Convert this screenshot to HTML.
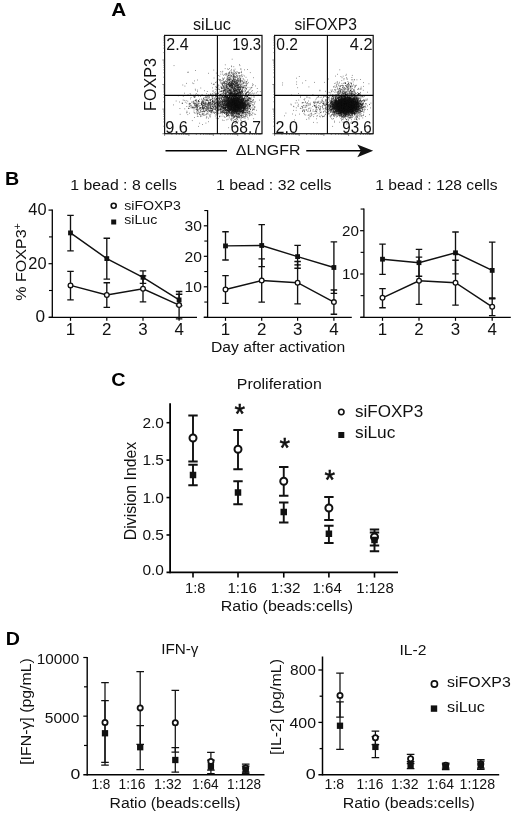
<!DOCTYPE html>
<html lang="en"><head><meta charset="utf-8"><title>Figure</title>
<style>
html,body{margin:0;padding:0;background:#fff;}
body{width:520px;height:817px;overflow:hidden;}
svg{display:block;font-family:'Liberation Sans', Arial, Helvetica, sans-serif;}
</style></head><body>
<svg width="520" height="817" viewBox="0 0 520 817">
<rect width="520" height="817" fill="#fff"/>
<g opacity="0.999">
<text x="111.20" y="15.75" font-size="19" textLength="15.00" lengthAdjust="spacingAndGlyphs" font-weight="bold" fill="#000">A</text>
<text x="193.00" y="29.80" font-size="16.2" textLength="37.80" lengthAdjust="spacingAndGlyphs" fill="#111">siLuc</text>
<text x="294.50" y="29.80" font-size="16.2" textLength="62.30" lengthAdjust="spacingAndGlyphs" fill="#111">siFOXP3</text>
<path d="M235.5 106.9h.65M233.7 101.2h.65M232.5 100.7h.65M235.9 111.9h.65M232.3 102.5h.65M238.7 107.2h.65M236.2 101.0h.65M235.3 108.8h.65M226.8 103.3h.65M223.1 99.3h.65M223.5 104.4h.65M227.3 106.8h.65M236.5 104.6h.65M219.1 102.9h.65M235.2 106.0h.65M225.6 103.2h.65M229.1 101.6h.65M242.4 101.6h.65M235.3 109.7h.65M231.7 105.0h.65M236.2 105.8h.65M227.5 105.9h.65M244.3 98.1h.65M241.1 106.1h.65M231.3 115.1h.65M240.5 99.7h.65M236.0 108.3h.65M234.3 108.8h.65M235.1 108.7h.65M244.9 102.3h.65M236.8 103.3h.65M236.3 99.8h.65M231.7 104.6h.65M241.3 111.0h.65M226.9 101.7h.65M239.7 95.9h.65M232.5 105.0h.65M243.7 108.8h.65M233.4 103.7h.65M233.9 112.8h.65M232.7 104.0h.65M237.8 104.9h.65M234.2 100.2h.65M235.4 103.4h.65M243.1 108.6h.65M235.3 108.7h.65M233.3 110.6h.65M235.5 108.3h.65M227.1 107.2h.65M224.5 95.7h.65M233.5 101.2h.65M236.6 116.3h.65M230.1 102.5h.65M236.8 107.9h.65M234.4 104.5h.65M240.1 108.0h.65M228.8 105.1h.65M235.7 100.4h.65M237.2 101.4h.65M241.8 106.4h.65M236.1 102.7h.65M234.7 95.9h.65M228.1 107.2h.65M221.7 109.6h.65M224.2 109.1h.65M230.0 109.2h.65M236.4 98.1h.65M243.6 112.4h.65M235.1 104.2h.65M234.5 100.8h.65M242.6 102.9h.65M235.2 101.7h.65M231.4 99.4h.65M243.7 104.8h.65M241.8 105.6h.65M231.0 103.9h.65M231.9 105.5h.65M233.1 104.1h.65M226.5 101.6h.65M246.3 102.3h.65M228.6 107.1h.65M244.6 98.5h.65M234.1 102.5h.65M224.1 109.0h.65M235.3 105.8h.65M230.6 107.7h.65M232.0 104.8h.65M228.3 99.7h.65M244.2 103.1h.65M237.4 105.3h.65M232.6 103.1h.65M239.6 104.1h.65M234.5 105.6h.65M243.1 108.8h.65M238.0 102.8h.65M226.5 110.1h.65M241.8 104.8h.65M239.0 109.3h.65M240.9 109.9h.65M232.5 112.8h.65M227.4 109.6h.65M238.7 109.7h.65M247.7 112.6h.65M228.1 97.4h.65M240.8 100.6h.65M235.4 109.5h.65M224.8 95.4h.65M237.2 105.7h.65M233.9 105.7h.65M229.9 98.2h.65M234.4 100.8h.65M224.8 107.9h.65M235.1 107.5h.65M229.1 102.3h.65M229.0 101.2h.65M236.8 101.7h.65M237.8 107.1h.65M248.7 98.8h.65M241.3 105.1h.65M235.4 98.5h.65M232.5 109.1h.65M235.0 105.9h.65M233.6 111.0h.65M235.4 94.9h.65M231.0 96.0h.65M214.4 103.0h.65M244.2 105.7h.65M227.9 101.0h.65M242.8 106.3h.65M235.8 105.2h.65M235.7 109.4h.65M239.1 106.5h.65M228.7 108.0h.65M231.1 110.8h.65M227.2 104.8h.65M235.5 99.1h.65M246.7 112.5h.65M232.5 109.2h.65M238.0 93.0h.65M237.1 105.2h.65M236.0 100.3h.65M233.7 104.6h.65M243.2 107.1h.65M235.5 112.8h.65M231.9 103.6h.65M223.7 113.0h.65M241.8 109.9h.65M239.8 106.0h.65M236.9 104.3h.65M234.2 105.8h.65M245.3 108.2h.65M235.1 102.7h.65M231.4 113.2h.65M238.8 105.8h.65M233.2 100.2h.65M235.1 109.7h.65M232.9 104.4h.65M234.1 106.0h.65M225.1 104.4h.65M229.9 109.7h.65M230.5 108.3h.65M245.4 104.0h.65M231.6 106.4h.65M235.5 100.7h.65M238.5 115.2h.65M233.8 104.5h.65M228.7 107.0h.65M227.4 100.2h.65M243.8 101.2h.65M242.5 112.8h.65M237.2 108.2h.65M248.2 104.6h.65M231.6 99.0h.65M235.8 112.6h.65M241.7 101.0h.65M229.9 103.1h.65M237.4 104.5h.65M236.9 106.9h.65M233.6 105.3h.65M236.8 105.1h.65M238.8 114.5h.65M239.3 105.8h.65M224.5 107.4h.65M222.8 98.7h.65M241.1 108.9h.65M234.5 97.3h.65M233.1 102.2h.65M239.6 116.3h.65M236.9 101.8h.65M227.9 105.2h.65M234.4 100.0h.65M236.3 100.0h.65M242.7 110.6h.65M242.6 103.2h.65M238.8 104.9h.65M233.0 103.9h.65M227.1 98.6h.65M240.7 104.6h.65M236.9 110.3h.65M224.2 101.7h.65M236.6 107.4h.65M233.0 110.4h.65M236.9 99.7h.65M229.5 109.4h.65M238.5 96.4h.65M244.3 108.4h.65M244.2 103.7h.65M233.6 100.1h.65M252.0 104.7h.65M245.8 102.4h.65M236.6 97.5h.65M233.0 110.2h.65M227.4 110.6h.65M237.7 100.5h.65M232.2 103.3h.65M235.2 102.9h.65M230.1 104.0h.65M228.8 99.3h.65M235.2 109.7h.65M225.6 105.5h.65M231.3 100.8h.65M241.0 103.0h.65M245.2 101.8h.65M238.0 104.4h.65M230.6 108.3h.65M234.5 108.4h.65M235.2 100.3h.65M234.8 105.7h.65M241.7 101.1h.65M235.2 97.2h.65M239.7 100.3h.65M223.8 105.2h.65M242.7 98.2h.65M228.4 101.9h.65M228.2 107.3h.65M230.3 102.0h.65M239.3 101.9h.65M238.3 100.8h.65M227.6 96.7h.65M247.6 104.0h.65M237.1 105.4h.65M236.5 105.7h.65M247.9 100.5h.65M225.4 100.6h.65M226.8 109.1h.65M240.8 100.9h.65M226.5 103.8h.65M244.5 92.0h.65M238.9 100.3h.65M242.3 100.3h.65M233.6 98.3h.65M229.1 112.2h.65M240.8 103.6h.65M229.8 96.4h.65M232.9 105.4h.65M235.0 105.0h.65M228.2 105.2h.65M235.2 111.7h.65M247.6 104.8h.65M230.5 105.2h.65M231.6 101.9h.65M235.1 100.5h.65M239.4 105.0h.65M237.1 104.6h.65M230.8 100.9h.65M234.0 102.9h.65M237.0 105.5h.65M226.6 105.8h.65M226.8 102.5h.65M233.6 95.5h.65M236.1 106.2h.65M234.5 103.5h.65M233.1 100.8h.65M233.7 102.8h.65M236.1 99.7h.65M237.0 106.2h.65M234.6 103.4h.65M239.1 97.5h.65M238.5 106.7h.65M237.3 107.3h.65M231.3 104.3h.65M239.6 107.6h.65M236.8 98.2h.65M239.0 111.1h.65M242.1 106.6h.65M225.4 110.0h.65M234.5 93.3h.65M238.0 98.3h.65M227.1 102.5h.65M243.8 103.7h.65M237.3 113.9h.65M245.9 105.0h.65M233.9 99.4h.65M231.0 107.5h.65M238.1 106.0h.65M242.0 101.8h.65M235.1 109.0h.65M239.3 110.6h.65M238.1 104.0h.65M237.9 100.7h.65M224.8 108.3h.65M235.1 107.0h.65M224.5 103.7h.65M231.6 101.4h.65M220.8 103.9h.65M241.3 107.3h.65M231.6 105.4h.65M240.4 92.2h.65M234.7 108.1h.65M239.9 113.7h.65M242.9 107.0h.65M237.5 109.3h.65M232.0 105.3h.65M241.4 114.9h.65M234.5 105.3h.65M236.8 111.9h.65M235.3 112.6h.65M229.2 104.6h.65M234.2 109.3h.65M242.3 98.3h.65M229.6 107.1h.65M231.2 98.2h.65M242.3 107.9h.65M238.7 103.2h.65M242.2 104.3h.65M242.6 101.1h.65M229.9 106.5h.65M230.9 108.7h.65M237.2 101.1h.65M236.0 103.8h.65M241.5 102.5h.65M232.6 111.3h.65M250.1 115.1h.65M235.9 106.6h.65M245.5 104.9h.65M229.2 106.1h.65M238.4 101.5h.65M224.8 98.6h.65M239.8 101.9h.65M234.6 106.5h.65M239.5 103.9h.65M238.7 101.2h.65M233.1 100.6h.65M242.9 105.4h.65M230.7 103.8h.65M234.1 108.9h.65M225.1 100.5h.65M233.0 117.7h.65M241.7 105.0h.65M240.1 115.4h.65M234.0 103.7h.65M243.4 107.9h.65M239.9 103.1h.65M248.0 113.7h.65M239.2 108.8h.65M222.3 108.6h.65M234.2 107.6h.65M239.9 103.9h.65M224.5 107.3h.65M230.7 103.9h.65M231.6 103.9h.65M220.5 111.3h.65M237.1 110.8h.65M248.4 105.6h.65M223.8 101.2h.65M227.7 103.1h.65M236.0 95.9h.65M237.7 98.3h.65M237.4 105.0h.65M233.5 105.1h.65M232.0 102.6h.65M224.6 105.4h.65M247.5 115.0h.65M244.1 108.9h.65M231.1 112.4h.65M235.1 105.2h.65M233.6 105.9h.65M232.7 105.1h.65M228.5 103.7h.65M250.3 105.2h.65M233.9 108.1h.65M240.1 100.2h.65M234.2 109.9h.65M237.3 106.1h.65M245.6 102.2h.65M236.0 103.0h.65M245.2 96.1h.65M231.1 103.0h.65M239.8 108.4h.65M244.6 97.9h.65M240.4 104.1h.65M231.2 108.1h.65M229.5 95.5h.65M233.1 98.3h.65M231.3 107.3h.65M237.5 113.1h.65M234.2 98.1h.65M230.6 101.1h.65M227.6 107.6h.65M231.3 96.0h.65M240.0 105.0h.65M237.8 106.0h.65M239.6 105.7h.65M243.5 107.5h.65M238.0 107.5h.65M226.0 104.7h.65M233.8 106.5h.65M226.7 113.3h.65M236.2 99.7h.65M224.4 104.1h.65M234.9 102.1h.65M236.1 102.4h.65M239.1 102.0h.65M235.2 110.2h.65M252.2 100.7h.65M232.5 101.5h.65M240.6 100.0h.65M232.4 105.4h.65M229.1 100.9h.65M232.4 95.4h.65M226.1 103.5h.65M236.5 104.6h.65M224.0 103.3h.65M240.7 108.2h.65M235.0 101.2h.65M239.6 102.7h.65M227.9 101.6h.65M244.9 106.6h.65M243.0 103.2h.65M241.6 102.6h.65M234.5 117.4h.65M240.5 103.1h.65M234.9 107.1h.65M243.4 103.2h.65M224.2 104.2h.65M235.6 106.0h.65M244.1 107.0h.65M240.8 100.2h.65M241.1 115.6h.65M240.5 106.7h.65M236.5 114.1h.65M229.5 105.0h.65M238.5 109.1h.65M232.7 107.0h.65M233.7 106.1h.65M234.6 100.0h.65M235.4 109.7h.65M229.2 104.3h.65M239.8 100.4h.65M236.7 100.4h.65M242.9 116.6h.65M248.6 104.4h.65M240.3 106.1h.65M236.2 112.9h.65M226.9 110.6h.65M235.2 112.3h.65M236.7 102.3h.65M237.3 109.0h.65M235.7 107.8h.65M232.1 95.3h.65M241.4 108.9h.65M236.5 105.8h.65M242.2 103.3h.65M230.9 104.6h.65M243.2 98.8h.65M243.2 102.4h.65M228.3 111.5h.65M234.9 99.3h.65M233.2 110.0h.65M243.2 103.4h.65M238.1 108.9h.65M231.3 107.2h.65M235.3 102.9h.65M232.3 105.8h.65M235.7 102.8h.65M232.7 110.8h.65M236.9 109.7h.65M243.3 108.3h.65M250.3 101.5h.65M240.8 104.0h.65M247.6 113.7h.65M222.8 100.8h.65M239.8 109.3h.65M240.3 105.2h.65M238.5 108.6h.65M235.0 110.4h.65M220.8 108.5h.65M228.8 110.1h.65M234.0 101.2h.65M237.9 101.1h.65M229.6 98.0h.65M235.3 107.9h.65M242.1 104.8h.65M242.3 105.6h.65M234.9 108.3h.65M242.4 103.9h.65M233.9 104.7h.65M236.0 101.2h.65M242.2 103.6h.65M238.5 101.5h.65M237.8 107.4h.65M232.8 115.2h.65M237.9 114.0h.65M241.7 102.3h.65M233.0 107.6h.65M235.9 105.7h.65M233.6 96.8h.65M234.0 94.9h.65M237.9 102.0h.65M230.8 104.4h.65M237.3 98.6h.65M224.1 100.4h.65M222.2 100.9h.65M245.8 100.4h.65M239.7 98.9h.65M237.4 104.0h.65M235.1 108.2h.65M246.9 106.4h.65M236.3 100.8h.65M239.3 104.3h.65M240.9 105.3h.65M246.8 96.0h.65M233.6 109.7h.65M233.2 101.7h.65M233.8 98.9h.65M236.3 117.2h.65M242.9 100.2h.65M229.8 103.6h.65M242.0 101.6h.65M231.0 109.7h.65M241.1 103.7h.65M228.2 98.1h.65M231.0 94.8h.65M240.4 102.5h.65M238.6 114.5h.65M243.1 100.0h.65M241.2 111.1h.65M230.6 100.9h.65M234.8 97.8h.65M245.1 94.0h.65M228.3 104.2h.65M234.0 106.3h.65M237.3 104.5h.65M242.9 95.2h.65M235.5 102.1h.65M236.4 106.6h.65M229.6 102.4h.65M240.7 107.2h.65M231.1 115.3h.65M250.5 98.5h.65M237.5 117.5h.65M240.6 106.6h.65M234.1 102.9h.65M234.1 102.9h.65M240.3 103.6h.65M232.6 99.7h.65M235.2 101.2h.65M234.3 110.5h.65M237.9 107.9h.65M237.8 105.8h.65M234.7 104.0h.65M240.4 100.3h.65M244.2 105.7h.65M230.6 103.2h.65M231.1 106.3h.65M230.8 111.0h.65M230.4 94.6h.65M230.7 95.9h.65M235.2 110.6h.65M239.7 99.1h.65M230.5 114.0h.65M237.6 105.5h.65M242.4 117.3h.65M243.9 106.2h.65M237.8 108.5h.65M231.5 100.4h.65M235.8 101.0h.65M235.1 106.0h.65M250.7 101.4h.65M234.7 104.7h.65M238.3 110.5h.65M232.3 101.6h.65M224.8 101.1h.65M239.0 105.7h.65M228.9 103.7h.65M235.7 107.9h.65M231.6 104.3h.65M223.7 100.0h.65M246.0 95.0h.65M233.3 106.6h.65M233.1 101.6h.65M235.1 105.5h.65M235.0 96.5h.65M234.5 101.4h.65M231.9 106.6h.65M239.7 109.8h.65M232.3 109.9h.65M243.1 111.0h.65M244.5 104.8h.65M234.4 109.5h.65M226.6 106.5h.65M232.1 103.7h.65M224.2 101.2h.65M235.4 109.8h.65M241.9 105.1h.65M234.3 101.5h.65M238.1 104.3h.65M239.4 113.9h.65M235.3 98.3h.65M229.9 98.5h.65M227.7 111.8h.65M237.0 98.2h.65M239.7 111.5h.65M233.2 102.3h.65M233.3 106.9h.65M239.7 111.2h.65M243.4 111.2h.65M244.4 108.7h.65M225.5 104.9h.65M237.5 103.7h.65M241.4 103.8h.65M229.5 112.4h.65M239.8 106.6h.65M241.5 110.6h.65M237.7 93.7h.65M231.1 103.3h.65M229.1 106.5h.65M243.2 103.2h.65M228.1 115.2h.65M232.6 99.6h.65M237.0 107.5h.65M230.9 109.3h.65M232.3 101.1h.65M236.7 109.2h.65M231.4 107.1h.65M234.9 119.1h.65M230.9 112.1h.65M235.2 104.9h.65M240.2 109.8h.65M243.7 107.1h.65M231.6 102.9h.65M238.8 108.3h.65M244.6 107.5h.65M242.4 112.8h.65M236.6 98.4h.65M227.8 98.6h.65M245.8 101.4h.65M243.5 108.3h.65M246.6 110.3h.65M234.8 104.5h.65M236.1 106.3h.65M232.1 105.3h.65M246.0 97.3h.65M237.2 101.1h.65M236.7 109.5h.65M235.1 109.2h.65M225.2 110.8h.65M231.6 108.5h.65M236.7 93.1h.65M230.6 106.6h.65M245.6 106.9h.65M237.2 98.7h.65M244.8 114.2h.65M235.7 104.4h.65M225.0 109.7h.65M253.1 108.9h.65M243.7 108.1h.65M229.1 111.9h.65M227.5 104.5h.65M237.3 109.7h.65M238.2 107.4h.65M230.6 99.3h.65M235.9 102.1h.65M227.0 99.4h.65M232.3 96.6h.65M226.7 97.7h.65M236.7 107.5h.65M248.5 98.3h.65M231.1 109.9h.65M234.1 103.9h.65M246.6 103.9h.65M228.0 99.2h.65M237.7 107.0h.65M226.6 100.8h.65M239.0 108.3h.65M231.3 108.5h.65M239.2 96.9h.65M233.5 107.5h.65M231.8 95.2h.65M233.7 109.1h.65M245.8 95.0h.65M252.5 100.1h.65M241.7 111.4h.65M241.9 106.2h.65M228.0 108.5h.65M230.9 93.4h.65M253.9 108.9h.65M247.3 101.1h.65M245.0 113.1h.65M245.6 105.4h.65M227.7 104.6h.65M221.2 97.3h.65M236.1 100.7h.65M234.4 105.0h.65M248.0 111.7h.65M235.2 111.3h.65M230.4 103.9h.65M241.4 99.5h.65M233.7 99.2h.65M236.3 113.3h.65M230.6 106.6h.65M229.7 100.0h.65M227.5 112.5h.65M250.9 107.8h.65M230.8 108.9h.65M233.3 109.3h.65M237.4 106.8h.65M239.4 102.7h.65M232.9 97.2h.65M232.6 98.7h.65M234.6 100.9h.65M236.2 107.7h.65M226.3 101.6h.65M229.4 109.1h.65M246.6 109.6h.65M233.2 112.5h.65M225.7 112.7h.65M231.2 92.2h.65M252.7 113.1h.65M228.8 106.3h.65M234.1 106.0h.65M225.9 102.2h.65M238.5 106.6h.65M243.3 105.9h.65M250.8 102.1h.65M237.2 96.3h.65M227.4 111.9h.65M229.4 108.0h.65M235.1 100.5h.65M233.2 103.0h.65M232.3 109.1h.65M239.7 102.7h.65M229.6 106.9h.65M234.8 110.4h.65M252.8 109.5h.65M235.3 104.7h.65M229.9 101.1h.65M229.0 103.6h.65M232.7 109.1h.65M232.9 104.6h.65M227.6 113.4h.65M238.8 114.1h.65M240.7 112.7h.65M233.9 108.9h.65M253.1 99.6h.65M243.1 113.7h.65M238.2 109.2h.65M243.8 102.3h.65M238.2 101.2h.65M231.0 102.5h.65M234.5 106.2h.65M238.5 98.5h.65M248.7 111.2h.65M240.3 103.7h.65M234.9 108.2h.65M238.2 97.2h.65M240.4 119.8h.65M223.2 110.4h.65M238.0 105.0h.65M244.6 99.7h.65M236.6 112.7h.65M234.2 103.4h.65M236.3 103.3h.65M245.8 101.0h.65M241.3 99.3h.65M240.0 105.0h.65M218.2 105.5h.65M228.4 103.3h.65M245.8 100.0h.65M228.4 112.6h.65M236.3 113.1h.65M237.7 101.1h.65M235.1 111.6h.65M241.8 105.5h.65M235.8 104.9h.65M231.6 115.0h.65M235.5 99.9h.65M232.3 109.1h.65M239.8 104.8h.65M231.0 105.6h.65M224.3 99.1h.65M240.8 103.1h.65M238.0 111.5h.65M239.8 105.6h.65M249.7 108.8h.65M233.1 109.1h.65M238.2 101.3h.65M236.0 104.7h.65M222.4 104.6h.65M233.6 103.3h.65M224.5 103.7h.65M235.2 106.0h.65M227.9 108.6h.65M227.4 104.4h.65M244.2 102.1h.65M232.1 110.8h.65M232.9 104.0h.65M237.0 110.7h.65M220.8 101.4h.65M228.8 100.2h.65M229.8 101.4h.65M237.5 101.1h.65M236.3 107.5h.65M230.6 106.1h.65M246.4 107.1h.65M231.3 105.2h.65M229.4 106.8h.65M241.2 101.5h.65M234.1 111.0h.65M232.2 106.4h.65M228.7 101.5h.65M232.1 115.9h.65M232.8 103.0h.65M231.8 104.7h.65M239.8 106.4h.65M248.9 106.5h.65M244.9 106.8h.65M239.4 98.6h.65M234.7 105.2h.65M233.9 95.2h.65M241.2 103.6h.65M232.7 104.3h.65M234.0 107.5h.65M227.2 101.0h.65M237.4 106.2h.65M233.1 102.7h.65M230.1 105.2h.65M243.2 100.4h.65M245.4 109.6h.65M232.6 109.3h.65M226.0 97.2h.65M227.1 103.5h.65M233.4 103.0h.65M236.1 95.3h.65M238.7 98.7h.65M231.2 103.5h.65M228.0 98.9h.65M229.0 105.4h.65M239.3 108.2h.65M229.0 101.7h.65M229.5 107.7h.65M222.3 111.4h.65M232.3 101.7h.65M237.7 110.5h.65M237.7 110.6h.65M236.4 111.4h.65M243.6 105.0h.65M244.9 106.3h.65M236.1 101.1h.65M233.6 109.2h.65M227.0 108.6h.65M237.8 106.8h.65M221.2 105.0h.65M239.7 101.8h.65M236.1 94.1h.65M239.9 102.3h.65M241.2 96.7h.65M240.0 104.4h.65M240.7 101.1h.65M231.5 116.3h.65M230.1 102.1h.65M233.7 100.6h.65M243.2 113.8h.65M230.9 97.2h.65M243.1 110.8h.65M240.8 111.1h.65M229.9 104.7h.65M226.5 98.7h.65M241.9 102.3h.65M250.3 105.9h.65M231.3 109.3h.65M247.2 107.8h.65M227.6 107.3h.65M244.4 103.1h.65M230.5 110.4h.65M236.4 100.2h.65M233.0 101.9h.65M237.4 106.0h.65M243.0 108.9h.65M225.3 107.5h.65M241.3 107.7h.65M242.2 102.9h.65M229.3 110.0h.65M228.6 95.1h.65M242.2 102.0h.65M233.5 98.8h.65M226.9 99.9h.65M233.2 107.3h.65M220.6 109.1h.65M227.8 100.4h.65M239.9 105.1h.65M225.5 114.4h.65M229.9 106.7h.65M236.8 112.3h.65M232.5 110.3h.65M230.7 110.9h.65M230.5 103.8h.65M247.8 107.0h.65M236.2 116.3h.65M237.8 101.6h.65M240.3 99.8h.65M242.8 111.3h.65M231.8 102.5h.65M236.6 105.6h.65M229.1 108.2h.65M222.2 103.4h.65M232.9 104.2h.65M237.5 99.6h.65M239.3 104.6h.65M231.3 98.9h.65M227.8 107.2h.65M229.2 105.8h.65M242.4 110.5h.65M245.6 104.1h.65M228.4 110.4h.65M237.5 110.9h.65M235.6 111.2h.65M241.0 108.9h.65M238.8 107.4h.65M237.0 106.6h.65M241.9 103.0h.65M246.8 105.0h.65M241.9 105.1h.65M233.9 115.3h.65M233.5 99.4h.65M230.9 104.0h.65M249.5 106.5h.65M241.6 100.7h.65M237.8 108.7h.65M247.2 102.2h.65M239.4 107.0h.65M228.9 105.4h.65M233.8 94.3h.65M239.4 108.1h.65M232.6 99.1h.65M245.1 106.8h.65M242.1 112.3h.65M232.1 109.4h.65M233.9 105.2h.65M234.9 105.5h.65M242.7 106.1h.65M234.5 104.2h.65M237.7 101.2h.65M232.2 105.2h.65M231.8 104.9h.65M231.5 115.1h.65M244.1 107.7h.65M235.2 116.0h.65M237.6 105.1h.65M237.5 107.0h.65M244.7 105.4h.65M249.1 101.3h.65M240.0 100.7h.65M247.3 103.9h.65M235.1 109.9h.65M243.7 100.2h.65M233.2 98.8h.65M236.4 105.0h.65M233.2 102.2h.65M233.0 101.9h.65M238.9 112.8h.65M223.0 104.9h.65M232.8 107.9h.65M229.3 104.8h.65M228.7 108.8h.65M236.1 104.7h.65M237.9 104.3h.65M225.4 108.4h.65M237.4 104.8h.65M241.9 111.3h.65M228.4 101.8h.65M245.6 112.3h.65M230.7 99.8h.65M231.4 103.1h.65M225.2 105.6h.65M227.2 99.7h.65M241.5 102.2h.65M235.0 108.5h.65M240.8 103.9h.65M235.8 101.5h.65M246.9 108.6h.65M228.3 105.5h.65M240.1 107.8h.65M247.4 112.1h.65M232.0 105.1h.65M227.2 106.7h.65M236.5 118.5h.65M236.1 95.5h.65M231.1 106.0h.65M227.3 101.3h.65M233.1 107.1h.65M234.4 101.2h.65M240.6 102.9h.65M232.3 98.9h.65M230.4 108.6h.65M225.0 105.2h.65M240.2 103.7h.65M237.1 100.1h.65M244.0 110.8h.65M237.0 97.1h.65M228.7 110.2h.65M246.6 106.9h.65M243.6 102.6h.65M234.3 105.5h.65M238.3 98.2h.65M241.6 111.8h.65M228.0 99.0h.65M237.8 102.4h.65M220.1 109.4h.65M236.5 103.2h.65M249.2 106.2h.65M230.6 106.0h.65M228.7 101.8h.65M238.0 102.8h.65M232.6 113.5h.65M241.1 109.4h.65M238.9 107.8h.65M245.0 105.4h.65M247.6 100.9h.65M233.8 98.9h.65M233.3 108.0h.65M244.9 102.3h.65M235.5 103.8h.65M230.7 99.8h.65M235.9 97.2h.65M236.2 105.6h.65M231.2 100.6h.65M226.5 114.5h.65M226.8 113.0h.65M239.4 103.8h.65M228.0 110.5h.65M246.7 101.0h.65M233.6 110.5h.65M237.7 115.1h.65M231.8 108.1h.65M227.4 115.6h.65M230.8 94.9h.65M234.7 104.8h.65M248.0 103.9h.65M235.4 108.3h.65M245.8 105.2h.65M242.3 108.0h.65M233.6 105.9h.65M235.7 101.1h.65M243.4 98.8h.65M243.1 110.1h.65M234.9 101.8h.65M234.0 107.8h.65M240.3 106.9h.65M241.9 102.8h.65M237.0 98.0h.65M240.5 106.2h.65M232.8 111.1h.65M240.0 92.0h.65M235.8 98.5h.65M242.4 117.4h.65M232.1 105.9h.65M233.9 107.2h.65M239.7 111.7h.65M229.1 113.0h.65M229.4 106.8h.65M243.0 108.9h.65M229.4 102.1h.65M232.5 105.3h.65M243.0 99.3h.65M238.5 108.4h.65M239.1 107.7h.65M245.4 107.8h.65M241.1 108.2h.65M247.2 96.4h.65M243.8 104.2h.65M233.7 100.8h.65M223.4 103.7h.65M231.0 107.9h.65M225.9 112.4h.65M237.3 104.3h.65M230.9 101.7h.65M228.2 102.9h.65M235.5 104.6h.65M226.3 104.2h.65M229.7 106.3h.65M247.6 108.5h.65M233.5 97.7h.65M226.3 97.4h.65M240.2 101.8h.65M235.9 102.5h.65M236.1 112.2h.65M231.0 103.9h.65M230.3 109.7h.65M228.8 100.1h.65M226.5 98.7h.65M238.6 117.8h.65M229.0 110.1h.65M237.1 100.2h.65M233.7 104.4h.65M231.0 114.8h.65M223.1 107.3h.65M237.7 102.7h.65M236.5 109.7h.65M236.5 107.5h.65M240.0 95.7h.65M245.1 116.4h.65M241.9 110.4h.65M226.3 104.9h.65M230.2 102.7h.65M241.8 101.6h.65M234.7 96.3h.65M234.5 105.9h.65M230.9 102.0h.65M247.8 99.7h.65M228.7 101.6h.65M243.3 115.6h.65M237.7 102.1h.65M232.7 110.6h.65M229.6 112.5h.65M244.7 105.8h.65M239.7 109.1h.65M245.6 100.5h.65M243.2 103.7h.65M230.5 106.0h.65M234.1 100.8h.65M225.1 101.0h.65M244.9 114.9h.65M239.7 111.2h.65M232.1 105.1h.65M237.3 100.3h.65M229.1 106.0h.65M233.4 100.4h.65M238.0 104.2h.65M242.1 105.5h.65M233.5 106.1h.65M234.4 102.3h.65M232.9 109.1h.65M239.7 111.7h.65M224.5 103.6h.65M232.8 106.3h.65M232.6 103.0h.65M240.6 106.4h.65M227.9 111.9h.65M242.0 102.7h.65M240.9 102.0h.65M242.8 104.5h.65M230.3 103.7h.65M230.5 106.4h.65M236.6 105.7h.65M231.9 87.9h.65M236.1 96.4h.65M237.1 110.9h.65M237.3 103.6h.65M234.3 104.9h.65M231.9 102.7h.65M229.5 111.2h.65M235.4 110.1h.65M233.9 105.8h.65M234.4 107.7h.65M240.9 106.7h.65M231.1 101.8h.65M246.3 104.2h.65M233.6 112.5h.65M242.6 108.1h.65M232.9 116.8h.65M238.1 108.1h.65M234.4 98.7h.65M226.8 107.5h.65M238.0 104.3h.65M227.9 98.6h.65M233.4 98.5h.65M241.3 111.0h.65M253.9 109.7h.65M231.6 101.3h.65M213.1 102.6h.65M234.3 110.1h.65M239.5 108.3h.65M236.9 108.7h.65M244.9 100.4h.65M232.5 98.8h.65M246.0 111.7h.65M240.4 99.7h.65M236.6 104.4h.65M236.0 104.6h.65M238.9 103.6h.65M241.1 106.7h.65M233.6 105.0h.65M232.6 109.4h.65M233.7 106.9h.65M232.9 98.4h.65M241.4 100.4h.65M239.9 107.5h.65M224.7 101.0h.65M232.2 101.6h.65M227.8 109.1h.65M233.9 107.4h.65M232.7 107.0h.65M230.6 105.4h.65M239.3 105.7h.65M232.5 100.3h.65M236.6 107.2h.65M233.8 101.8h.65M239.0 117.4h.65M233.5 107.1h.65M238.0 93.2h.65M236.3 102.1h.65M244.5 104.3h.65M230.4 104.5h.65M236.6 102.8h.65M235.2 99.0h.65M234.0 109.2h.65M248.3 108.9h.65M237.3 111.2h.65M242.1 113.5h.65M242.5 104.9h.65M237.2 106.4h.65M237.5 106.5h.65M230.4 95.4h.65M231.1 95.8h.65M235.9 105.5h.65M224.6 108.8h.65M241.1 106.0h.65M246.3 114.5h.65M227.7 110.5h.65M238.4 107.5h.65M241.6 102.0h.65M231.6 101.5h.65M230.6 105.0h.65M226.1 100.5h.65M239.3 105.2h.65M238.0 96.4h.65M230.4 102.8h.65M235.7 102.7h.65M241.6 105.2h.65M235.6 105.6h.65M240.1 103.2h.65M242.8 107.7h.65M236.5 105.7h.65M238.9 110.4h.65M241.6 107.3h.65M241.2 106.1h.65M243.6 105.4h.65M222.0 111.9h.65M236.2 99.9h.65M234.2 101.3h.65M249.2 107.9h.65M225.3 108.1h.65M232.9 114.7h.65M228.7 94.7h.65M235.9 103.8h.65M232.8 95.2h.65M238.3 113.5h.65M223.1 111.1h.65M231.8 116.8h.65M238.3 104.6h.65M242.7 108.0h.65M231.6 108.9h.65M232.2 96.9h.65M248.7 103.8h.65M231.5 107.1h.65M225.4 99.0h.65M232.3 103.0h.65M236.0 110.9h.65M232.4 107.9h.65M239.4 100.3h.65M237.0 101.0h.65M242.4 107.7h.65M235.6 99.1h.65M236.3 101.8h.65M240.1 104.9h.65M230.2 109.9h.65M240.2 102.7h.65M243.1 104.1h.65M233.5 106.1h.65M230.6 103.4h.65M234.5 112.8h.65M245.2 104.3h.65M246.0 105.3h.65M238.0 109.7h.65M237.4 117.1h.65M237.1 99.8h.65M244.0 103.5h.65M233.5 91.1h.65M242.0 109.4h.65M240.7 110.2h.65M246.5 105.3h.65M241.6 101.9h.65M233.2 110.6h.65M238.0 99.1h.65M237.8 104.6h.65M230.2 107.6h.65M232.9 98.0h.65M228.3 114.0h.65M225.7 106.6h.65M239.5 108.6h.65M227.5 104.0h.65M236.4 109.3h.65M231.3 99.9h.65M242.0 110.8h.65M237.9 102.6h.65M238.1 106.0h.65M240.9 99.5h.65M236.3 104.7h.65M228.3 106.5h.65M235.7 103.5h.65M238.1 98.7h.65M235.2 107.6h.65M237.3 110.7h.65M227.7 98.3h.65M237.1 107.7h.65M249.3 108.5h.65M229.8 109.4h.65M230.0 98.4h.65M252.5 107.1h.65M240.1 108.2h.65M247.3 106.9h.65M243.4 100.6h.65M226.5 112.3h.65M245.1 108.0h.65M237.0 106.3h.65M231.0 112.9h.65M239.8 107.9h.65M237.9 110.5h.65M238.8 109.1h.65M227.9 107.9h.65M249.7 103.0h.65M234.7 109.8h.65M241.7 108.5h.65M225.0 107.9h.65M227.8 101.5h.65M239.1 104.1h.65M240.8 120.6h.65M240.6 109.0h.65M229.7 102.4h.65M228.6 102.9h.65M228.4 102.3h.65M234.1 100.7h.65M226.3 99.0h.65M238.5 105.8h.65M242.2 110.5h.65M233.3 108.7h.65M226.1 116.5h.65M243.3 104.5h.65M227.9 107.3h.65M223.3 101.8h.65M240.4 105.9h.65M232.3 110.1h.65M228.7 106.9h.65M232.3 101.4h.65M238.5 100.7h.65M247.9 102.7h.65M248.4 100.2h.65M239.4 99.7h.65M226.8 106.3h.65M239.9 99.4h.65M243.2 101.7h.65M236.4 107.3h.65M239.4 96.9h.65M246.0 108.2h.65M232.7 100.6h.65M224.5 99.0h.65M239.0 103.9h.65M228.1 103.0h.65M245.7 103.9h.65M231.7 112.0h.65M238.5 105.7h.65M231.5 98.0h.65M227.9 103.2h.65M234.1 107.2h.65M239.1 106.6h.65M236.9 100.7h.65M221.5 103.0h.65M229.3 102.4h.65M233.7 99.5h.65M228.3 105.0h.65M236.3 102.4h.65M238.7 104.4h.65M228.9 105.7h.65M247.7 102.3h.65M243.1 112.1h.65M245.2 101.6h.65M248.6 106.1h.65M233.9 104.4h.65M239.4 105.7h.65M234.4 111.7h.65M230.8 100.5h.65M240.7 108.9h.65M242.6 100.4h.65M242.5 107.8h.65M247.0 99.5h.65M236.9 104.2h.65M225.2 102.1h.65M242.8 103.2h.65M230.8 109.7h.65M241.9 110.2h.65M230.4 105.2h.65M242.2 102.4h.65M230.6 109.5h.65M245.7 100.0h.65M218.6 98.5h.65M228.9 104.8h.65M239.5 104.8h.65M230.9 106.2h.65M229.2 105.3h.65M231.3 118.4h.65M240.8 101.5h.65M229.0 103.4h.65M224.8 102.0h.65M230.7 109.7h.65M232.7 101.7h.65M226.8 99.9h.65M235.1 104.5h.65M242.9 102.5h.65M242.4 106.7h.65M235.5 95.9h.65M227.1 109.1h.65M244.6 106.5h.65M240.5 103.5h.65M233.1 102.3h.65M241.8 107.1h.65M234.0 103.9h.65M239.1 107.1h.65M230.1 113.7h.65M237.2 105.6h.65M245.1 110.4h.65M234.9 108.1h.65M228.5 102.4h.65M220.8 111.4h.65M223.2 108.8h.65M230.1 100.8h.65M234.2 106.8h.65M239.5 114.0h.65M237.8 109.7h.65M231.6 108.9h.65M236.5 103.3h.65M234.9 105.2h.65M236.7 107.4h.65M232.2 101.9h.65M240.4 97.4h.65M231.5 113.0h.65M217.9 102.2h.65M240.0 97.6h.65M252.4 93.1h.65M244.8 113.0h.65M241.5 104.4h.65M237.8 101.2h.65M240.8 100.1h.65M233.7 110.3h.65M228.3 103.8h.65M236.6 99.1h.65M243.1 107.1h.65M225.6 105.3h.65M230.5 102.3h.65M236.0 102.1h.65M241.8 102.1h.65M241.9 105.3h.65M241.1 102.9h.65M232.2 100.0h.65M239.3 110.0h.65M249.3 111.7h.65M237.1 104.5h.65M238.0 105.4h.65M245.0 110.0h.65M230.1 102.2h.65M244.4 107.0h.65M234.0 111.2h.65M233.0 104.2h.65M232.5 96.1h.65M241.1 99.7h.65M231.8 101.9h.65M240.2 105.2h.65M235.6 97.4h.65M234.9 98.4h.65M237.5 107.3h.65M235.4 115.3h.65M238.9 108.4h.65M236.4 104.6h.65M241.8 110.8h.65M227.0 110.6h.65M238.8 110.1h.65M238.5 99.5h.65M227.9 114.3h.65M237.1 98.7h.65M237.8 103.8h.65M223.5 94.5h.65M225.1 106.8h.65M235.2 104.3h.65M237.4 108.4h.65M221.8 104.1h.65M230.1 99.6h.65M231.9 104.9h.65M233.8 98.5h.65M232.4 115.2h.65M228.6 97.4h.65M237.3 108.4h.65M238.5 100.1h.65M242.0 101.7h.65M228.1 102.6h.65M234.8 108.9h.65M239.6 105.4h.65M241.6 105.9h.65M241.3 98.8h.65M225.3 109.2h.65M226.5 104.1h.65M234.9 103.2h.65M232.6 112.2h.65M219.1 109.7h.65M250.4 105.6h.65M235.4 109.0h.65M247.4 99.8h.65M236.1 104.6h.65M239.1 106.3h.65M239.8 103.5h.65M235.8 102.3h.65M231.2 104.8h.65M234.6 99.9h.65M245.7 104.9h.65M226.5 110.8h.65M230.6 107.9h.65M235.4 106.7h.65M236.6 102.7h.65M235.8 115.3h.65M221.0 105.8h.65M238.3 100.4h.65M226.6 115.9h.65M233.1 115.5h.65M239.0 105.9h.65M238.6 108.5h.65M243.2 107.6h.65M236.4 106.3h.65M244.3 109.4h.65M229.0 102.4h.65M237.6 102.5h.65M233.1 100.9h.65M233.8 107.5h.65M242.0 105.5h.65M249.0 105.1h.65M256.3 110.3h.65M238.7 103.1h.65M217.1 104.8h.65M236.7 114.7h.65M226.5 114.6h.65M233.9 109.0h.65M219.0 106.2h.65M233.3 108.8h.65M236.1 100.0h.65M241.7 108.8h.65M239.4 110.3h.65M242.7 105.4h.65M226.7 98.9h.65M244.3 108.9h.65M236.2 103.4h.65M235.7 105.6h.65M233.3 102.1h.65M249.6 106.6h.65M231.6 99.3h.65M230.8 109.0h.65M240.4 104.5h.65M235.8 104.0h.65M228.3 111.7h.65M237.9 117.4h.65M230.6 104.8h.65M241.2 104.3h.65M226.5 100.9h.65M236.2 107.1h.65M234.9 110.3h.65M242.0 107.0h.65M235.7 104.3h.65M239.1 109.9h.65M235.9 107.7h.65M233.4 98.7h.65M229.0 109.2h.65M238.4 113.1h.65M235.9 109.7h.65M244.1 110.3h.65M231.5 104.6h.65M236.3 100.8h.65M238.6 110.4h.65M232.4 115.0h.65M233.6 104.5h.65M234.0 102.1h.65M238.2 105.6h.65M246.3 108.4h.65M239.0 104.4h.65M226.3 105.1h.65M230.0 110.1h.65M235.3 113.5h.65M240.3 109.5h.65M237.0 106.5h.65M239.7 109.9h.65M230.9 107.9h.65M252.5 105.1h.65M233.8 102.2h.65M226.1 111.2h.65M235.9 106.9h.65M247.5 117.5h.65M229.7 110.6h.65M239.6 107.4h.65M238.6 105.4h.65M245.8 108.5h.65M237.8 111.5h.65M241.3 107.7h.65M237.6 113.9h.65M238.8 105.1h.65M229.9 103.9h.65M228.7 106.0h.65M237.2 95.7h.65M235.6 108.6h.65M236.6 100.9h.65M243.8 102.2h.65M227.5 100.3h.65M235.4 110.2h.65M243.1 106.5h.65M227.8 102.4h.65M229.7 104.7h.65M224.0 106.0h.65M239.7 104.8h.65M238.5 101.0h.65M226.1 102.4h.65M243.0 110.4h.65M232.5 111.3h.65M233.4 112.8h.65M238.6 103.3h.65M240.7 101.8h.65M229.4 98.5h.65M237.2 105.2h.65M235.0 103.5h.65M244.8 103.5h.65M230.8 111.5h.65M244.7 107.1h.65M224.2 102.6h.65M239.5 105.6h.65M245.6 98.9h.65M239.9 102.5h.65M244.1 105.1h.65M242.2 102.4h.65M226.3 100.2h.65M231.6 100.6h.65M243.3 111.9h.65M237.3 100.5h.65M234.7 102.2h.65M245.0 107.0h.65M238.7 103.6h.65M222.4 101.8h.65M228.2 107.3h.65M236.1 101.7h.65M233.0 113.0h.65M229.3 101.1h.65M234.0 102.1h.65M232.7 108.1h.65M246.8 97.0h.65M235.4 105.7h.65M235.0 104.6h.65M233.3 110.3h.65M232.5 104.9h.65M235.5 106.0h.65M234.4 110.3h.65M235.4 106.3h.65M235.2 100.7h.65M230.1 100.5h.65M236.8 102.1h.65M228.6 106.6h.65M238.9 97.0h.65M246.5 105.7h.65M234.8 110.6h.65M236.0 102.6h.65M249.8 100.3h.65M234.9 109.6h.65M228.5 105.0h.65M238.0 117.0h.65M229.7 105.3h.65M239.8 105.9h.65M227.7 107.5h.65M236.2 107.6h.65M242.9 110.4h.65M238.2 107.0h.65M228.4 104.9h.65M236.9 103.6h.65M236.1 101.5h.65M245.5 115.8h.65M233.0 107.4h.65M234.0 111.6h.65M238.3 105.9h.65M234.0 106.1h.65M229.0 108.7h.65M230.9 108.1h.65M236.3 110.8h.65M235.4 110.4h.65M229.5 108.4h.65M234.0 106.4h.65M236.0 110.0h.65M222.4 107.1h.65M225.8 111.3h.65M222.7 100.7h.65M224.6 113.4h.65M227.1 106.0h.65M232.0 96.9h.65M233.3 108.7h.65M234.3 110.0h.65M233.1 105.5h.65M233.0 107.1h.65M247.8 107.2h.65M236.8 102.5h.65M230.6 112.5h.65M228.3 101.1h.65M234.9 103.5h.65M248.2 94.1h.65M237.8 108.9h.65M228.2 102.4h.65M238.3 113.3h.65M229.5 97.9h.65M241.8 112.8h.65M233.3 94.9h.65M244.9 104.5h.65M242.8 105.3h.65M233.1 103.3h.65M245.1 112.4h.65M221.6 101.0h.65M247.1 103.7h.65M226.7 105.5h.65M234.8 105.0h.65M232.4 104.0h.65M232.5 107.1h.65M230.2 104.1h.65M234.6 111.8h.65M237.9 105.0h.65M239.0 107.4h.65M242.6 107.9h.65M247.2 112.0h.65M235.2 103.5h.65M241.2 108.0h.65M234.9 98.4h.65M223.6 107.2h.65M240.5 109.4h.65M227.1 110.5h.65M232.0 107.4h.65M238.2 101.6h.65M231.7 95.5h.65M229.5 96.8h.65M238.3 105.8h.65M241.4 107.2h.65M231.4 107.2h.65M233.0 108.4h.65M237.5 100.8h.65M235.5 105.8h.65M233.5 109.8h.65M246.6 103.7h.65M233.2 94.7h.65M234.7 103.4h.65M221.5 106.9h.65M239.3 102.0h.65M233.1 100.9h.65M240.5 98.2h.65M233.5 114.9h.65M235.8 107.7h.65M234.5 99.9h.65M235.3 107.5h.65M228.9 107.1h.65M243.6 110.6h.65M225.2 100.8h.65M225.0 110.6h.65M239.5 108.9h.65M229.8 99.9h.65M236.0 106.0h.65M229.9 106.2h.65M239.7 106.6h.65M228.7 95.4h.65M233.8 106.3h.65M233.8 103.4h.65M231.0 108.9h.65M235.2 106.1h.65M229.2 102.5h.65M236.6 100.7h.65M227.3 103.9h.65M243.3 106.4h.65M245.0 104.9h.65M233.5 98.8h.65M231.8 112.4h.65M237.6 109.0h.65M240.1 105.5h.65M234.2 106.1h.65M239.9 107.7h.65M238.7 106.2h.65M230.5 104.2h.65M229.4 110.3h.65M221.8 104.5h.65M251.0 103.9h.65M228.1 105.4h.65M243.9 104.7h.65M239.5 106.0h.65M233.1 120.6h.65M236.0 102.9h.65M232.3 107.3h.65M238.2 109.2h.65M236.4 98.6h.65M239.0 104.0h.65M233.6 98.4h.65M231.8 102.0h.65M235.3 98.5h.65M235.8 106.1h.65M228.2 102.5h.65M229.9 109.9h.65M219.1 103.9h.65M224.7 103.4h.65M241.0 102.5h.65M236.4 101.4h.65M248.1 109.9h.65M242.8 99.1h.65M228.3 110.7h.65M234.2 104.3h.65M237.7 99.5h.65M240.5 105.6h.65M238.6 102.3h.65M238.8 102.1h.65M241.7 110.9h.65M241.4 108.0h.65M239.6 92.5h.65M240.9 104.2h.65M236.1 104.1h.65M226.5 102.9h.65M239.8 112.3h.65M231.5 101.2h.65M244.9 101.3h.65M249.0 105.7h.65M229.8 110.2h.65M246.5 98.6h.65M245.6 104.1h.65M245.2 103.7h.65M225.2 107.9h.65M241.5 115.6h.65M246.7 108.8h.65M234.0 103.0h.65M233.6 101.5h.65M233.7 93.3h.65M236.7 105.4h.65M252.2 109.1h.65M232.4 108.2h.65M227.5 102.6h.65M223.4 112.4h.65M239.4 99.9h.65M235.1 110.1h.65M238.7 107.3h.65M229.9 102.4h.65M236.1 109.9h.65M230.1 100.1h.65M242.9 101.0h.65M242.5 106.7h.65M241.2 113.9h.65M240.0 109.2h.65M229.5 102.2h.65M239.7 112.9h.65M244.5 116.6h.65M237.5 106.5h.65M242.0 105.6h.65M235.1 100.5h.65M241.9 100.4h.65M238.8 98.7h.65M242.6 100.6h.65M241.0 97.9h.65M232.6 111.2h.65M230.3 105.8h.65M232.4 94.4h.65M237.5 107.6h.65M228.3 108.3h.65M230.3 100.7h.65M235.5 102.2h.65M250.4 98.0h.65M240.3 110.2h.65M222.6 97.2h.65M239.2 103.2h.65M238.0 111.0h.65M233.1 100.4h.65M217.8 106.5h.65M229.5 107.0h.65M237.0 98.9h.65M246.7 110.7h.65M241.0 99.8h.65M232.9 102.9h.65M232.8 100.1h.65M238.3 106.6h.65M237.9 103.1h.65M243.9 106.4h.65M217.7 102.4h.65M235.1 110.1h.65M233.5 104.3h.65M231.2 108.7h.65M232.6 102.6h.65M230.7 108.2h.65M232.0 97.5h.65M239.5 102.1h.65M237.8 107.3h.65M243.3 110.5h.65M231.8 104.7h.65M227.1 113.6h.65M238.4 112.2h.65M233.4 95.7h.65M245.5 105.9h.65M236.4 105.8h.65M239.7 108.1h.65M225.2 110.7h.65M232.1 103.3h.65M246.7 109.9h.65M233.3 96.6h.65M236.6 108.1h.65M235.0 99.5h.65M230.4 99.5h.65M236.9 109.4h.65M242.2 102.0h.65M237.0 108.2h.65M232.2 104.8h.65M249.3 106.5h.65M241.2 103.4h.65M235.8 97.3h.65M235.3 111.2h.65M249.1 111.2h.65M240.0 105.8h.65M231.6 104.7h.65M239.5 101.7h.65M241.6 100.8h.65M223.9 100.6h.65M224.7 98.9h.65M242.9 104.5h.65M236.9 111.1h.65M243.7 103.1h.65M244.1 107.3h.65M235.5 107.6h.65M226.2 101.7h.65M234.8 108.4h.65M233.1 104.9h.65M241.8 112.3h.65M240.5 111.6h.65M232.9 104.0h.65M237.6 104.1h.65M232.2 113.4h.65M234.2 100.9h.65M238.7 114.3h.65M236.0 111.4h.65M232.7 103.1h.65M231.0 104.8h.65M247.4 100.0h.65M246.1 100.7h.65M234.0 109.5h.65M239.6 106.9h.65M224.8 107.2h.65M228.9 117.8h.65M234.1 106.4h.65M228.0 103.2h.65M227.1 110.2h.65M233.8 108.2h.65M231.1 103.1h.65M243.9 100.8h.65M223.8 107.4h.65M228.1 103.4h.65M241.4 101.6h.65M241.2 102.2h.65M245.2 111.9h.65M232.4 104.5h.65M230.1 106.5h.65M243.0 98.6h.65M241.5 99.1h.65M229.9 96.9h.65M249.2 105.8h.65M237.1 102.3h.65M242.4 95.4h.65M235.7 116.1h.65M233.0 105.6h.65M239.9 101.6h.65M235.6 110.1h.65M236.8 107.3h.65M233.2 107.0h.65M235.9 112.5h.65M240.2 104.3h.65M219.6 108.9h.65M240.4 101.1h.65M222.5 100.0h.65M241.5 100.4h.65M232.5 106.6h.65M243.5 105.4h.65M234.8 102.9h.65M246.1 110.6h.65M234.9 98.8h.65M230.4 108.3h.65M230.8 109.8h.65M237.8 106.9h.65M239.7 107.9h.65M229.9 103.9h.65M250.7 99.7h.65M232.4 110.6h.65M234.5 101.6h.65M226.9 108.1h.65M242.1 112.2h.65M235.8 110.5h.65M228.8 106.3h.65M231.1 106.3h.65M240.4 110.6h.65M229.1 111.6h.65M232.4 100.6h.65M234.4 98.5h.65M235.5 106.9h.65M234.2 108.1h.65M233.5 105.5h.65M226.1 105.7h.65M230.0 103.3h.65M234.9 106.4h.65M224.8 98.0h.65M233.5 107.8h.65M237.8 109.8h.65M244.0 107.9h.65M235.4 100.5h.65M229.4 103.3h.65M237.2 106.6h.65M235.5 104.8h.65M239.6 106.5h.65M237.4 107.0h.65M231.9 100.6h.65M238.7 107.5h.65M234.1 103.5h.65M250.3 101.9h.65M234.1 106.8h.65M228.0 106.1h.65M247.2 110.0h.65M239.6 108.3h.65M236.2 110.1h.65M234.5 103.5h.65M236.2 109.8h.65M237.6 108.7h.65M222.3 111.2h.65M250.7 111.9h.65M233.4 101.4h.65M237.3 100.8h.65M240.2 103.0h.65M241.7 112.0h.65M222.3 106.9h.65M231.0 98.7h.65M231.5 104.4h.65M242.2 98.2h.65M242.3 115.2h.65M239.4 108.1h.65M235.4 99.9h.65M239.0 107.3h.65M240.3 117.8h.65M240.2 107.5h.65M245.7 99.0h.65M228.1 103.7h.65M231.2 108.8h.65M233.4 113.9h.65M245.4 109.2h.65M233.0 108.5h.65M240.8 100.4h.65M237.8 108.9h.65M236.9 113.0h.65M243.4 101.5h.65M236.3 101.5h.65M239.3 101.3h.65M241.5 107.4h.65M241.8 104.8h.65M226.0 114.0h.65M234.4 112.1h.65M238.3 108.7h.65M247.4 107.1h.65M244.6 98.4h.65M241.2 104.3h.65M234.6 105.5h.65M237.8 113.5h.65M223.5 105.7h.65M230.8 111.1h.65M232.7 107.7h.65M232.9 108.7h.65M242.1 103.6h.65M235.8 98.7h.65M237.5 109.6h.65M231.9 110.9h.65M222.0 96.6h.65M226.5 103.2h.65M235.6 105.1h.65M235.1 109.0h.65M232.4 99.4h.65M227.4 115.6h.65M220.2 104.7h.65M245.0 107.8h.65M230.1 105.5h.65M241.1 111.3h.65M229.7 109.2h.65M237.1 110.8h.65M244.5 103.9h.65M226.1 107.4h.65M247.0 108.8h.65M237.0 117.0h.65M228.7 109.8h.65M231.8 105.7h.65M236.1 112.8h.65M229.4 102.9h.65M225.1 107.8h.65M232.5 107.5h.65M228.5 103.8h.65M242.3 104.7h.65M239.6 108.0h.65M233.2 98.0h.65M241.9 106.3h.65M241.9 95.8h.65M224.7 95.2h.65M229.8 110.5h.65M239.2 105.3h.65M236.4 109.2h.65M233.5 107.4h.65M236.4 95.0h.65M233.0 112.0h.65M232.9 104.8h.65M231.6 103.2h.65M242.8 104.2h.65M228.9 90.6h.65M231.8 96.1h.65M223.6 109.3h.65M240.1 96.3h.65M241.0 107.7h.65M230.4 109.0h.65M224.9 99.7h.65M226.1 100.2h.65M241.2 99.1h.65M228.0 100.9h.65M236.8 103.9h.65M241.1 102.1h.65M227.1 103.1h.65M235.7 101.0h.65M237.3 114.2h.65M231.7 105.7h.65M244.2 102.3h.65M229.9 100.2h.65M238.0 107.9h.65M234.4 105.6h.65M243.7 109.6h.65M226.3 105.4h.65M236.0 108.9h.65M233.9 102.3h.65M232.4 96.8h.65M235.2 102.5h.65M238.3 100.4h.65M232.5 100.7h.65M228.4 108.7h.65M232.3 107.5h.65M228.0 105.8h.65M224.3 103.0h.65M232.0 108.1h.65M236.4 104.5h.65M240.7 106.2h.65M238.7 109.0h.65M234.8 103.9h.65M237.3 103.3h.65M237.7 110.6h.65M240.8 103.5h.65M226.9 105.0h.65M234.4 110.6h.65M232.7 104.3h.65M240.0 103.0h.65M234.2 113.5h.65M244.9 108.3h.65M236.9 100.6h.65M238.8 105.6h.65M236.6 102.8h.65M235.1 104.4h.65M237.2 112.1h.65M237.5 97.3h.65M228.9 97.7h.65M230.0 107.9h.65M237.8 102.4h.65M236.9 101.6h.65M226.0 98.5h.65M229.6 112.1h.65M226.5 111.2h.65M243.8 104.4h.65M234.9 102.3h.65M235.0 108.4h.65M235.2 110.0h.65M242.9 106.9h.65M237.3 105.0h.65M237.4 99.9h.65M237.8 106.2h.65M229.6 115.6h.65M228.9 101.1h.65M237.0 96.0h.65M230.0 97.9h.65M228.9 104.6h.65M237.2 110.5h.65M240.4 110.9h.65M239.0 103.0h.65M242.4 102.9h.65M231.2 112.6h.65M240.3 106.3h.65M240.0 109.5h.65M226.3 104.8h.65M227.5 105.8h.65M230.8 111.7h.65M238.5 101.3h.65M235.0 99.4h.65M234.4 105.9h.65M236.3 86.1h.65M231.2 105.6h.65M236.6 110.8h.65M223.1 105.7h.65M228.5 103.1h.65M237.5 107.0h.65M229.1 103.0h.65M224.1 90.3h.65M238.7 101.1h.65M220.3 94.7h.65M234.2 114.0h.65M242.9 107.9h.65M218.8 100.8h.65M238.1 104.7h.65M237.5 99.7h.65M248.9 113.3h.65M233.2 93.7h.65M251.5 97.1h.65M244.2 116.8h.65M226.0 103.9h.65M231.0 105.7h.65M236.7 117.1h.65M239.0 101.5h.65M243.6 99.4h.65M230.9 119.4h.65M227.0 97.6h.65M234.4 93.1h.65M216.1 110.0h.65M227.3 97.2h.65M230.8 93.7h.65M224.9 102.8h.65M254.4 107.4h.65M240.3 89.5h.65M233.8 92.1h.65M240.6 99.7h.65M234.3 100.8h.65M229.0 89.4h.65M238.9 90.5h.65M224.0 99.1h.65M228.0 103.6h.65M242.6 103.5h.65M235.7 101.7h.65M241.3 86.8h.65M237.1 94.1h.65M223.5 101.6h.65M230.7 106.2h.65M243.4 82.9h.65M233.4 117.2h.65M241.4 113.1h.65M234.9 90.0h.65M224.4 107.2h.65M242.1 95.7h.65M231.7 103.6h.65M219.1 98.7h.65M247.8 119.0h.65M233.1 116.2h.65M229.5 95.0h.65M215.0 109.2h.65M230.8 120.2h.65M236.8 103.0h.65M218.7 113.5h.65M230.9 100.2h.65M215.3 108.9h.65M242.4 96.7h.65M234.8 104.7h.65M242.2 102.4h.65M248.7 99.6h.65M228.9 97.8h.65M212.4 95.1h.65M242.6 103.7h.65M227.1 104.4h.65M216.9 99.3h.65M238.5 107.1h.65M227.5 108.9h.65M249.9 98.2h.65M240.3 89.1h.65M217.4 106.5h.65M234.4 103.2h.65M229.1 99.2h.65M240.9 115.3h.65M232.2 88.4h.65M244.9 106.4h.65M239.9 103.0h.65M253.8 102.2h.65M238.4 86.8h.65M229.1 96.1h.65M233.8 104.4h.65M227.7 115.4h.65M225.0 98.0h.65M236.1 91.6h.65M238.9 106.7h.65M231.6 116.9h.65M234.8 103.8h.65M225.9 88.2h.65M228.7 99.0h.65M230.2 107.7h.65M213.8 92.5h.65M218.5 112.3h.65M229.3 97.5h.65M224.7 108.8h.65M230.6 103.4h.65M216.8 111.0h.65M237.4 106.0h.65M244.6 100.1h.65M232.7 107.3h.65M237.7 99.6h.65M234.5 97.6h.65M240.2 109.1h.65M234.1 116.7h.65M221.0 99.7h.65M248.7 98.2h.65M220.5 112.8h.65M238.7 92.0h.65M240.7 93.4h.65M222.7 100.4h.65M230.0 92.8h.65M231.0 93.6h.65M234.6 101.4h.65M240.4 98.0h.65M222.7 91.0h.65M232.0 113.9h.65M241.3 96.5h.65M242.1 92.3h.65M242.7 98.6h.65M240.6 106.6h.65M231.7 104.3h.65M225.0 101.0h.65M240.1 102.3h.65M225.5 110.1h.65M220.0 95.2h.65M237.2 92.0h.65M247.2 110.4h.65M229.3 97.2h.65M222.9 90.4h.65M237.9 106.6h.65M237.1 103.8h.65M229.3 104.5h.65M221.6 101.7h.65M246.7 112.2h.65M230.2 98.9h.65M245.9 116.0h.65M221.3 98.2h.65M236.1 111.4h.65M227.0 106.8h.65M231.5 120.7h.65M237.8 100.6h.65M231.3 110.1h.65M239.9 92.9h.65M236.0 90.9h.65M227.7 91.2h.65M222.8 96.1h.65M225.8 105.9h.65M240.9 99.7h.65M224.6 108.1h.65M216.8 86.1h.65M240.3 106.9h.65M242.4 99.9h.65M223.4 97.5h.65M239.0 95.5h.65M228.1 90.4h.65M224.2 108.4h.65M238.0 92.3h.65M224.9 97.1h.65M238.8 92.3h.65M232.7 84.4h.65M223.4 105.0h.65M241.8 92.4h.65M227.5 108.1h.65M230.8 97.3h.65M238.6 103.2h.65M243.6 108.0h.65M229.2 100.7h.65M233.6 90.8h.65M225.8 109.5h.65M220.6 109.6h.65M236.6 100.5h.65M238.7 105.5h.65M244.5 98.4h.65M232.2 99.7h.65M250.2 109.3h.65M226.3 99.0h.65M228.1 101.8h.65M236.0 120.1h.65M218.6 109.9h.65M237.9 96.0h.65M232.9 97.7h.65M234.6 109.8h.65M221.2 112.2h.65M231.0 113.7h.65M237.7 111.6h.65M239.0 110.4h.65M234.7 95.0h.65M239.9 107.4h.65M252.1 85.6h.65M232.5 110.2h.65M223.5 99.9h.65M252.3 113.1h.65M226.7 113.2h.65M244.3 108.0h.65M237.5 103.7h.65M226.8 97.6h.65M240.5 102.9h.65M250.0 99.1h.65M213.8 99.1h.65M236.6 104.8h.65M234.8 95.2h.65M247.0 96.4h.65M240.3 99.5h.65M224.1 113.1h.65M212.9 95.0h.65M238.0 98.9h.65M240.7 101.0h.65M230.4 119.1h.65M232.4 100.5h.65M225.1 95.8h.65M239.8 106.3h.65M234.3 96.2h.65M240.2 88.2h.65M231.4 99.8h.65M227.1 103.1h.65M228.7 95.4h.65M249.7 107.8h.65M244.6 102.3h.65M242.6 108.1h.65M244.7 120.8h.65M232.5 104.0h.65M234.0 73.8h.65M222.5 102.1h.65M239.8 97.3h.65M244.1 112.2h.65M230.9 113.3h.65M249.3 105.7h.65M226.1 113.7h.65M233.1 99.0h.65M235.5 97.7h.65M243.6 108.2h.65M244.9 106.6h.65M227.7 100.7h.65M241.9 98.7h.65M259.3 100.1h.65M229.5 111.2h.65M240.9 101.8h.65M232.5 105.4h.65M241.6 108.1h.65M231.9 105.5h.65M241.7 108.1h.65M208.3 94.9h.65M227.9 100.2h.65M236.0 109.4h.65M239.8 101.0h.65M234.7 116.1h.65M229.3 104.4h.65M247.8 104.8h.65M217.1 105.0h.65M231.2 101.1h.65M243.4 105.8h.65M232.3 109.1h.65M238.2 102.8h.65M237.1 104.0h.65M231.6 98.3h.65M234.7 94.4h.65M223.8 112.4h.65M232.5 101.8h.65M233.4 102.2h.65M234.7 102.5h.65M227.7 109.5h.65M228.6 110.3h.65M218.2 93.5h.65M242.9 100.8h.65M228.8 105.0h.65M225.6 102.6h.65M215.7 98.4h.65M229.0 106.3h.65M241.9 95.2h.65M248.2 97.3h.65M217.0 83.0h.65M247.6 101.3h.65M229.0 96.0h.65M225.2 112.8h.65M233.8 116.3h.65M232.8 83.2h.65M241.7 99.1h.65M232.5 114.5h.65M232.3 111.3h.65M234.5 96.0h.65M238.8 97.2h.65M244.9 109.7h.65M235.0 106.9h.65M239.3 99.8h.65M242.1 100.2h.65M239.7 94.4h.65M235.4 105.3h.65M227.8 98.7h.65M230.0 107.8h.65M228.4 105.5h.65M247.5 104.9h.65M220.8 103.0h.65M243.4 99.8h.65M244.0 107.0h.65M238.1 100.0h.65M230.2 100.0h.65M235.1 106.3h.65M238.2 99.7h.65M235.1 105.2h.65M220.8 95.9h.65M227.8 100.5h.65M232.3 100.0h.65M227.2 107.5h.65M237.0 89.0h.65M234.7 93.1h.65M249.1 98.5h.65M231.3 102.8h.65M232.9 101.7h.65M247.8 103.9h.65M241.7 111.2h.65M226.4 115.6h.65M240.5 109.8h.65M227.3 108.7h.65M238.2 97.8h.65M254.1 106.7h.65M232.6 103.7h.65M242.4 111.2h.65M239.6 111.9h.65M247.2 92.3h.65M230.5 94.6h.65M235.5 113.7h.65M240.2 93.8h.65M232.2 110.4h.65M230.2 101.4h.65M237.3 87.6h.65M241.3 104.9h.65M239.5 94.3h.65M228.1 97.4h.65M236.8 102.7h.65M235.8 116.5h.65M245.8 96.4h.65M229.1 115.9h.65M232.0 113.2h.65M248.3 97.8h.65M232.4 102.8h.65M227.3 94.3h.65M231.3 109.0h.65M230.9 100.5h.65M230.7 91.2h.65M247.3 83.4h.65M229.1 106.6h.65M222.8 107.0h.65M245.3 95.3h.65M236.4 93.3h.65M239.0 102.9h.65M236.5 113.1h.65M238.7 112.9h.65M240.1 92.6h.65M236.9 106.1h.65M222.4 112.8h.65M235.2 105.1h.65M227.0 102.7h.65M237.2 99.5h.65M235.3 85.2h.65M246.2 93.2h.65M216.1 94.5h.65M227.6 106.5h.65M226.9 104.4h.65M226.5 119.8h.65M239.3 117.8h.65M226.0 107.5h.65M226.5 106.8h.65M240.4 89.4h.65M225.0 92.8h.65M221.9 96.3h.65M226.5 90.6h.65M235.5 106.5h.65M223.5 97.7h.65M234.7 100.3h.65M228.7 108.6h.65M241.8 107.5h.65M232.8 118.0h.65M249.4 98.9h.65M233.6 111.6h.65M227.8 105.3h.65M235.0 96.5h.65M232.6 89.5h.65M230.0 86.1h.65M254.0 114.1h.65M245.0 104.5h.65M243.1 112.2h.65M243.2 109.4h.65M226.8 105.5h.65M230.0 92.6h.65M224.9 105.5h.65M243.5 91.1h.65M249.4 113.8h.65M231.3 98.3h.65M233.9 109.9h.65M231.3 93.2h.65M237.4 85.5h.65M235.7 111.3h.65M237.1 108.3h.65M238.7 107.8h.65M235.7 95.4h.65M232.6 101.4h.65M245.2 115.0h.65M238.1 96.0h.65M228.3 100.5h.65M246.3 104.7h.65M234.0 95.9h.65M242.0 104.3h.65M234.1 102.8h.65M248.8 100.7h.65M248.9 111.9h.65M234.9 109.1h.65M233.4 95.4h.65M232.2 94.7h.65M238.8 102.1h.65M239.3 108.6h.65M208.0 104.5h.65M219.2 103.3h.65M227.0 102.8h.65M246.1 88.3h.65M236.1 101.4h.65M218.4 107.2h.65M234.8 97.9h.65M228.4 127.7h.65M231.2 87.6h.65M226.6 99.1h.65M231.2 101.4h.65M225.6 106.3h.65M230.4 91.1h.65M227.6 98.9h.65M241.7 105.9h.65M231.6 102.2h.65M236.3 118.3h.65M229.3 105.7h.65M240.7 94.4h.65M236.1 103.3h.65M230.5 106.5h.65M243.2 111.0h.65M232.9 103.5h.65M254.5 93.2h.65M236.4 109.1h.65M235.8 107.2h.65M236.0 108.0h.65M245.4 100.2h.65M236.2 101.6h.65M231.1 101.8h.65M224.9 108.0h.65M249.0 115.6h.65M245.3 94.3h.65M247.4 96.3h.65M234.0 116.8h.65M225.4 108.7h.65M236.9 100.8h.65M227.1 105.4h.65M230.6 110.4h.65M244.9 91.0h.65M230.2 99.4h.65M224.5 93.1h.65M235.3 100.3h.65M220.5 97.7h.65M238.9 92.4h.65M226.6 114.7h.65M245.7 89.0h.65M223.0 105.0h.65M224.4 100.0h.65M230.7 106.5h.65M213.0 84.4h.65M224.1 110.1h.65M233.2 88.3h.65M238.7 107.7h.65M232.4 99.4h.65M238.2 111.7h.65M235.8 106.3h.65M234.1 98.9h.65M226.7 104.1h.65M231.9 100.1h.65M242.4 105.9h.65M241.9 89.4h.65M239.2 97.3h.65M227.6 95.2h.65M244.8 108.6h.65M228.4 92.9h.65M234.6 98.3h.65M248.6 90.3h.65M218.9 100.0h.65M234.6 103.1h.65M240.9 118.6h.65M231.6 97.6h.65M219.5 103.9h.65M241.8 99.9h.65M244.5 102.2h.65M247.4 104.7h.65M225.5 96.9h.65M221.5 88.1h.65M236.8 109.0h.65M251.1 101.6h.65M232.5 93.1h.65M242.9 105.1h.65M229.4 107.5h.65M239.3 87.0h.65M240.8 103.1h.65M231.2 98.7h.65M249.4 114.3h.65M250.0 92.8h.65M228.9 109.2h.65M224.2 96.2h.65M219.2 116.8h.65M243.5 105.7h.65M236.4 98.7h.65M231.1 106.9h.65M228.4 111.8h.65M230.3 95.0h.65M245.5 100.8h.65M239.2 98.7h.65M215.4 106.4h.65M223.1 110.7h.65M221.3 87.1h.65M237.1 105.4h.65M235.4 92.3h.65M242.1 90.3h.65M230.6 95.7h.65M231.3 108.8h.65M229.1 106.5h.65M240.4 88.3h.65M224.6 98.9h.65M229.5 104.5h.65M218.1 107.8h.65M240.8 100.7h.65M222.7 102.0h.65M229.9 106.5h.65M233.8 107.8h.65M230.8 113.5h.65M214.9 93.9h.65M238.7 89.9h.65M240.8 92.3h.65M235.3 94.7h.65M230.7 103.4h.65M233.6 98.9h.65M252.8 102.1h.65M226.3 109.4h.65M241.5 111.8h.65M249.7 94.5h.65M243.5 111.1h.65M234.5 104.0h.65M209.0 97.4h.65M249.7 87.7h.65M229.9 104.3h.65M239.4 115.1h.65M219.5 102.3h.65M241.8 91.5h.65M234.2 117.1h.65M245.7 106.3h.65M212.3 101.0h.65M237.8 99.5h.65M233.9 126.7h.65M232.7 94.2h.65M236.6 99.5h.65M231.9 101.3h.65M241.1 103.9h.65M224.3 100.9h.65M238.5 98.3h.65M244.3 108.2h.65M226.1 104.6h.65M251.4 114.5h.65M234.0 109.2h.65M228.8 90.4h.65M239.2 104.0h.65M238.9 101.8h.65M237.3 97.9h.65M238.5 108.7h.65M234.0 108.5h.65M219.4 95.7h.65M246.8 116.1h.65M236.6 101.2h.65M223.7 104.9h.65M241.1 90.1h.65M239.3 105.9h.65M238.2 93.0h.65M239.1 90.0h.65M247.2 103.1h.65M224.6 112.8h.65M244.3 96.8h.65M253.2 94.0h.65M237.2 111.5h.65M215.2 110.0h.65M233.9 101.9h.65M225.3 104.7h.65M225.1 94.3h.65M230.7 92.2h.65M247.9 91.4h.65M228.1 99.5h.65M234.5 108.3h.65M241.5 99.6h.65M231.2 102.3h.65M241.5 107.6h.65M230.1 85.5h.65M252.7 109.6h.65M236.7 104.7h.65M230.1 94.0h.65M231.7 100.2h.65M229.2 90.3h.65M231.8 106.6h.65M230.3 102.2h.65M216.9 100.3h.65M233.5 92.2h.65M219.8 105.3h.65M227.6 105.9h.65M230.9 107.0h.65M231.6 89.9h.65M233.8 99.4h.65M240.1 98.4h.65M231.2 108.9h.65M244.4 108.1h.65M243.3 105.6h.65M241.0 109.0h.65M237.9 102.5h.65M235.7 121.2h.65M234.6 100.1h.65M231.4 101.7h.65M236.6 93.0h.65M217.7 104.4h.65M220.8 104.1h.65M235.7 111.2h.65M248.7 104.9h.65M229.8 92.6h.65M227.8 102.3h.65M216.9 102.6h.65M234.4 107.2h.65M231.7 102.8h.65M228.2 98.3h.65M219.4 103.0h.65M247.7 103.3h.65M237.6 94.1h.65M246.7 95.9h.65M241.3 102.9h.65M226.3 110.2h.65M234.6 103.4h.65M238.3 101.8h.65M231.3 105.7h.65M231.1 102.5h.65M228.8 90.1h.65M228.8 98.0h.65M234.6 111.5h.65M220.1 103.0h.65M215.7 93.6h.65M230.2 84.0h.65M218.7 103.2h.65M235.2 101.1h.65M227.7 119.2h.65M233.1 95.1h.65M248.8 106.9h.65M231.3 111.5h.65M235.8 107.1h.65M236.5 93.8h.65M242.8 103.3h.65M225.9 95.9h.65M242.6 99.0h.65M234.9 107.2h.65M235.6 89.8h.65M239.9 109.5h.65M241.9 114.9h.65M237.6 108.2h.65M248.0 99.7h.65M249.3 115.9h.65M241.2 116.7h.65M241.7 95.0h.65M244.2 104.6h.65M238.0 103.2h.65M246.1 106.4h.65M228.6 105.9h.65M240.7 96.2h.65M230.8 98.9h.65M229.3 104.8h.65M243.2 117.1h.65M244.7 110.2h.65M244.2 112.7h.65M231.3 107.5h.65M237.2 101.0h.65M230.6 98.0h.65M232.2 92.1h.65M238.9 101.8h.65M235.4 104.7h.65M240.7 97.3h.65M233.6 89.1h.65M215.6 86.5h.65M247.6 87.4h.65M238.5 113.8h.65M230.6 115.0h.65M250.2 109.6h.65M254.7 107.0h.65M228.3 106.2h.65M230.8 91.6h.65M223.7 120.5h.65M229.9 101.9h.65M228.9 103.2h.65M232.5 98.8h.65M224.3 90.8h.65M228.3 104.4h.65M252.3 110.5h.65M250.1 106.0h.65M233.9 91.5h.65M234.7 85.0h.65M232.1 115.2h.65M237.4 111.2h.65M231.4 91.1h.65M230.6 99.0h.65M244.9 118.0h.65M228.4 99.3h.65M233.5 99.4h.65M224.1 102.9h.65M237.8 105.3h.65M224.5 101.3h.65M219.9 109.5h.65M226.1 100.0h.65M230.9 97.6h.65M225.7 88.1h.65M249.5 104.3h.65M237.0 119.0h.65M233.9 106.7h.65M234.9 111.7h.65M239.0 104.8h.65M232.6 104.5h.65M244.7 85.6h.65M233.7 98.9h.65M232.2 86.4h.65M241.0 95.5h.65M232.8 98.2h.65M220.6 98.7h.65M219.1 94.7h.65M232.1 102.2h.65M235.2 101.2h.65M253.0 105.7h.65M224.4 97.4h.65M229.2 100.8h.65M229.7 95.4h.65M248.8 102.6h.65M231.9 100.2h.65M232.9 113.4h.65M238.9 111.3h.65M208.3 104.9h.65M243.8 118.1h.65M235.0 88.5h.65M239.8 97.5h.65M219.6 97.3h.65M243.8 111.9h.65M240.9 93.9h.65M256.2 92.9h.65M234.1 90.7h.65M246.0 105.9h.65M242.4 103.0h.65M234.2 103.7h.65M218.8 110.3h.65M242.6 99.2h.65M234.7 104.7h.65M248.2 105.8h.65M235.2 98.3h.65M222.1 97.6h.65M235.5 100.3h.65M235.5 108.3h.65M238.6 104.6h.65M240.5 103.8h.65M234.6 106.1h.65M220.2 112.4h.65M223.9 109.1h.65M235.0 111.2h.65M235.2 94.8h.65M244.0 103.9h.65M235.9 103.0h.65M243.4 108.9h.65M236.9 90.0h.65M231.5 103.3h.65M250.2 105.5h.65M234.2 112.0h.65M234.0 102.2h.65M236.3 90.4h.65M243.1 105.8h.65M232.6 93.3h.65M236.8 113.6h.65M229.5 93.9h.65M238.5 89.7h.65M216.1 98.9h.65M229.1 100.2h.65M230.3 105.1h.65M233.1 97.7h.65M231.1 107.5h.65M243.1 109.7h.65M240.9 76.1h.65M226.5 99.9h.65M236.7 89.5h.65M247.1 104.9h.65M229.7 103.8h.65M232.1 96.4h.65M239.3 98.8h.65M223.0 97.4h.65M234.0 93.8h.65M245.7 93.8h.65M250.0 109.6h.65M227.0 103.5h.65M245.1 101.0h.65M224.9 103.4h.65M252.0 90.6h.65M239.8 102.6h.65M234.1 99.4h.65M232.3 110.8h.65M240.1 94.6h.65M248.3 92.2h.65M240.7 104.0h.65M245.3 105.4h.65M244.1 102.4h.65M243.4 105.3h.65M253.4 97.0h.65M245.3 106.3h.65M236.6 98.0h.65M238.9 90.8h.65M223.5 108.3h.65M221.9 114.1h.65M232.8 104.6h.65M235.8 106.0h.65M232.8 99.7h.65M234.1 111.0h.65M244.8 112.8h.65M238.2 101.0h.65M220.9 107.7h.65M242.3 99.4h.65M242.0 112.9h.65M236.0 111.1h.65M237.8 88.7h.65M231.1 99.3h.65M239.7 95.7h.65M231.4 94.9h.65M234.8 103.2h.65M243.4 109.0h.65M236.6 104.5h.65M236.1 103.5h.65M248.3 82.7h.65M233.7 105.1h.65M244.8 93.9h.65M238.1 109.5h.65M231.4 87.3h.65M232.1 93.0h.65M240.7 95.8h.65M250.3 103.7h.65M228.3 98.6h.65M225.9 105.7h.65M247.8 100.9h.65M243.0 95.1h.65M237.8 121.0h.65M223.2 112.5h.65M245.1 87.6h.65M223.0 94.8h.65M243.4 99.2h.65M233.7 108.3h.65M236.2 104.4h.65M232.4 111.6h.65M228.5 116.0h.65M232.3 96.2h.65M240.6 106.2h.65M218.3 104.4h.65M223.7 96.0h.65M241.8 95.7h.65M238.2 99.6h.65M251.6 101.8h.65M225.1 93.7h.65M227.4 103.6h.65M235.1 110.3h.65M236.5 103.6h.65M237.8 101.5h.65M237.6 108.8h.65M241.7 98.2h.65M220.0 96.1h.65M237.5 82.6h.65M231.0 106.1h.65M230.2 93.6h.65M249.9 113.6h.65M232.8 113.1h.65M246.1 93.4h.65M257.8 95.0h.65M232.8 93.7h.65M235.7 91.9h.65M234.9 111.1h.65M236.8 100.3h.65M248.1 95.3h.65M243.2 100.0h.65M236.8 102.7h.65M236.0 102.0h.65M228.3 97.9h.65M238.7 101.5h.65M225.0 96.7h.65M229.0 101.9h.65M236.4 103.1h.65M229.3 102.5h.65M223.2 79.3h.65M234.4 89.1h.65M226.8 92.7h.65M240.2 92.6h.65M237.1 98.4h.65M224.3 89.7h.65M238.7 105.3h.65M241.3 116.9h.65M237.0 104.4h.65M233.7 103.0h.65M231.7 95.0h.65M251.6 87.3h.65M236.8 105.7h.65M235.9 94.4h.65M233.0 98.4h.65M225.5 101.7h.65M231.1 97.7h.65M240.4 93.6h.65M238.3 97.2h.65M238.2 102.6h.65M236.6 94.2h.65M227.9 95.1h.65M236.0 108.0h.65M243.6 98.0h.65M235.2 89.0h.65M215.6 95.0h.65M228.8 89.5h.65M219.3 106.2h.65M227.6 88.5h.65M254.1 103.3h.65M231.7 107.3h.65M227.9 114.5h.65M221.3 91.4h.65M233.2 95.7h.65M246.3 89.0h.65M228.1 103.7h.65M239.1 109.8h.65M237.2 119.4h.65M230.2 103.2h.65M241.5 99.2h.65M231.7 98.0h.65M228.8 92.7h.65M229.5 89.4h.65M237.4 89.0h.65M251.7 115.2h.65M243.5 100.0h.65M229.2 111.4h.65M235.7 106.1h.65M228.0 110.1h.65M227.3 102.5h.65M219.5 96.4h.65M238.3 98.0h.65M230.3 107.9h.65M233.5 111.5h.65M213.6 106.1h.65M238.4 89.3h.65M223.1 108.6h.65M225.0 96.5h.65M239.1 98.9h.65M238.1 94.7h.65M236.6 110.2h.65M236.8 84.1h.65M239.6 102.0h.65M226.4 112.7h.65M219.3 116.5h.65M228.7 114.1h.65M233.7 91.0h.65M234.8 104.2h.65M238.6 110.0h.65M226.4 105.5h.65M240.3 99.4h.65M226.1 93.9h.65M240.4 107.9h.65M227.0 90.9h.65M244.5 89.2h.65M235.4 95.1h.65M219.2 102.5h.65M232.4 113.0h.65M253.3 100.1h.65M242.7 109.9h.65M229.6 94.7h.65M247.7 98.6h.65M233.8 99.2h.65M232.9 96.7h.65M240.4 111.6h.65M230.9 90.6h.65M234.5 89.7h.65M228.6 111.3h.65M253.7 104.5h.65M225.0 107.8h.65M215.0 96.0h.65M246.9 107.5h.65M222.3 88.3h.65M241.3 101.2h.65M229.0 104.8h.65M229.2 86.3h.65M240.9 96.4h.65M225.5 90.9h.65M236.1 95.1h.65M239.3 99.4h.65M243.2 98.5h.65M228.5 85.9h.65M224.7 107.3h.65M259.9 91.6h.65M225.3 104.2h.65M238.1 96.2h.65M234.7 88.8h.65M231.5 108.7h.65M247.9 100.2h.65M231.8 105.2h.65M243.4 105.4h.65M227.7 104.4h.65M242.2 95.9h.65M222.7 105.6h.65M237.1 109.3h.65M234.8 96.4h.65M230.3 93.4h.65M226.0 97.1h.65M230.0 110.4h.65M223.7 101.2h.65M229.1 113.4h.65M236.3 98.6h.65M241.0 102.1h.65M230.1 113.8h.65M240.1 115.4h.65M243.9 107.8h.65M235.2 93.0h.65M240.1 102.2h.65M239.8 101.6h.65M228.3 93.6h.65M240.0 111.9h.65M231.7 105.3h.65M245.8 95.0h.65M231.3 92.8h.65M244.1 103.7h.65M230.2 88.5h.65M232.6 109.6h.65M231.6 98.3h.65M239.6 91.9h.65M234.6 106.4h.65M227.6 95.1h.65M236.3 100.9h.65M232.2 103.3h.65M236.0 94.3h.65M228.5 105.3h.65M243.6 112.5h.65M227.0 110.4h.65M240.6 101.5h.65M238.3 108.3h.65M249.3 93.3h.65M239.3 100.6h.65M232.5 110.8h.65M241.1 93.7h.65M231.8 103.5h.65M222.3 108.6h.65M233.6 103.0h.65M237.1 116.1h.65M234.5 98.9h.65M248.9 97.8h.65M229.8 90.8h.65M243.3 103.9h.65M238.2 103.1h.65M233.1 95.5h.65M227.7 105.2h.65M235.3 114.7h.65M227.9 97.9h.65M225.7 112.7h.65M223.9 107.9h.65M246.4 100.7h.65M240.4 84.9h.65M231.0 88.7h.65M235.7 101.9h.65M227.8 109.3h.65M237.3 97.6h.65M230.0 90.2h.65M232.7 118.6h.65M228.3 105.1h.65M229.7 108.1h.65M238.0 100.0h.65M219.3 97.7h.65M244.4 99.9h.65M239.6 98.0h.65M218.6 105.2h.65M237.0 97.2h.65M231.2 104.1h.65M229.3 104.5h.65M232.6 83.2h.65M233.1 97.1h.65M227.3 105.0h.65M230.2 106.1h.65M243.5 102.9h.65M221.3 96.0h.65M242.0 99.8h.65M227.5 101.1h.65M238.5 103.9h.65M239.7 95.3h.65M232.0 99.8h.65M234.1 85.3h.65M232.3 91.2h.65M246.0 114.1h.65M248.5 108.2h.65M230.3 109.4h.65M232.6 106.7h.65M226.8 97.2h.65M238.2 115.9h.65M234.1 119.7h.65M257.5 91.7h.65M234.1 94.3h.65M233.2 97.6h.65M233.8 109.5h.65M242.2 103.9h.65M234.4 102.8h.65M235.4 106.4h.65M234.4 105.9h.65M223.4 108.1h.65M249.1 103.3h.65M222.5 112.6h.65M231.6 78.2h.65M232.5 106.7h.65M237.6 111.7h.65M239.6 102.9h.65M217.8 93.1h.65M235.9 107.3h.65M225.8 97.1h.65M238.3 86.8h.65M218.0 100.1h.65M236.5 98.1h.65M215.1 102.1h.65M223.2 107.1h.65M233.5 104.0h.65M239.8 97.7h.65M241.4 111.7h.65M237.7 112.4h.65M229.1 109.2h.65M236.7 94.1h.65M233.7 97.7h.65M229.8 102.6h.65M243.3 99.4h.65M235.5 90.3h.65M235.3 111.0h.65M241.2 105.7h.65M230.0 94.2h.65M233.6 91.3h.65M224.0 109.4h.65M226.7 116.1h.65M222.4 105.3h.65M224.5 103.3h.65M225.6 102.2h.65M233.1 98.3h.65M238.7 113.9h.65M229.4 108.9h.65M235.1 101.7h.65M252.9 84.7h.65M228.7 87.6h.65M231.8 100.1h.65M249.5 112.2h.65M230.7 105.7h.65M248.5 103.3h.65M236.2 105.9h.65M221.7 95.5h.65M237.2 106.2h.65M226.7 99.3h.65M233.4 100.7h.65M240.2 102.7h.65M235.8 90.7h.65M225.5 104.4h.65M221.0 104.0h.65M228.8 95.4h.65M239.8 96.5h.65M227.1 96.5h.65M234.9 123.7h.65M216.5 101.7h.65M232.3 109.4h.65M231.2 82.2h.65M245.5 93.2h.65M233.8 91.0h.65M225.1 97.9h.65M241.6 108.5h.65M229.3 105.8h.65M231.2 102.7h.65M235.6 106.7h.65M229.1 100.8h.65M236.1 102.5h.65M227.5 115.5h.65M230.4 107.8h.65M236.0 111.5h.65M215.8 118.1h.65M232.5 92.0h.65M235.4 119.7h.65M238.5 92.0h.65M230.3 112.4h.65M222.4 100.3h.65M231.8 119.0h.65M231.8 112.2h.65M228.5 95.4h.65M242.7 106.7h.65M219.6 106.8h.65M239.7 96.9h.65M236.1 103.9h.65M230.1 97.1h.65M228.6 99.6h.65M223.0 101.4h.65M221.6 102.3h.65M233.5 93.5h.65M241.4 117.1h.65M245.4 90.9h.65M245.0 103.5h.65M233.8 97.0h.65M234.2 112.8h.65M238.8 98.4h.65M228.6 98.4h.65M239.2 116.5h.65M225.3 101.7h.65M231.0 95.8h.65M237.6 106.1h.65M222.3 93.5h.65M244.3 104.2h.65M238.6 97.7h.65M231.0 105.4h.65M230.0 92.9h.65M234.2 108.9h.65M225.5 110.1h.65M240.1 94.9h.65M234.3 101.4h.65M239.5 107.0h.65M223.2 91.0h.65M242.9 102.6h.65M237.7 104.4h.65M247.1 92.2h.65M243.4 95.2h.65M240.3 112.3h.65M222.6 104.9h.65M231.9 99.4h.65M234.6 93.4h.65M226.1 106.9h.65M241.3 97.2h.65M222.0 120.1h.65M243.5 104.6h.65M225.6 97.1h.65M236.2 94.1h.65M247.7 102.8h.65M237.5 93.6h.65M226.6 95.5h.65M236.5 99.6h.65M231.8 104.2h.65M236.1 113.4h.65M232.6 93.7h.65M234.1 113.3h.65M229.6 102.1h.65M231.2 104.9h.65M236.4 95.3h.65M232.3 109.1h.65M243.4 109.0h.65M241.4 99.1h.65M231.2 109.0h.65M224.4 101.3h.65M218.7 98.7h.65M228.3 92.3h.65M239.1 96.0h.65M231.1 99.7h.65M228.1 112.9h.65M230.1 103.3h.65M223.3 98.0h.65M231.5 99.3h.65M229.3 102.9h.65M247.2 100.7h.65M233.1 98.7h.65M255.4 114.4h.65M238.9 107.3h.65M228.3 100.5h.65M236.0 102.7h.65M227.1 95.6h.65M238.5 104.2h.65M216.7 102.5h.65M244.8 96.7h.65M236.2 90.3h.65M241.2 93.0h.65M223.8 99.3h.65M254.0 97.0h.65M223.7 105.4h.65M236.1 114.8h.65M223.7 89.2h.65M231.6 104.7h.65M237.2 110.3h.65M221.8 95.3h.65M233.1 108.3h.65M238.2 98.5h.65M225.7 108.7h.65M242.2 123.0h.65M232.8 114.5h.65M224.2 97.5h.65M228.6 98.1h.65M226.9 97.5h.65M233.8 98.2h.65M239.7 101.1h.65M234.2 113.3h.65M236.9 103.0h.65M234.1 102.3h.65M239.0 95.5h.65M243.8 114.1h.65M243.9 97.9h.65M221.0 98.3h.65M235.5 108.3h.65M232.7 99.4h.65M246.9 96.5h.65M243.1 108.9h.65M223.2 103.9h.65M229.6 94.3h.65M218.8 89.5h.65M237.7 98.7h.65M236.5 93.4h.65M231.6 99.6h.65M221.4 88.7h.65M237.9 102.9h.65M226.5 101.0h.65M239.8 116.1h.65M226.9 106.6h.65M251.9 102.3h.65M246.5 81.5h.65M246.3 101.7h.65M218.6 107.9h.65M243.0 111.2h.65M244.2 101.5h.65M228.0 98.2h.65M234.0 104.9h.65M230.2 102.1h.65M241.6 104.3h.65M253.4 118.7h.65M224.7 97.3h.65M223.3 92.6h.65M238.8 94.0h.65M225.5 99.6h.65M240.9 99.0h.65M231.3 109.0h.65M238.2 105.3h.65M242.2 93.8h.65M236.0 96.8h.65M242.8 108.2h.65M225.5 112.3h.65M224.5 111.0h.65M236.0 94.9h.65M224.9 99.4h.65M234.0 96.2h.65M239.0 90.7h.65M234.2 101.8h.65M218.6 104.2h.65M223.7 82.1h.65M229.1 100.0h.65M241.8 97.9h.65M246.6 113.1h.65M243.4 112.2h.65M237.2 97.4h.65M239.7 109.4h.65M236.2 99.8h.65M221.1 107.1h.65M237.2 91.5h.65M235.1 107.5h.65M233.3 107.9h.65M240.6 90.1h.65M231.7 105.6h.65M241.9 112.9h.65M218.2 101.2h.65M240.2 111.4h.65M248.4 94.4h.65M231.1 93.4h.65M241.1 91.3h.65M244.2 109.2h.65M238.3 84.6h.65M228.6 107.7h.65M222.3 99.9h.65M233.4 108.8h.65M236.6 103.9h.65M230.5 101.8h.65M233.1 107.5h.65M232.7 109.9h.65M220.0 111.2h.65M232.8 110.7h.65M234.9 108.5h.65M246.8 97.4h.65M234.9 100.4h.65M236.0 88.9h.65M232.8 99.8h.65M227.6 100.2h.65M221.3 112.8h.65M238.0 116.6h.65M226.9 92.5h.65M236.6 88.6h.65M236.1 96.2h.65M231.4 103.7h.65M234.6 116.4h.65M239.5 91.5h.65M242.4 91.1h.65M234.9 91.9h.65M227.3 112.1h.65M229.5 96.6h.65M229.5 99.2h.65M246.3 92.4h.65M223.8 106.3h.65M220.8 98.8h.65M243.7 101.7h.65M230.1 96.1h.65M226.5 97.0h.65M235.3 111.5h.65M242.3 97.2h.65M228.0 107.2h.65M218.9 98.2h.65M231.4 92.9h.65M225.7 104.4h.65M220.2 94.4h.65M228.6 102.2h.65M222.5 110.2h.65M231.5 99.5h.65M231.0 96.2h.65M225.8 110.6h.65M235.7 100.7h.65M242.3 95.9h.65M239.3 101.7h.65M226.5 107.5h.65M221.4 106.6h.65M226.5 104.7h.65M245.5 105.9h.65M228.9 101.2h.65M230.8 92.2h.65M224.6 101.8h.65M238.4 87.5h.65M233.3 105.4h.65M234.8 93.5h.65M242.5 91.8h.65M239.2 113.9h.65M216.7 103.4h.65M236.4 103.1h.65M227.4 98.9h.65M222.1 102.3h.65M238.2 96.1h.65M226.0 97.6h.65M233.7 101.8h.65M232.9 101.8h.65M222.8 79.8h.65M238.9 112.4h.65M221.9 96.0h.65M236.2 108.7h.65M239.1 111.3h.65M233.2 104.5h.65M237.1 97.8h.65M243.7 106.1h.65M241.8 98.2h.65M242.3 93.0h.65M237.0 80.7h.65M225.3 107.0h.65M229.9 102.6h.65M220.2 113.3h.65M238.6 101.0h.65M237.1 103.8h.65M245.4 102.9h.65M221.4 99.2h.65M244.3 105.7h.65M230.2 106.0h.65M234.6 106.0h.65M220.5 94.2h.65M239.2 99.5h.65M236.6 116.5h.65M231.1 103.1h.65M229.0 96.3h.65M233.0 89.8h.65M216.2 111.9h.65M232.8 110.0h.65M234.7 102.4h.65M239.2 106.8h.65M223.7 110.6h.65M225.6 102.8h.65M254.9 101.8h.65M247.5 98.5h.65M238.8 101.6h.65M237.1 94.5h.65M226.0 103.8h.65M220.7 94.6h.65M239.0 96.4h.65M226.3 92.6h.65M234.9 98.4h.65M234.9 99.7h.65M249.0 97.8h.65M217.4 102.1h.65M233.7 102.4h.65M220.3 110.1h.65M233.4 100.9h.65M220.5 104.9h.65M233.1 111.8h.65M230.2 91.6h.65M234.7 94.1h.65M237.1 92.8h.65M232.6 99.5h.65M233.4 97.2h.65M227.0 100.8h.65M228.9 102.4h.65M231.4 83.7h.65M233.2 112.0h.65M236.2 105.9h.65M237.4 97.6h.65M222.7 107.5h.65M242.4 105.6h.65M237.2 104.3h.65M233.4 103.3h.65M233.8 103.7h.65M225.9 96.3h.65M238.3 98.6h.65M213.8 102.2h.65M214.9 116.0h.65M236.7 90.4h.65M227.3 76.5h.65M230.4 85.4h.65M226.6 86.5h.65M236.5 89.9h.65M224.8 68.6h.65M231.9 80.2h.65M234.9 97.9h.65M242.9 87.5h.65M239.3 97.9h.65M232.2 87.4h.65M237.6 85.0h.65M228.5 79.5h.65M231.9 80.5h.65M237.2 82.8h.65M241.7 94.6h.65M223.6 93.6h.65M229.2 95.8h.65M235.4 85.0h.65M236.4 81.1h.65M234.2 88.3h.65M231.0 88.3h.65M225.3 89.7h.65M223.9 90.2h.65M235.1 90.8h.65M228.3 108.6h.65M230.5 86.6h.65M227.0 96.4h.65M228.9 93.0h.65M225.8 87.9h.65M229.6 92.6h.65M230.1 79.0h.65M235.1 76.5h.65M225.7 91.4h.65M219.7 91.3h.65M229.5 78.6h.65M233.8 90.4h.65M228.3 84.3h.65M237.5 91.3h.65M231.8 79.8h.65M225.9 81.1h.65M236.7 90.0h.65M234.2 96.2h.65M230.2 82.8h.65M229.7 100.1h.65M218.6 87.9h.65M235.2 86.2h.65M247.7 94.6h.65M237.4 79.0h.65M235.6 83.0h.65M232.6 87.3h.65M229.1 90.6h.65M243.1 93.6h.65M233.8 71.2h.65M239.5 93.9h.65M231.1 82.2h.65M236.7 79.8h.65M237.6 77.7h.65M226.3 86.0h.65M222.8 85.9h.65M235.9 76.0h.65M238.5 81.7h.65M236.0 87.5h.65M229.4 82.0h.65M221.2 80.7h.65M227.4 98.3h.65M239.1 75.6h.65M237.7 87.6h.65M229.9 89.4h.65M237.6 81.7h.65M230.6 87.2h.65M226.0 87.3h.65M231.9 80.9h.65M226.9 88.2h.65M238.2 88.4h.65M226.9 91.6h.65M233.6 90.4h.65M240.1 79.2h.65M231.6 81.5h.65M226.7 101.0h.65M238.6 72.8h.65M235.3 81.8h.65M240.0 86.6h.65M231.3 87.0h.65M235.0 86.2h.65M231.0 85.0h.65M235.8 77.5h.65M232.5 85.1h.65M229.3 91.5h.65M224.1 83.3h.65M226.9 90.1h.65M229.4 86.4h.65M235.0 74.1h.65M235.5 80.4h.65M230.8 85.2h.65M237.8 91.5h.65M244.0 87.3h.65M229.4 82.2h.65M236.8 98.0h.65M234.7 81.7h.65M234.3 87.9h.65M232.7 80.4h.65M215.9 82.0h.65M239.4 87.6h.65M218.1 86.0h.65M220.4 100.9h.65M233.7 77.0h.65M237.7 80.2h.65M236.2 86.2h.65M224.8 91.0h.65M223.7 96.0h.65M232.9 78.3h.65M220.6 98.1h.65M242.0 76.6h.65M243.3 87.2h.65M231.1 85.4h.65M230.7 96.7h.65M233.5 72.2h.65M246.2 92.6h.65M225.4 83.3h.65M226.6 86.3h.65M235.1 87.8h.65M228.6 80.0h.65M238.0 85.2h.65M247.2 80.0h.65M237.7 86.4h.65M227.5 96.2h.65M233.3 79.3h.65M230.4 93.6h.65M224.5 96.3h.65M237.0 83.9h.65M241.4 99.1h.65M236.4 87.3h.65M244.6 97.2h.65M226.4 84.5h.65M231.1 82.9h.65M222.7 92.8h.65M233.0 86.7h.65M241.7 81.8h.65M232.1 88.1h.65M229.7 85.2h.65M237.5 85.9h.65M241.2 80.4h.65M233.8 75.3h.65M231.7 80.7h.65M241.5 91.6h.65M235.8 99.9h.65M242.0 91.4h.65M228.0 75.1h.65M232.3 83.3h.65M228.2 83.8h.65M221.6 97.2h.65M225.0 80.9h.65M236.3 73.7h.65M238.6 93.1h.65M230.4 77.9h.65M229.4 72.0h.65M241.7 86.4h.65M227.6 79.1h.65M236.3 97.4h.65M224.1 81.7h.65M220.9 91.1h.65M233.5 103.1h.65M231.7 82.7h.65M227.8 92.5h.65M221.7 91.7h.65M234.1 82.2h.65M226.5 94.0h.65M244.8 82.6h.65M236.0 99.2h.65M228.4 84.1h.65M224.4 84.9h.65M232.0 82.8h.65M227.6 74.0h.65M223.6 78.6h.65M236.8 82.1h.65M226.8 91.0h.65M236.2 80.3h.65M228.3 91.0h.65M234.9 79.6h.65M234.1 85.8h.65M239.9 79.4h.65M238.4 89.3h.65M225.8 94.0h.65M238.6 75.9h.65M245.7 77.3h.65M226.4 83.5h.65M237.6 90.4h.65M231.9 96.4h.65M235.2 96.7h.65M251.4 87.5h.65M215.3 82.5h.65M225.3 86.7h.65M233.2 76.6h.65M224.8 84.0h.65M231.2 66.0h.65M239.0 86.2h.65M232.4 88.3h.65M225.6 85.6h.65M239.5 94.3h.65M235.6 83.8h.65M226.9 96.2h.65M236.0 82.7h.65M217.8 79.3h.65M219.4 95.7h.65M233.8 80.2h.65M230.6 106.2h.65M240.8 75.5h.65M231.6 76.4h.65M220.7 87.4h.65M249.0 98.2h.65M232.8 83.1h.65M233.9 94.1h.65M222.5 71.3h.65M245.4 88.2h.65M243.5 87.9h.65M242.7 81.2h.65M235.9 98.2h.65M239.5 82.4h.65M238.7 80.8h.65M222.7 90.1h.65M242.2 92.7h.65M223.8 92.9h.65M237.2 82.4h.65M215.3 94.0h.65M238.6 89.9h.65M220.5 74.2h.65M239.5 92.4h.65M235.9 84.0h.65M235.2 81.7h.65M230.3 79.1h.65M234.3 82.7h.65M239.1 91.7h.65M226.8 100.6h.65M224.7 89.6h.65M240.0 96.2h.65M217.1 94.0h.65M241.0 97.5h.65M217.0 80.6h.65M231.8 82.4h.65M241.9 80.6h.65M241.1 90.5h.65M222.3 78.1h.65M229.2 86.8h.65M239.4 84.5h.65M238.9 73.4h.65M211.2 83.3h.65M235.7 83.1h.65M225.4 89.4h.65M246.0 85.2h.65M227.4 79.2h.65M246.3 85.7h.65M236.8 95.8h.65M240.0 78.6h.65M239.2 92.8h.65M235.9 94.1h.65M228.6 85.4h.65M228.8 92.1h.65M227.9 89.1h.65M224.8 85.0h.65M230.0 85.1h.65M233.4 84.5h.65M231.0 69.4h.65M240.2 81.0h.65M230.8 79.4h.65M239.5 78.8h.65M236.0 95.4h.65M244.0 95.5h.65M236.8 76.4h.65M241.5 95.5h.65M238.4 92.4h.65M233.1 81.9h.65M240.1 96.2h.65M225.3 93.3h.65M234.3 93.1h.65M234.5 94.9h.65M239.7 93.2h.65M223.0 92.7h.65M232.9 77.1h.65M237.5 75.2h.65M238.8 99.6h.65M229.1 93.5h.65M235.8 91.3h.65M223.2 91.0h.65M233.6 92.0h.65M232.7 94.9h.65M234.6 91.6h.65M242.2 87.6h.65M239.6 88.0h.65M236.3 82.0h.65M238.1 95.9h.65M232.1 92.5h.65M235.7 77.5h.65M235.1 96.7h.65M229.4 72.2h.65M234.1 81.2h.65M245.8 85.9h.65M232.7 81.3h.65M234.5 81.8h.65M226.5 85.8h.65M227.2 96.7h.65M224.7 85.7h.65M228.0 75.4h.65M244.2 69.8h.65M242.7 75.2h.65M233.4 104.1h.65M218.1 75.5h.65M241.8 87.6h.65M229.0 86.0h.65M226.1 87.2h.65M243.0 83.3h.65M233.7 95.7h.65M246.4 81.7h.65M234.8 81.9h.65M228.3 83.1h.65M228.4 72.7h.65M219.1 80.6h.65M233.7 95.8h.65M229.1 85.0h.65M237.3 92.1h.65M232.0 85.9h.65M245.6 83.7h.65M229.4 73.5h.65M235.7 84.2h.65M245.8 83.7h.65M238.3 93.6h.65M244.0 76.0h.65M243.5 86.4h.65M232.0 83.9h.65M230.0 83.6h.65M216.8 90.3h.65M233.2 78.8h.65M232.3 104.3h.65M235.3 83.2h.65M244.5 80.1h.65M231.7 82.0h.65M231.1 92.0h.65M236.7 80.6h.65M231.9 86.9h.65M229.9 86.0h.65M227.8 80.5h.65M233.0 78.2h.65M235.6 84.8h.65M226.4 81.5h.65M229.5 85.0h.65M233.5 84.6h.65M226.8 97.4h.65M238.9 87.1h.65M239.2 88.8h.65M231.0 86.9h.65M250.9 94.0h.65M239.8 83.2h.65M236.8 103.8h.65M235.6 94.6h.65M241.3 91.2h.65M243.4 88.0h.65M236.1 81.4h.65M250.6 88.6h.65M233.5 97.0h.65M229.4 86.2h.65M227.4 86.4h.65M230.1 90.4h.65M231.8 81.6h.65M230.7 85.3h.65M229.2 93.5h.65M237.3 87.3h.65M224.6 90.2h.65M224.0 87.7h.65M233.0 81.7h.65M227.1 80.8h.65M246.6 84.2h.65M231.3 93.6h.65M235.5 94.4h.65M224.4 77.8h.65M255.2 85.9h.65M230.7 87.5h.65M239.4 77.0h.65M234.6 86.0h.65M237.2 87.6h.65M229.1 79.5h.65M216.2 93.8h.65M222.8 83.1h.65M243.9 83.0h.65M236.8 84.6h.65M237.4 86.4h.65M229.3 96.6h.65M230.9 75.9h.65M230.5 90.4h.65M225.2 92.3h.65M237.8 102.5h.65M228.4 91.3h.65M221.4 83.0h.65M233.4 89.3h.65M232.3 85.5h.65M228.6 82.8h.65M234.7 90.5h.65M237.0 93.9h.65M240.7 72.4h.65M229.2 85.0h.65M228.4 94.2h.65M237.7 85.4h.65M233.5 95.9h.65M230.3 83.8h.65M238.8 89.8h.65M242.2 89.0h.65M237.7 82.0h.65M226.4 86.1h.65M214.9 89.3h.65M239.2 86.8h.65M231.2 94.5h.65M232.4 93.7h.65M247.4 91.8h.65M239.0 90.0h.65M234.4 88.3h.65M233.1 94.5h.65M221.9 84.2h.65M237.1 79.8h.65M232.0 80.9h.65M235.6 92.8h.65M242.4 90.1h.65M227.9 88.1h.65M236.5 97.0h.65M218.3 89.1h.65M220.5 91.7h.65M235.7 90.0h.65M238.6 89.2h.65M228.4 88.9h.65M240.7 85.3h.65M232.9 76.9h.65M240.4 82.4h.65M227.7 82.8h.65M226.9 84.3h.65M241.2 92.3h.65M242.2 97.6h.65M226.7 89.9h.65M242.7 103.8h.65M223.2 75.3h.65M235.8 83.6h.65M226.0 89.1h.65M227.4 68.9h.65M232.5 87.2h.65M236.9 93.4h.65M233.9 84.4h.65M228.2 73.6h.65M229.7 93.8h.65M237.0 101.9h.65M231.6 72.6h.65M238.2 94.1h.65M224.8 73.9h.65M233.7 91.6h.65M225.2 83.6h.65M227.5 77.1h.65M223.8 87.2h.65M230.1 81.0h.65M215.2 99.5h.65M226.3 85.1h.65M225.0 89.0h.65M222.5 86.9h.65M231.4 93.1h.65M225.3 81.2h.65M231.0 102.1h.65M222.8 88.3h.65M228.2 88.5h.65M237.0 87.2h.65M234.3 88.2h.65M228.7 84.4h.65M221.5 83.4h.65M227.4 84.1h.65M237.5 89.0h.65M235.7 94.5h.65M216.6 89.4h.65M232.4 85.3h.65M223.8 90.3h.65M240.2 93.9h.65M232.0 90.9h.65M238.7 100.0h.65M240.7 87.1h.65M233.2 87.3h.65M234.1 82.3h.65M237.7 80.8h.65M227.2 88.7h.65M228.7 84.2h.65M218.7 92.1h.65M232.5 85.1h.65M235.6 87.6h.65M227.9 101.3h.65M229.5 93.5h.65M244.7 81.3h.65M233.1 79.8h.65M239.5 83.5h.65M225.2 96.1h.65M238.7 79.2h.65M240.4 87.5h.65M250.7 99.1h.65M228.8 84.0h.65M226.7 87.0h.65M232.8 91.6h.65M233.1 74.8h.65M227.1 96.8h.65M240.2 84.8h.65M231.6 84.7h.65M232.7 73.2h.65M238.5 81.0h.65M233.5 66.7h.65M234.1 96.2h.65M217.6 97.6h.65M235.7 80.4h.65M221.9 94.9h.65M234.2 90.5h.65M230.7 79.9h.65M238.3 78.7h.65M238.5 73.2h.65M226.3 74.9h.65M241.3 72.6h.65M224.9 91.0h.65M234.0 102.8h.65M244.8 90.7h.65M237.1 72.0h.65M226.6 83.5h.65M231.3 75.5h.65M226.3 79.5h.65M239.6 89.3h.65M230.3 83.9h.65M234.4 80.7h.65M230.7 72.8h.65M237.0 93.4h.65M234.9 89.7h.65M234.9 101.6h.65M233.9 75.9h.65M225.5 91.4h.65M239.6 91.9h.65M238.1 87.4h.65M222.5 80.6h.65M220.4 83.0h.65M223.3 86.7h.65M231.3 71.0h.65M237.4 91.8h.65M223.1 87.1h.65M237.3 83.7h.65M238.2 87.4h.65M239.7 87.4h.65M231.3 89.9h.65M237.7 87.9h.65M229.4 79.9h.65M229.9 81.5h.65M233.8 87.2h.65M231.9 85.9h.65M233.6 98.0h.65M240.5 81.5h.65M235.3 83.4h.65M231.8 84.0h.65M228.2 75.4h.65M215.8 87.4h.65M240.4 78.9h.65M235.8 82.9h.65M234.3 79.6h.65M230.8 85.0h.65M216.3 87.5h.65M231.4 66.7h.65M236.8 85.6h.65M233.7 88.6h.65M229.5 77.5h.65M229.3 82.5h.65M247.4 100.1h.65M229.0 82.6h.65M234.5 90.2h.65M227.7 78.1h.65M245.4 94.0h.65M221.8 72.1h.65M226.7 87.5h.65M236.0 83.1h.65M221.4 87.5h.65M236.4 85.8h.65M228.9 90.2h.65M231.9 77.1h.65M232.9 75.7h.65M238.8 89.4h.65M225.5 87.4h.65M240.8 69.1h.65M231.3 98.6h.65M221.7 84.5h.65M222.6 85.2h.65M215.9 73.1h.65M228.6 86.8h.65M234.9 89.1h.65M240.1 91.2h.65M237.3 78.1h.65M231.2 110.6h.65M247.8 92.2h.65M237.4 93.5h.65M229.5 101.1h.65M229.7 85.1h.65M247.2 69.5h.65M234.8 72.2h.65M227.8 85.0h.65M229.9 87.1h.65M227.0 84.9h.65M224.1 82.7h.65M222.7 90.9h.65M223.4 91.2h.65M229.4 83.4h.65M240.4 86.6h.65M219.2 89.7h.65M212.3 87.9h.65M229.5 74.7h.65M232.8 83.3h.65M246.2 82.3h.65M245.7 96.7h.65M228.1 79.3h.65M241.4 84.7h.65M233.4 83.7h.65M223.9 82.8h.65M225.6 73.6h.65M230.3 99.9h.65M243.5 85.3h.65M233.2 89.8h.65M241.7 88.3h.65M229.0 82.7h.65M240.2 106.5h.65M227.9 69.5h.65M237.9 85.2h.65M233.3 95.6h.65M232.8 75.2h.65M218.6 85.4h.65M224.2 88.1h.65M223.4 83.0h.65M222.0 82.9h.65M229.2 90.5h.65M241.7 84.3h.65M226.3 101.4h.65M234.8 90.6h.65M236.6 97.4h.65M239.4 91.2h.65M237.7 78.9h.65M228.1 84.9h.65M233.0 85.9h.65M234.5 86.0h.65M229.3 72.8h.65M238.2 90.5h.65M226.2 89.8h.65M235.1 86.4h.65M219.5 76.2h.65M228.1 98.7h.65M226.3 83.0h.65M224.6 81.9h.65M234.7 69.2h.65M212.5 91.1h.65M232.6 81.0h.65M239.1 93.5h.65M217.7 84.5h.65M240.1 80.4h.65M230.1 93.4h.65M230.4 76.2h.65M227.5 75.2h.65M236.2 72.0h.65M239.3 72.6h.65M232.6 74.1h.65M230.1 94.0h.65M240.2 96.2h.65M231.7 86.6h.65M233.9 90.7h.65M229.5 94.6h.65M234.6 94.9h.65M235.7 91.2h.65M227.2 82.5h.65M223.3 83.4h.65M231.1 92.5h.65M223.5 111.7h.65M231.5 95.9h.65M239.6 65.6h.65M230.5 97.6h.65M215.3 91.9h.65M225.9 82.1h.65M233.9 70.9h.65M233.7 80.6h.65M227.1 91.4h.65M256.9 88.5h.65M236.2 85.4h.65M227.2 87.8h.65M242.9 87.3h.65M238.5 84.0h.65M249.9 72.6h.65M236.4 90.1h.65M234.2 76.8h.65M224.3 83.9h.65M233.0 76.0h.65M224.8 90.2h.65M239.5 81.2h.65M227.4 79.9h.65M249.6 89.6h.65M231.8 93.8h.65M248.3 95.1h.65M222.3 85.0h.65M229.4 83.0h.65M223.7 82.6h.65M224.6 88.4h.65M232.6 74.4h.65M220.3 81.8h.65M236.8 89.7h.65M231.8 59.2h.65M228.8 79.8h.65M229.9 75.9h.65M229.2 80.4h.65M251.3 91.3h.65M230.9 85.3h.65M231.4 87.2h.65M229.4 85.5h.65M239.4 92.3h.65M234.4 96.4h.65M233.8 77.8h.65M220.0 80.1h.65M231.8 88.9h.65M239.8 81.1h.65M226.6 91.9h.65M240.5 81.8h.65M234.6 96.7h.65M234.5 85.2h.65M217.6 96.3h.65M236.7 86.7h.65M229.0 75.7h.65M231.5 84.8h.65M239.9 76.0h.65M242.3 86.0h.65M240.6 77.9h.65M234.7 95.5h.65M233.0 73.9h.65M229.9 90.0h.65M222.4 74.1h.65M233.9 78.1h.65M237.0 76.3h.65M219.3 79.5h.65M242.7 78.8h.65M232.2 87.7h.65M225.6 94.4h.65M233.5 89.3h.65M220.4 71.7h.65M212.9 84.2h.65M230.6 91.5h.65M242.6 83.7h.65M230.3 89.3h.65M243.0 79.1h.65M236.6 83.7h.65M229.9 92.2h.65M226.7 77.1h.65M236.9 85.5h.65M230.4 84.6h.65M235.7 82.7h.65M237.6 89.0h.65M242.6 95.8h.65M238.3 84.1h.65M233.1 81.0h.65M252.2 83.9h.65M236.1 96.6h.65M222.7 79.1h.65M229.5 77.8h.65M223.4 81.6h.65M241.3 91.5h.65M232.5 86.0h.65M220.6 91.3h.65M235.3 77.1h.65M233.7 84.2h.65M228.6 77.8h.65M227.5 78.2h.65M235.5 88.7h.65M234.5 84.3h.65M229.4 102.1h.65M219.2 95.3h.65M234.8 86.3h.65M228.7 84.0h.65M224.0 74.7h.65M231.5 72.5h.65M238.2 94.7h.65M208.2 73.3h.65M234.2 87.5h.65M233.1 89.1h.65M237.5 92.7h.65M244.8 86.0h.65M238.4 72.8h.65M231.4 76.0h.65M242.1 104.5h.65M236.1 75.4h.65M231.5 86.0h.65M233.7 94.5h.65M239.0 64.6h.65M241.9 81.8h.65M228.4 97.1h.65M230.5 74.8h.65M223.1 86.3h.65M238.7 97.8h.65M231.1 82.1h.65M243.7 82.2h.65M242.5 87.7h.65M234.0 83.9h.65M234.4 82.1h.65M227.6 84.7h.65M227.8 88.3h.65M232.9 83.7h.65M230.9 84.0h.65M244.5 85.7h.65M228.2 83.5h.65M237.0 84.2h.65M231.3 83.8h.65M233.5 88.9h.65M235.4 72.7h.65M224.9 64.8h.65M237.9 94.7h.65M241.4 87.0h.65M240.4 85.5h.65M231.5 73.5h.65M226.9 81.1h.65M238.8 99.1h.65M229.1 88.8h.65M234.3 79.6h.65M220.3 79.8h.65M222.3 83.3h.65M231.3 84.4h.65M231.1 89.7h.65M225.8 92.9h.65M220.6 86.3h.65M235.0 79.5h.65M221.2 90.9h.65M227.6 92.0h.65M237.7 85.7h.65M232.3 93.7h.65M234.9 78.3h.65M233.5 90.2h.65M233.7 87.3h.65M231.3 84.8h.65M225.8 74.4h.65M240.2 80.7h.65M233.9 73.8h.65M233.4 79.2h.65M253.0 77.7h.65M225.6 93.3h.65M240.2 69.0h.65M234.1 92.8h.65M223.8 91.2h.65M228.6 77.8h.65M229.9 82.1h.65M222.6 103.6h.65M229.1 79.8h.65M238.2 85.2h.65M241.6 83.6h.65M234.7 86.5h.65M233.5 84.1h.65M231.6 99.1h.65M227.6 81.4h.65M229.9 90.3h.65M235.1 93.2h.65M223.0 87.8h.65M231.1 83.5h.65M233.4 70.1h.65M234.2 86.9h.65M222.4 85.0h.65M243.1 82.7h.65M236.4 84.0h.65M226.7 78.5h.65M229.5 96.1h.65M238.0 80.2h.65M239.2 84.8h.65M227.5 89.2h.65M226.0 73.3h.65M241.3 71.3h.65M236.1 73.7h.65M232.1 84.2h.65M229.3 68.5h.65M231.6 85.5h.65M226.1 85.2h.65M239.2 80.1h.65M234.1 76.7h.65M235.0 90.8h.65M249.5 92.9h.65M235.3 96.9h.65M225.4 94.3h.65M228.6 80.9h.65M239.9 87.7h.65M241.5 74.4h.65M234.2 81.7h.65M230.5 70.8h.65M238.8 87.5h.65M225.5 75.2h.65M226.4 96.8h.65M231.7 83.2h.65M235.8 85.9h.65M234.0 91.7h.65M234.7 92.8h.65M224.2 86.4h.65M230.0 86.7h.65M232.1 80.9h.65M230.0 93.3h.65M228.6 76.1h.65M236.5 93.6h.65M230.6 86.9h.65M226.7 84.3h.65M240.0 92.2h.65M233.5 83.8h.65M221.3 88.4h.65M235.6 94.2h.65M246.3 88.9h.65M239.0 77.2h.65M221.4 109.2h.65M223.0 108.3h.65M213.6 112.2h.65M202.2 108.2h.65M220.1 101.2h.65M197.2 107.1h.65M210.3 108.0h.65M215.7 101.3h.65M212.5 110.5h.65M205.4 103.7h.65M197.5 109.0h.65M229.1 98.4h.65M216.9 109.5h.65M203.4 103.2h.65M198.4 101.2h.65M210.8 108.2h.65M210.3 109.2h.65M211.3 99.4h.65M224.0 110.9h.65M201.9 113.7h.65M214.0 105.7h.65M228.8 92.9h.65M192.8 108.6h.65M206.7 100.5h.65M224.7 107.5h.65M196.2 101.9h.65M217.9 113.8h.65M188.7 106.3h.65M205.4 96.6h.65M207.6 97.3h.65M203.8 113.0h.65M214.5 108.9h.65M215.4 106.9h.65M219.3 99.5h.65M205.6 109.3h.65M201.9 103.0h.65M221.7 112.6h.65M203.1 101.2h.65M215.3 106.5h.65M202.5 108.1h.65M215.1 105.6h.65M239.5 111.8h.65M217.7 110.2h.65M239.8 110.6h.65M202.0 106.8h.65M210.2 102.4h.65M212.1 106.4h.65M208.9 102.8h.65M217.9 97.4h.65M217.9 105.3h.65M212.3 93.6h.65M226.7 96.8h.65M200.6 108.4h.65M203.2 103.2h.65M186.5 103.1h.65M211.6 108.5h.65M206.5 106.3h.65M214.0 101.9h.65M201.7 114.8h.65M200.7 111.3h.65M210.2 112.4h.65M202.9 107.8h.65M212.9 104.1h.65M212.7 101.5h.65M208.6 103.3h.65M217.3 104.8h.65M195.1 103.4h.65M208.5 100.8h.65M223.2 107.2h.65M218.1 101.5h.65M205.4 110.2h.65M194.7 107.0h.65M210.4 102.8h.65M210.4 100.0h.65M211.8 99.3h.65M196.3 112.1h.65M202.2 94.9h.65M219.5 101.4h.65M173.2 104.9h.65M219.0 107.0h.65M227.2 104.6h.65M215.7 100.3h.65M211.2 112.8h.65M214.7 106.0h.65M189.1 103.4h.65M196.2 109.1h.65M201.9 107.0h.65M199.1 114.5h.65M197.4 105.9h.65M236.6 106.3h.65M200.5 108.3h.65M219.7 109.5h.65M189.1 106.3h.65M187.5 114.6h.65M210.2 103.0h.65M216.5 107.6h.65M197.2 113.2h.65M207.0 96.6h.65M224.0 112.8h.65M222.5 107.9h.65M200.3 109.9h.65M228.8 109.3h.65M226.1 101.4h.65M220.1 109.9h.65M194.1 97.2h.65M202.1 105.7h.65M214.2 104.1h.65M208.9 104.7h.65M210.5 108.1h.65M214.7 105.0h.65M212.2 103.0h.65M217.8 102.8h.65M226.6 105.1h.65M212.4 101.5h.65M206.0 106.1h.65M209.8 102.2h.65M197.5 105.5h.65M211.2 108.0h.65M222.6 103.7h.65M188.8 104.6h.65M190.3 98.9h.65M220.3 108.1h.65M202.8 102.1h.65M208.6 96.6h.65M214.6 103.5h.65M228.8 100.0h.65M220.0 101.9h.65M220.2 100.4h.65M217.2 103.1h.65M201.0 104.5h.65M214.6 107.3h.65M226.1 109.4h.65M182.0 103.3h.65M188.8 103.4h.65M216.1 98.6h.65M197.2 106.0h.65M206.6 113.2h.65M213.0 107.9h.65M227.9 102.8h.65M209.6 100.3h.65M212.3 110.4h.65M223.9 105.1h.65M202.2 101.5h.65M195.0 105.9h.65M223.8 93.5h.65M186.8 112.3h.65M192.8 106.9h.65M196.4 109.2h.65M217.8 106.1h.65M218.3 105.6h.65M215.6 114.4h.65M221.2 102.0h.65M201.2 104.1h.65M207.3 105.7h.65M203.3 108.6h.65M210.1 107.1h.65M209.8 108.4h.65M197.2 113.2h.65M213.3 107.6h.65M216.1 110.8h.65M217.5 106.5h.65M207.8 97.1h.65M212.0 103.8h.65M206.5 117.4h.65M190.3 105.6h.65M222.5 110.2h.65M222.8 99.0h.65M199.7 108.5h.65M206.7 113.9h.65M212.2 106.4h.65M214.4 104.0h.65M211.1 102.0h.65M209.5 103.0h.65M212.5 98.3h.65M194.2 107.7h.65M212.2 100.6h.65M207.5 100.2h.65M231.3 97.6h.65M227.9 101.3h.65M214.3 104.1h.65M205.9 110.1h.65M218.5 104.0h.65M200.4 115.8h.65M224.7 106.1h.65M206.8 106.9h.65M210.8 111.4h.65M199.8 105.5h.65M201.7 112.0h.65M228.9 105.0h.65M215.6 112.5h.65M206.8 100.8h.65M220.9 108.0h.65M207.8 112.8h.65M212.4 96.6h.65M213.6 105.2h.65M229.7 105.4h.65M207.8 107.6h.65M212.5 98.4h.65M211.2 103.8h.65M224.7 117.5h.65M198.2 100.6h.65M201.1 102.2h.65M202.7 105.7h.65M221.4 99.0h.65M193.8 96.3h.65M221.6 112.1h.65M193.9 97.3h.65M211.3 110.9h.65M220.6 106.4h.65M217.1 107.1h.65M204.2 115.0h.65M210.0 99.9h.65M205.1 97.8h.65M210.2 111.0h.65M196.7 111.1h.65M232.0 107.4h.65M197.8 101.2h.65M206.5 99.1h.65M196.9 104.2h.65M208.1 108.5h.65M197.4 114.8h.65M221.1 109.9h.65M203.2 114.2h.65M206.4 114.6h.65M221.3 101.0h.65M205.2 114.8h.65M220.5 104.7h.65M212.1 106.5h.65M201.9 104.5h.65M203.1 103.3h.65M214.9 100.7h.65M217.6 106.0h.65M218.0 109.9h.65M223.1 108.6h.65M217.4 104.6h.65M216.0 101.0h.65M207.4 109.2h.65M209.5 107.7h.65M198.9 112.3h.65M203.9 107.5h.65M209.8 110.1h.65M206.0 100.5h.65M190.0 103.9h.65M197.4 108.2h.65M225.2 94.3h.65M196.4 107.0h.65M223.0 107.0h.65M213.4 108.0h.65M216.1 113.7h.65M216.4 99.3h.65M205.0 106.5h.65M201.4 104.2h.65M204.5 102.0h.65M217.3 103.5h.65M198.5 101.9h.65M210.4 116.1h.65M212.7 112.9h.65M215.2 94.7h.65M214.0 101.2h.65M195.7 100.1h.65M228.9 97.5h.65M203.4 111.3h.65M217.0 96.9h.65M208.8 102.9h.65M207.9 109.2h.65M203.9 103.9h.65M225.4 96.2h.65M206.0 107.8h.65M196.8 102.3h.65M196.1 106.2h.65M203.4 109.4h.65M220.8 105.7h.65M205.9 106.8h.65M210.6 99.3h.65M221.3 106.6h.65M218.3 98.6h.65M219.2 116.1h.65M216.5 98.1h.65M210.3 105.2h.65M212.3 104.3h.65M215.2 103.1h.65M212.4 102.0h.65M211.0 110.5h.65M204.7 108.8h.65M200.5 103.6h.65M207.4 111.7h.65M201.8 111.6h.65M194.4 104.6h.65M219.6 108.9h.65M199.2 99.3h.65M219.2 99.1h.65M216.0 102.8h.65M209.8 117.1h.65M226.3 109.7h.65M195.3 107.0h.65M210.5 104.9h.65M224.1 96.7h.65M213.3 106.1h.65M201.9 114.1h.65M196.4 105.6h.65M210.7 94.3h.65M194.7 100.5h.65M218.2 110.2h.65M216.2 106.6h.65M186.5 106.5h.65M204.4 111.3h.65M224.1 116.7h.65M217.4 109.5h.65M198.9 105.8h.65M196.7 109.9h.65M197.1 104.3h.65M201.1 103.0h.65M214.7 102.5h.65M212.2 100.3h.65M224.7 102.1h.65M220.6 116.2h.65M183.9 100.4h.65M207.6 111.3h.65M204.6 107.3h.65M202.0 108.2h.65M196.9 109.6h.65M177.9 95.8h.65M229.2 106.2h.65M200.2 116.6h.65M221.0 111.1h.65M205.3 108.5h.65M215.2 96.9h.65M216.1 104.4h.65M223.5 112.0h.65M202.9 102.3h.65M211.8 108.7h.65M205.3 104.8h.65M216.3 107.5h.65M222.2 106.6h.65M200.2 96.4h.65M218.4 103.6h.65M206.0 103.9h.65M192.9 103.3h.65M181.8 103.3h.65M200.1 114.7h.65M214.5 104.2h.65M211.5 109.1h.65M201.6 104.2h.65M205.9 118.1h.65M210.5 95.3h.65M218.3 118.6h.65M199.4 123.2h.65M209.0 110.5h.65M203.6 103.9h.65M196.4 99.9h.65M186.6 111.2h.65M197.3 107.2h.65M213.2 102.0h.65M210.2 104.8h.65M204.3 105.6h.65M210.2 100.1h.65M195.7 100.9h.65M211.0 112.4h.65M225.5 106.9h.65M219.9 105.9h.65M221.6 106.0h.65M213.9 103.8h.65M209.6 115.1h.65M196.6 105.3h.65M203.2 110.2h.65M229.3 103.7h.65M179.6 108.5h.65M216.3 96.6h.65M207.0 104.9h.65M184.5 108.8h.65M214.4 106.5h.65M198.1 101.6h.65M202.7 107.8h.65M198.9 112.9h.65M213.7 94.0h.65M227.9 106.1h.65M203.6 105.8h.65M189.7 106.2h.65M182.8 100.0h.65M224.3 111.8h.65M205.8 100.2h.65M219.7 105.0h.65M211.8 108.5h.65M197.8 109.4h.65M186.4 112.8h.65M192.4 102.0h.65M202.2 109.0h.65M217.6 107.1h.65M215.4 107.7h.65M208.7 95.3h.65M184.2 93.2h.65M208.9 104.0h.65M207.9 106.4h.65M206.9 100.0h.65M193.0 95.3h.65M222.7 109.9h.65M194.6 103.8h.65M214.2 113.5h.65M202.8 106.1h.65M222.1 96.1h.65M201.3 105.0h.65M201.5 116.2h.65M218.9 106.2h.65M198.8 109.7h.65M216.3 102.5h.65M204.6 97.5h.65M208.5 109.7h.65M220.3 108.2h.65M218.4 102.1h.65M204.2 111.4h.65M214.3 101.0h.65M214.8 109.5h.65M217.1 105.7h.65M203.6 107.2h.65M227.9 105.9h.65M202.0 106.9h.65M195.8 106.3h.65M206.0 110.1h.65M210.4 110.6h.65M234.5 104.0h.65M200.1 107.5h.65M208.3 105.9h.65M202.7 108.0h.65M210.0 93.9h.65M206.7 106.9h.65M222.1 102.1h.65M200.5 111.1h.65M202.6 105.7h.65M214.4 109.0h.65M209.3 99.3h.65M220.3 102.9h.65M203.5 115.5h.65M218.8 99.6h.65M204.0 103.8h.65M201.0 95.1h.65M218.0 109.1h.65M211.9 103.0h.65M211.5 108.4h.65M197.8 103.4h.65M203.1 108.7h.65M212.1 98.4h.65M202.5 114.3h.65M198.6 105.9h.65M202.3 111.6h.65M208.5 102.8h.65M196.4 103.8h.65M218.2 108.6h.65M194.8 113.2h.65M206.5 99.6h.65M210.6 101.9h.65M202.9 101.8h.65M208.2 102.5h.65M190.6 107.8h.65M203.5 111.3h.65M215.0 108.3h.65M211.1 111.8h.65M205.6 99.9h.65M212.9 91.0h.65M205.1 106.2h.65M204.6 111.6h.65M216.7 105.6h.65M204.8 110.7h.65M201.7 102.9h.65M217.2 108.1h.65M231.2 103.9h.65M188.7 108.5h.65M222.7 104.2h.65M226.0 114.2h.65M201.9 102.6h.65M195.5 107.8h.65M216.9 108.2h.65M195.7 101.1h.65M193.5 96.7h.65M194.5 96.9h.65M207.1 107.2h.65M215.8 104.9h.65M201.8 105.0h.65M215.2 103.5h.65M209.6 103.4h.65M203.4 105.2h.65M196.9 110.4h.65M192.1 107.4h.65M194.3 112.8h.65M218.4 100.8h.65M204.1 99.2h.65M208.4 107.1h.65M236.6 98.0h.65M222.4 102.0h.65M212.0 109.5h.65M214.9 107.2h.65M206.9 105.0h.65M210.7 111.2h.65M193.1 102.5h.65M195.5 100.0h.65M200.4 110.6h.65M232.2 112.0h.65M196.2 105.4h.65M196.7 107.3h.65M222.7 108.0h.65M218.4 104.2h.65M187.7 94.8h.65M207.9 108.0h.65M222.7 103.2h.65M209.8 106.3h.65M220.5 104.6h.65M197.2 110.6h.65M213.4 107.0h.65M195.3 105.0h.65M190.5 94.7h.65M206.4 102.8h.65M215.1 112.4h.65M208.6 114.2h.65M202.7 108.9h.65M195.3 105.6h.65M205.6 103.9h.65M215.3 95.3h.65M210.2 100.8h.65M210.3 107.0h.65M205.0 103.1h.65M196.6 107.8h.65M201.7 107.3h.65M193.6 112.0h.65M198.0 110.9h.65M204.2 107.8h.65M207.4 108.5h.65M209.0 111.5h.65M216.2 108.5h.65M227.0 101.4h.65M223.0 105.4h.65M193.1 107.5h.65M206.8 113.7h.65M203.7 105.3h.65M211.5 95.2h.65M214.5 99.9h.65M224.2 113.5h.65M208.9 96.9h.65M211.0 105.9h.65M216.8 103.5h.65M196.2 104.3h.65M199.0 114.1h.65M201.4 101.7h.65M208.5 98.6h.65M204.2 104.3h.65M203.7 103.7h.65M222.4 107.2h.65M194.6 102.8h.65M217.0 101.7h.65M209.9 104.9h.65M214.7 104.1h.65M207.5 100.6h.65M212.9 100.2h.65M227.7 104.9h.65M206.6 109.0h.65M208.1 105.5h.65M208.4 101.3h.65M199.1 101.4h.65M221.2 101.8h.65M204.6 102.7h.65M216.5 115.1h.65M199.1 107.8h.65M210.3 103.4h.65M214.4 98.5h.65M218.0 106.1h.65M198.3 113.2h.65M218.1 111.0h.65M193.4 103.6h.65M203.4 108.2h.65M223.6 95.2h.65M209.2 104.4h.65M219.7 104.8h.65M195.3 104.0h.65M197.9 101.0h.65M209.5 102.5h.65M212.0 97.2h.65M233.9 111.4h.65M216.7 98.4h.65M185.8 100.6h.65M206.5 116.4h.65M223.0 102.3h.65M222.0 111.3h.65M209.2 111.2h.65M212.5 101.7h.65M196.4 104.4h.65M219.7 98.1h.65M191.7 107.8h.65M179.8 114.3h.65M204.3 108.7h.65M229.0 97.6h.65M197.7 116.5h.65M205.9 104.3h.65M211.4 110.4h.65M223.2 105.6h.65M205.4 104.8h.65M212.3 111.7h.65M210.5 114.3h.65M199.8 107.7h.65M227.9 111.6h.65M212.6 100.5h.65M201.4 104.2h.65M212.3 103.7h.65M193.4 101.2h.65M214.6 109.3h.65M194.0 103.1h.65M191.0 102.1h.65M247.0 105.3h.65M205.3 102.0h.65M196.0 95.5h.65M208.5 103.6h.65M224.9 96.6h.65M213.7 111.9h.65M188.0 108.4h.65M191.7 107.7h.65M224.8 105.0h.65M212.1 101.5h.65M212.1 110.8h.65M207.0 104.3h.65M213.2 109.2h.65M191.4 105.3h.65M201.6 107.5h.65M220.1 106.6h.65M222.9 99.9h.65M204.6 99.9h.65M209.6 105.5h.65M206.9 98.8h.65M208.2 102.8h.65M215.5 103.6h.65M221.5 106.2h.65M189.1 104.1h.65M193.7 110.0h.65M224.4 104.9h.65M213.8 97.6h.65M184.9 102.2h.65M206.3 97.3h.65M210.0 106.6h.65M215.9 112.9h.65M217.7 103.1h.65M210.1 108.1h.65M197.8 111.8h.65M218.7 103.9h.65M202.2 124.5h.65M218.1 109.8h.65M228.4 110.0h.65M211.3 108.6h.65M199.2 108.7h.65M192.5 107.2h.65M215.0 97.0h.65M229.7 99.1h.65M220.3 102.3h.65M212.4 101.7h.65M235.9 110.3h.65M228.6 109.1h.65M216.6 105.8h.65M206.6 108.2h.65M210.9 104.3h.65M194.4 103.5h.65M215.7 102.7h.65M212.9 104.4h.65M198.1 100.5h.65M201.3 103.6h.65M206.4 110.8h.65M197.6 94.6h.65M216.6 102.8h.65M208.0 118.2h.65M225.0 108.1h.65M219.5 105.7h.65M219.6 102.0h.65M201.6 102.7h.65M226.3 113.1h.65M202.8 111.1h.65M207.6 110.7h.65M205.9 110.1h.65M208.1 103.7h.65M209.1 106.0h.65M203.1 98.1h.65M227.6 103.1h.65M189.8 93.5h.65M179.1 102.0h.65M224.0 96.8h.65M205.9 95.7h.65M221.3 107.1h.65M212.9 112.1h.65M227.1 110.5h.65M203.2 98.4h.65M198.1 96.2h.65M228.9 104.2h.65M210.8 106.2h.65M231.2 102.3h.65M222.2 106.8h.65M207.8 95.3h.65M219.4 101.4h.65M204.5 106.4h.65M210.5 111.0h.65M202.2 106.1h.65M212.4 105.3h.65M216.8 103.9h.65M222.5 101.6h.65M193.9 105.0h.65M222.2 102.6h.65M202.7 103.4h.65M211.2 104.3h.65M212.8 96.4h.65M225.6 108.2h.65M200.1 112.3h.65M214.3 112.8h.65M196.7 113.8h.65M209.9 94.6h.65M217.6 103.7h.65M198.5 104.1h.65M188.5 108.2h.65M207.1 103.8h.65M224.7 105.4h.65M202.3 100.3h.65M208.8 110.7h.65M203.2 99.9h.65M219.4 105.5h.65M209.2 116.0h.65M196.3 106.2h.65M190.2 103.7h.65M215.8 111.0h.65M195.7 109.5h.65M217.9 104.6h.65M236.1 105.2h.65M199.9 107.4h.65M189.3 113.2h.65M220.1 103.2h.65M216.1 108.0h.65M230.4 102.0h.65M195.5 94.7h.65M206.2 97.1h.65M207.6 107.3h.65M204.7 100.3h.65M222.3 104.2h.65M211.9 110.1h.65M195.3 100.5h.65M236.4 104.4h.65M198.2 103.9h.65M203.2 98.9h.65M205.0 105.1h.65M209.3 108.0h.65M190.7 97.5h.65M218.0 102.9h.65M222.6 106.8h.65M194.2 108.0h.65M198.5 106.5h.65M222.7 116.1h.65M208.7 108.8h.65M212.7 109.3h.65M181.9 103.2h.65M212.6 107.6h.65M201.3 109.4h.65M217.6 96.7h.65M197.1 90.1h.65M202.8 113.8h.65M223.7 88.4h.65M186.3 83.4h.65M215.8 99.0h.65M205.2 103.0h.65M206.4 93.7h.65M184.6 86.1h.65M202.5 101.7h.65M194.9 89.2h.65M221.7 88.4h.65M204.0 90.7h.65M187.4 72.3h.65M192.4 83.0h.65M213.7 78.0h.65M194.3 105.7h.65M198.9 103.2h.65M213.5 70.1h.65M194.3 80.9h.65M221.3 93.8h.65M208.2 121.7h.65M195.2 96.8h.65M206.9 91.5h.65M219.9 108.1h.65M216.0 96.4h.65M195.4 90.2h.65M195.0 70.5h.65M206.2 108.1h.65M200.5 88.0h.65M201.2 99.0h.65M205.6 123.1h.65M187.5 101.2h.65M211.1 96.8h.65M197.0 80.0h.65M191.5 106.4h.65M222.7 85.6h.65M207.8 103.5h.65M215.9 99.3h.65M207.3 109.2h.65M182.9 96.3h.65M173.7 65.6h.65M188.1 72.2h.65M208.3 110.7h.65M195.9 93.5h.65M197.0 91.6h.65M202.6 100.9h.65M193.5 83.6h.65M192.7 107.7h.65M194.2 117.5h.65M196.9 116.3h.65M182.5 85.0h.65M207.8 102.9h.65M198.2 126.4h.65M201.6 99.9h.65M191.9 120.6h.65M213.5 101.8h.65M175.8 101.0h.65M193.5 101.5h.65M214.3 84.2h.65" stroke="#111" stroke-width=".65" fill="none"/>
<path d="M347.1 109.7h.65M346.8 104.8h.65M338.8 103.4h.65M337.4 110.1h.65M346.4 101.2h.65M345.7 100.9h.65M324.3 111.0h.65M353.4 100.2h.65M341.0 107.0h.65M343.2 102.7h.65M342.4 105.2h.65M342.1 107.0h.65M344.2 103.1h.65M345.9 99.5h.65M355.1 99.1h.65M345.2 107.5h.65M348.4 107.2h.65M353.9 101.6h.65M345.2 106.7h.65M342.5 103.7h.65M354.1 103.3h.65M342.6 105.0h.65M344.3 106.8h.65M344.3 107.6h.65M346.6 108.0h.65M354.6 102.7h.65M356.4 104.3h.65M350.0 106.7h.65M343.7 98.3h.65M356.1 103.1h.65M340.5 110.3h.65M346.1 113.7h.65M356.6 108.9h.65M347.3 109.1h.65M337.1 106.8h.65M346.6 104.2h.65M347.3 100.3h.65M351.5 111.2h.65M337.3 106.7h.65M355.7 107.8h.65M339.0 102.2h.65M351.2 113.4h.65M338.6 106.2h.65M340.6 105.0h.65M347.6 105.9h.65M341.2 114.5h.65M344.6 105.4h.65M352.8 106.1h.65M344.3 109.9h.65M339.0 109.1h.65M352.3 108.7h.65M344.5 106.0h.65M334.6 105.6h.65M347.5 109.5h.65M346.5 104.5h.65M340.2 105.9h.65M346.5 110.9h.65M345.7 104.1h.65M344.9 104.2h.65M344.1 97.3h.65M335.4 101.3h.65M348.6 105.8h.65M346.6 110.7h.65M338.9 110.6h.65M348.1 103.2h.65M355.2 100.4h.65M338.4 105.2h.65M348.2 105.3h.65M331.9 104.9h.65M345.1 116.1h.65M354.4 106.6h.65M338.6 107.4h.65M338.1 106.9h.65M348.0 104.5h.65M347.2 104.8h.65M341.9 112.1h.65M349.3 104.9h.65M340.7 106.8h.65M349.2 109.4h.65M355.1 107.9h.65M338.4 114.1h.65M353.1 109.3h.65M354.2 100.2h.65M343.2 104.0h.65M353.2 101.4h.65M343.5 112.1h.65M349.8 104.5h.65M357.7 100.8h.65M348.5 105.2h.65M348.9 105.0h.65M340.2 106.9h.65M337.1 108.1h.65M343.5 109.7h.65M342.7 103.4h.65M348.1 110.9h.65M332.3 106.5h.65M349.6 100.4h.65M339.9 108.6h.65M340.3 103.5h.65M356.6 102.3h.65M340.0 96.9h.65M338.6 101.2h.65M356.6 110.8h.65M337.5 113.8h.65M350.5 105.3h.65M350.7 107.5h.65M340.7 99.1h.65M339.7 106.0h.65M343.3 103.1h.65M351.8 101.8h.65M351.3 104.1h.65M346.3 101.6h.65M345.5 102.9h.65M334.4 106.0h.65M345.2 109.3h.65M347.4 102.0h.65M341.6 96.2h.65M338.4 111.1h.65M355.3 109.0h.65M347.5 108.3h.65M348.7 99.2h.65M339.9 110.7h.65M353.1 107.0h.65M343.6 104.5h.65M342.1 102.4h.65M333.2 106.6h.65M342.6 105.2h.65M356.5 108.4h.65M341.0 108.3h.65M335.9 110.2h.65M347.2 105.3h.65M349.2 111.8h.65M342.6 102.1h.65M359.1 106.1h.65M355.1 103.3h.65M348.0 103.5h.65M349.6 104.9h.65M341.2 112.2h.65M347.7 98.0h.65M344.0 102.4h.65M337.7 103.7h.65M342.5 106.1h.65M340.4 98.6h.65M342.1 109.5h.65M336.7 108.5h.65M348.5 104.2h.65M347.5 103.0h.65M342.9 102.0h.65M348.5 111.4h.65M341.1 110.8h.65M331.7 102.5h.65M339.0 112.8h.65M341.7 109.1h.65M332.3 106.5h.65M349.2 105.9h.65M327.9 106.7h.65M350.7 111.3h.65M348.1 99.3h.65M344.2 109.6h.65M340.2 108.3h.65M342.4 106.4h.65M350.4 103.2h.65M364.1 106.6h.65M347.7 103.0h.65M345.9 104.9h.65M336.0 99.9h.65M347.4 105.7h.65M328.4 97.4h.65M343.5 105.7h.65M349.4 101.1h.65M349.3 104.8h.65M342.2 105.4h.65M351.9 108.2h.65M351.3 103.3h.65M343.7 101.4h.65M341.9 104.4h.65M342.5 108.9h.65M348.3 109.0h.65M346.3 110.3h.65M346.2 109.9h.65M348.8 108.9h.65M345.1 101.0h.65M336.1 113.8h.65M348.0 107.8h.65M344.4 104.2h.65M364.2 101.5h.65M345.1 105.8h.65M338.1 100.9h.65M340.9 104.6h.65M342.3 109.3h.65M337.8 107.6h.65M355.0 109.6h.65M338.1 94.2h.65M351.0 108.0h.65M341.7 111.1h.65M342.9 106.4h.65M338.8 107.3h.65M342.7 104.0h.65M352.5 106.9h.65M335.8 108.8h.65M350.9 102.7h.65M342.9 106.2h.65M343.9 106.5h.65M349.7 104.0h.65M359.0 103.2h.65M342.0 113.9h.65M361.0 106.2h.65M344.3 101.7h.65M352.9 106.7h.65M340.0 107.6h.65M354.4 108.7h.65M359.9 110.6h.65M348.4 105.9h.65M349.1 110.9h.65M351.1 110.2h.65M346.9 109.1h.65M353.4 105.3h.65M337.1 112.9h.65M349.3 104.2h.65M347.0 105.0h.65M334.4 105.3h.65M336.2 106.8h.65M344.8 110.5h.65M344.7 107.5h.65M343.6 104.5h.65M336.4 110.0h.65M346.6 103.7h.65M346.9 104.3h.65M340.8 107.0h.65M353.4 104.9h.65M336.2 103.5h.65M357.2 102.8h.65M353.2 105.0h.65M350.3 105.6h.65M335.2 104.4h.65M359.2 105.5h.65M349.2 104.7h.65M344.6 107.3h.65M348.6 114.9h.65M345.4 105.3h.65M341.2 100.8h.65M335.0 108.7h.65M333.4 111.6h.65M351.1 104.8h.65M338.0 106.1h.65M345.7 110.5h.65M340.7 104.5h.65M345.2 104.9h.65M341.5 99.2h.65M334.9 103.3h.65M344.1 110.0h.65M360.5 112.9h.65M348.1 113.5h.65M344.8 103.9h.65M360.6 101.7h.65M342.8 105.0h.65M355.0 103.6h.65M350.6 104.4h.65M337.6 107.0h.65M346.6 101.4h.65M339.9 102.8h.65M351.8 107.9h.65M347.1 108.0h.65M342.4 107.9h.65M341.6 100.7h.65M341.0 106.9h.65M346.1 110.3h.65M334.6 105.1h.65M348.1 102.2h.65M347.2 104.4h.65M338.2 110.5h.65M336.5 110.0h.65M342.9 102.3h.65M339.8 103.1h.65M340.0 107.1h.65M333.4 111.0h.65M351.0 111.6h.65M339.2 96.8h.65M341.5 105.4h.65M347.5 104.0h.65M345.0 106.6h.65M335.5 113.3h.65M338.3 107.1h.65M352.6 102.9h.65M345.6 112.6h.65M343.7 110.2h.65M347.5 107.0h.65M350.2 105.1h.65M344.2 109.9h.65M347.3 108.0h.65M337.8 106.1h.65M353.5 109.6h.65M347.8 104.0h.65M341.6 107.8h.65M354.8 106.2h.65M354.1 104.9h.65M353.4 102.1h.65M346.8 101.8h.65M349.9 108.4h.65M339.4 103.1h.65M342.7 100.1h.65M339.6 102.6h.65M350.7 111.6h.65M342.7 104.9h.65M347.0 104.0h.65M343.8 109.4h.65M347.1 105.7h.65M341.9 111.9h.65M341.6 106.5h.65M338.9 103.7h.65M346.2 104.5h.65M349.1 106.3h.65M336.6 96.8h.65M352.1 103.7h.65M355.2 106.1h.65M340.6 108.3h.65M343.8 106.1h.65M339.6 108.6h.65M352.7 104.0h.65M357.2 103.8h.65M347.2 99.5h.65M333.1 114.5h.65M354.8 110.6h.65M334.6 107.0h.65M348.3 106.4h.65M347.5 102.4h.65M344.5 101.5h.65M343.3 107.5h.65M340.5 104.9h.65M342.8 106.1h.65M351.6 107.0h.65M348.1 100.3h.65M343.2 109.3h.65M340.0 104.3h.65M339.3 111.4h.65M342.6 103.1h.65M349.6 110.4h.65M348.8 110.0h.65M346.9 105.5h.65M342.7 104.0h.65M341.7 107.5h.65M344.8 106.4h.65M349.5 105.8h.65M336.7 102.9h.65M338.3 98.4h.65M346.2 101.2h.65M337.2 101.7h.65M351.2 104.8h.65M352.0 105.7h.65M342.7 108.3h.65M349.4 106.5h.65M338.8 104.2h.65M337.9 105.0h.65M346.1 111.9h.65M354.7 108.7h.65M351.7 106.9h.65M363.5 112.1h.65M362.7 107.5h.65M348.2 110.2h.65M346.7 107.3h.65M339.1 109.8h.65M346.4 109.2h.65M344.1 98.9h.65M348.8 110.7h.65M337.2 102.1h.65M343.6 105.0h.65M334.5 113.0h.65M352.1 103.5h.65M333.7 107.5h.65M358.4 109.3h.65M353.0 102.2h.65M347.0 100.0h.65M358.4 108.3h.65M331.8 98.6h.65M348.6 106.6h.65M343.5 108.5h.65M358.5 107.5h.65M333.8 105.4h.65M337.0 102.8h.65M347.6 105.3h.65M338.6 105.9h.65M340.2 108.1h.65M343.9 107.5h.65M343.7 109.0h.65M344.6 105.9h.65M341.8 106.5h.65M333.9 116.6h.65M341.0 106.4h.65M342.4 104.0h.65M348.0 103.9h.65M342.6 100.4h.65M339.4 101.3h.65M357.1 100.6h.65M338.4 106.7h.65M354.7 99.2h.65M335.3 106.4h.65M347.6 100.3h.65M333.7 102.1h.65M350.3 105.8h.65M350.2 105.5h.65M345.2 108.4h.65M344.6 106.9h.65M339.5 103.5h.65M348.4 105.0h.65M340.5 108.6h.65M348.9 105.9h.65M340.4 109.5h.65M361.6 102.6h.65M335.3 102.8h.65M339.3 100.9h.65M337.7 109.3h.65M350.9 111.8h.65M350.2 104.0h.65M352.4 103.5h.65M343.1 101.2h.65M353.3 109.9h.65M342.3 104.7h.65M345.6 106.7h.65M350.8 106.2h.65M347.9 99.9h.65M343.4 98.7h.65M356.9 111.5h.65M350.0 110.3h.65M358.3 109.6h.65M335.0 105.1h.65M330.0 102.6h.65M337.2 105.8h.65M347.8 102.2h.65M343.5 107.0h.65M344.3 105.2h.65M329.7 104.1h.65M350.4 106.9h.65M335.6 104.8h.65M347.0 102.0h.65M349.7 102.7h.65M343.1 105.4h.65M359.7 104.6h.65M341.6 108.7h.65M342.2 106.6h.65M330.6 107.0h.65M345.1 100.7h.65M354.1 104.9h.65M344.0 100.6h.65M334.7 103.6h.65M335.4 107.8h.65M350.9 103.3h.65M334.8 104.3h.65M338.4 106.5h.65M346.4 104.1h.65M345.7 110.0h.65M356.3 103.8h.65M349.9 104.9h.65M338.4 111.0h.65M347.8 106.4h.65M347.5 105.2h.65M338.4 112.9h.65M351.1 106.9h.65M351.5 111.0h.65M343.9 108.2h.65M343.1 108.4h.65M343.6 115.6h.65M342.9 107.9h.65M348.2 104.5h.65M351.3 105.5h.65M342.6 105.8h.65M340.3 110.6h.65M349.3 109.8h.65M336.4 106.9h.65M340.2 106.2h.65M353.5 106.9h.65M344.1 110.3h.65M351.8 113.2h.65M333.1 107.1h.65M342.5 102.3h.65M346.0 101.2h.65M330.7 102.2h.65M343.5 113.3h.65M340.5 101.2h.65M332.4 104.4h.65M343.7 106.4h.65M335.8 102.8h.65M330.5 106.5h.65M335.0 94.8h.65M352.8 107.9h.65M347.5 107.2h.65M338.5 110.1h.65M338.4 113.5h.65M346.7 98.5h.65M350.9 113.7h.65M343.6 110.1h.65M343.9 103.3h.65M328.5 110.8h.65M342.3 107.4h.65M337.9 102.2h.65M352.5 104.3h.65M342.6 100.8h.65M346.6 109.0h.65M342.3 105.1h.65M337.3 111.5h.65M341.2 105.2h.65M356.2 104.9h.65M335.2 102.1h.65M342.9 113.0h.65M346.7 105.0h.65M350.7 111.1h.65M340.3 111.6h.65M350.9 107.7h.65M329.9 106.7h.65M354.4 104.8h.65M360.4 106.2h.65M338.7 108.3h.65M347.2 109.2h.65M343.9 111.1h.65M341.7 106.4h.65M337.2 102.7h.65M346.7 103.2h.65M342.4 105.1h.65M347.0 109.0h.65M350.4 110.0h.65M346.7 103.7h.65M334.9 104.5h.65M340.1 98.6h.65M356.2 98.5h.65M347.7 108.2h.65M343.8 116.4h.65M345.5 102.8h.65M356.9 102.7h.65M335.9 101.8h.65M341.1 106.1h.65M347.6 99.8h.65M347.7 115.0h.65M340.7 105.4h.65M349.9 110.8h.65M341.0 102.0h.65M338.7 110.4h.65M351.3 97.1h.65M331.3 100.9h.65M335.5 107.6h.65M346.8 113.9h.65M350.6 106.4h.65M353.1 102.3h.65M336.1 106.0h.65M351.6 99.3h.65M351.3 109.4h.65M342.1 106.6h.65M343.5 106.2h.65M350.7 102.6h.65M352.2 109.4h.65M351.3 97.9h.65M333.1 108.7h.65M341.5 103.1h.65M340.3 100.5h.65M343.5 103.0h.65M341.0 107.9h.65M337.5 110.5h.65M330.7 116.1h.65M336.4 108.3h.65M351.4 105.9h.65M350.3 105.5h.65M333.7 107.3h.65M352.9 103.7h.65M334.1 103.5h.65M347.5 107.1h.65M352.7 108.2h.65M348.7 97.8h.65M360.1 106.1h.65M351.1 104.5h.65M344.3 106.2h.65M355.8 112.1h.65M349.5 114.0h.65M342.7 108.0h.65M342.4 111.2h.65M345.6 109.9h.65M356.8 97.5h.65M359.8 107.2h.65M343.3 98.1h.65M343.4 96.5h.65M346.0 105.2h.65M357.5 104.6h.65M352.5 110.7h.65M359.1 104.9h.65M350.5 99.7h.65M338.0 104.8h.65M345.3 101.0h.65M342.7 108.8h.65M342.4 105.3h.65M339.5 111.6h.65M357.3 106.8h.65M344.7 112.8h.65M348.6 103.2h.65M336.5 103.6h.65M360.1 103.5h.65M364.7 106.0h.65M344.0 111.4h.65M343.8 107.5h.65M338.5 100.9h.65M340.5 106.9h.65M341.0 97.9h.65M348.6 105.3h.65M343.6 103.5h.65M330.5 112.5h.65M342.3 108.1h.65M354.8 110.6h.65M346.8 106.0h.65M347.5 109.7h.65M349.3 104.2h.65M348.5 107.5h.65M350.1 106.8h.65M354.6 106.8h.65M351.4 106.2h.65M341.7 102.1h.65M344.4 108.2h.65M353.9 105.6h.65M342.0 103.9h.65M354.1 106.4h.65M342.2 109.0h.65M336.7 106.5h.65M345.2 105.4h.65M337.8 110.0h.65M356.7 100.6h.65M346.3 108.6h.65M360.5 104.3h.65M339.2 106.0h.65M358.9 106.3h.65M347.3 113.3h.65M331.3 97.1h.65M351.5 109.2h.65M336.3 108.1h.65M345.8 106.9h.65M340.1 104.1h.65M339.7 106.2h.65M344.0 112.9h.65M349.7 99.5h.65M348.3 111.9h.65M347.4 110.5h.65M345.3 108.9h.65M339.3 109.2h.65M336.3 111.3h.65M335.4 97.3h.65M349.0 105.3h.65M346.3 107.8h.65M345.3 102.4h.65M346.9 107.4h.65M348.8 114.1h.65M340.6 106.3h.65M349.2 104.2h.65M337.5 103.7h.65M352.6 104.9h.65M349.6 103.0h.65M348.5 103.2h.65M339.9 106.5h.65M345.8 112.0h.65M334.7 108.1h.65M356.2 111.6h.65M342.9 103.2h.65M342.2 107.2h.65M346.8 107.4h.65M349.5 101.6h.65M338.0 101.0h.65M336.6 105.6h.65M347.6 116.4h.65M349.1 106.1h.65M355.0 103.0h.65M347.8 110.0h.65M350.7 107.7h.65M343.2 100.9h.65M344.5 103.6h.65M350.1 105.4h.65M349.2 99.4h.65M352.0 102.5h.65M335.1 100.4h.65M341.3 110.6h.65M350.3 101.2h.65M346.1 105.6h.65M335.1 101.9h.65M331.9 102.4h.65M327.8 102.7h.65M339.3 102.7h.65M340.0 110.7h.65M343.2 107.0h.65M350.5 109.7h.65M350.0 103.7h.65M338.2 102.8h.65M342.4 106.0h.65M344.9 110.5h.65M344.8 113.3h.65M352.4 104.0h.65M351.2 94.2h.65M354.7 107.7h.65M348.1 99.1h.65M362.3 105.0h.65M344.5 110.6h.65M344.2 102.5h.65M349.9 101.8h.65M350.4 106.6h.65M353.0 101.0h.65M353.8 107.2h.65M358.6 103.3h.65M357.8 108.9h.65M350.7 103.0h.65M349.2 108.7h.65M340.0 101.3h.65M340.4 112.0h.65M346.5 109.8h.65M347.4 106.5h.65M347.0 104.3h.65M353.6 106.7h.65M347.0 100.3h.65M347.6 103.2h.65M342.2 110.2h.65M338.2 105.2h.65M349.7 110.7h.65M342.1 107.3h.65M347.4 101.4h.65M331.3 98.1h.65M349.5 106.4h.65M336.6 103.4h.65M342.8 104.5h.65M345.3 115.0h.65M340.3 106.6h.65M340.4 103.4h.65M339.6 105.1h.65M341.8 107.4h.65M346.9 102.3h.65M358.2 101.2h.65M347.9 114.9h.65M340.8 111.4h.65M354.9 107.4h.65M333.2 111.8h.65M346.1 103.8h.65M354.0 103.0h.65M352.6 103.8h.65M349.1 101.6h.65M342.9 102.3h.65M340.8 106.8h.65M344.4 106.8h.65M354.0 105.5h.65M333.1 104.8h.65M346.0 110.2h.65M352.4 109.9h.65M344.0 108.6h.65M335.9 111.3h.65M348.4 108.1h.65M343.0 106.2h.65M341.1 108.3h.65M336.7 110.0h.65M349.1 114.3h.65M345.2 105.6h.65M346.8 106.1h.65M344.8 101.5h.65M338.2 103.7h.65M343.6 101.1h.65M337.8 104.8h.65M350.4 105.2h.65M350.0 110.0h.65M350.6 104.3h.65M342.8 98.4h.65M341.0 107.9h.65M338.3 111.5h.65M355.0 104.5h.65M351.6 100.2h.65M338.5 104.5h.65M345.6 105.2h.65M339.8 114.0h.65M347.4 107.2h.65M350.0 106.7h.65M344.0 103.7h.65M334.6 112.1h.65M339.4 99.2h.65M340.1 99.5h.65M358.7 107.5h.65M354.8 111.9h.65M349.3 108.3h.65M340.7 105.7h.65M341.5 106.2h.65M340.9 111.2h.65M350.6 105.6h.65M334.4 108.8h.65M351.4 105.7h.65M337.1 107.8h.65M352.5 98.2h.65M349.3 98.6h.65M346.0 113.1h.65M346.1 108.0h.65M343.4 106.0h.65M361.1 111.4h.65M343.4 104.4h.65M345.6 115.0h.65M346.9 110.5h.65M343.1 100.8h.65M354.3 105.7h.65M340.3 103.2h.65M341.1 103.5h.65M335.3 110.9h.65M348.0 110.0h.65M343.2 107.4h.65M346.6 110.8h.65M350.9 107.5h.65M341.2 101.1h.65M340.2 103.4h.65M341.9 101.0h.65M356.5 107.1h.65M332.2 101.6h.65M336.6 107.0h.65M352.6 102.0h.65M349.6 104.9h.65M353.1 111.6h.65M347.6 108.9h.65M345.5 104.5h.65M337.8 107.3h.65M345.0 104.4h.65M345.0 105.2h.65M338.7 103.9h.65M353.0 105.1h.65M354.7 101.3h.65M336.6 106.5h.65M350.6 103.3h.65M349.6 109.8h.65M352.6 105.6h.65M345.2 99.3h.65M345.7 107.1h.65M354.8 100.8h.65M339.9 101.9h.65M351.4 95.8h.65M338.4 114.3h.65M349.8 100.6h.65M345.1 109.4h.65M349.1 105.1h.65M340.3 109.4h.65M345.5 109.3h.65M348.1 104.1h.65M355.0 104.0h.65M348.3 103.4h.65M344.0 105.0h.65M341.2 107.0h.65M354.1 113.5h.65M354.9 105.3h.65M355.1 107.7h.65M357.3 100.9h.65M355.2 103.6h.65M353.1 104.1h.65M351.5 104.9h.65M333.2 102.1h.65M343.9 106.1h.65M330.8 101.2h.65M340.7 105.1h.65M346.9 102.7h.65M335.6 107.2h.65M343.3 109.6h.65M342.1 108.6h.65M339.7 107.1h.65M346.1 107.8h.65M339.4 105.5h.65M339.9 105.4h.65M349.6 118.0h.65M345.7 108.9h.65M346.2 110.6h.65M348.5 110.2h.65M347.8 115.7h.65M354.5 99.2h.65M347.5 106.3h.65M331.1 102.5h.65M342.5 103.1h.65M346.4 98.8h.65M350.4 109.1h.65M347.8 104.7h.65M345.6 104.1h.65M353.0 108.0h.65M358.5 104.5h.65M355.0 103.7h.65M344.4 101.8h.65M349.0 105.8h.65M349.6 112.0h.65M345.2 107.5h.65M351.4 105.8h.65M342.0 107.5h.65M348.8 109.2h.65M351.0 103.3h.65M348.4 111.0h.65M342.5 107.5h.65M341.5 106.7h.65M356.9 106.7h.65M339.2 107.4h.65M347.0 110.5h.65M336.6 102.4h.65M345.0 99.8h.65M353.0 97.9h.65M340.1 100.1h.65M341.3 109.2h.65M349.5 109.7h.65M349.5 97.9h.65M347.5 98.6h.65M342.3 104.5h.65M342.0 108.0h.65M340.3 113.0h.65M349.4 110.8h.65M350.5 109.6h.65M345.3 113.9h.65M338.7 107.9h.65M345.6 105.1h.65M347.6 103.0h.65M351.2 109.2h.65M346.2 109.0h.65M338.8 98.8h.65M341.8 105.1h.65M361.8 105.1h.65M352.3 109.4h.65M359.3 106.5h.65M349.8 105.3h.65M339.9 102.0h.65M340.5 111.8h.65M347.4 105.4h.65M345.7 103.8h.65M345.3 105.9h.65M349.8 109.7h.65M334.9 107.0h.65M354.5 101.9h.65M343.9 106.7h.65M352.7 108.4h.65M344.1 108.0h.65M352.3 107.6h.65M357.7 107.7h.65M338.7 102.9h.65M344.7 105.2h.65M349.6 107.5h.65M356.7 109.3h.65M355.2 103.0h.65M342.8 108.8h.65M346.2 108.6h.65M347.2 103.6h.65M356.7 110.6h.65M335.5 103.6h.65M345.7 108.8h.65M345.1 100.6h.65M351.0 105.2h.65M353.4 107.3h.65M352.1 109.4h.65M351.4 104.0h.65M352.3 106.9h.65M337.5 104.5h.65M343.4 108.0h.65M350.1 101.6h.65M350.3 105.8h.65M338.8 109.4h.65M340.7 101.3h.65M350.6 109.7h.65M341.4 110.3h.65M352.2 104.0h.65M358.6 105.9h.65M347.1 96.6h.65M349.8 103.6h.65M348.5 99.3h.65M353.2 111.9h.65M357.9 94.3h.65M349.5 107.5h.65M326.1 103.2h.65M345.1 111.8h.65M340.3 107.0h.65M345.3 107.6h.65M343.1 109.7h.65M352.0 100.7h.65M353.0 103.2h.65M344.0 110.6h.65M346.4 108.5h.65M350.9 108.6h.65M342.3 102.4h.65M350.2 109.2h.65M348.1 105.4h.65M351.4 106.1h.65M336.9 107.3h.65M349.1 109.3h.65M340.0 103.2h.65M348.0 104.4h.65M345.4 110.0h.65M348.4 113.5h.65M347.7 113.0h.65M352.8 116.4h.65M346.0 105.9h.65M354.4 104.2h.65M342.9 107.3h.65M348.4 100.7h.65M347.6 105.1h.65M345.8 107.0h.65M344.8 110.6h.65M349.2 105.6h.65M346.5 110.5h.65M351.1 111.4h.65M345.2 106.9h.65M359.1 106.2h.65M357.0 109.7h.65M343.4 100.8h.65M350.2 103.6h.65M341.6 99.5h.65M353.8 106.8h.65M346.3 108.0h.65M347.7 106.8h.65M349.5 105.3h.65M329.5 109.3h.65M348.9 106.5h.65M356.4 100.9h.65M327.5 112.3h.65M348.9 99.9h.65M343.5 108.9h.65M338.3 108.6h.65M359.9 111.9h.65M346.0 107.7h.65M340.1 106.9h.65M344.0 102.5h.65M337.5 114.1h.65M346.7 102.4h.65M343.5 112.3h.65M356.6 104.0h.65M347.4 110.0h.65M343.9 101.7h.65M339.9 106.5h.65M341.2 101.3h.65M344.6 110.1h.65M350.6 105.5h.65M358.5 103.3h.65M345.7 101.0h.65M351.2 105.9h.65M335.3 103.1h.65M357.7 109.3h.65M346.9 109.8h.65M335.8 103.1h.65M337.6 103.1h.65M343.7 108.5h.65M352.6 110.3h.65M363.5 104.4h.65M346.0 108.4h.65M340.8 105.2h.65M348.8 102.9h.65M349.2 111.2h.65M338.9 97.3h.65M346.6 102.2h.65M347.2 104.6h.65M348.1 110.9h.65M351.4 104.9h.65M338.5 96.5h.65M332.0 103.2h.65M346.7 103.6h.65M342.2 100.0h.65M335.3 99.4h.65M350.0 98.4h.65M350.3 102.7h.65M349.3 107.2h.65M350.7 110.9h.65M340.7 102.3h.65M342.9 103.1h.65M350.0 105.7h.65M345.7 107.7h.65M342.6 110.4h.65M333.7 107.0h.65M348.8 103.0h.65M341.1 109.6h.65M343.5 98.4h.65M336.8 110.0h.65M339.8 111.2h.65M354.4 105.2h.65M349.0 102.7h.65M342.9 103.2h.65M349.3 100.9h.65M344.6 106.2h.65M348.8 97.5h.65M333.9 102.5h.65M344.0 106.5h.65M346.7 114.0h.65M349.7 108.3h.65M342.3 109.1h.65M349.9 108.6h.65M344.7 108.4h.65M355.3 102.8h.65M331.5 109.2h.65M350.2 105.0h.65M342.6 116.9h.65M342.4 101.1h.65M342.3 107.9h.65M341.5 104.4h.65M347.4 104.2h.65M346.2 105.8h.65M338.5 106.2h.65M337.9 109.6h.65M339.4 105.0h.65M333.7 104.2h.65M337.3 111.9h.65M344.6 108.0h.65M334.1 101.0h.65M344.3 100.5h.65M352.7 104.3h.65M346.3 107.1h.65M344.4 109.0h.65M341.0 107.4h.65M353.1 106.8h.65M346.2 104.6h.65M345.7 108.6h.65M343.8 99.3h.65M346.4 105.3h.65M348.4 106.1h.65M355.4 101.1h.65M339.1 108.5h.65M338.7 107.2h.65M345.2 98.1h.65M349.6 111.3h.65M346.7 100.4h.65M350.4 101.8h.65M344.5 107.5h.65M340.3 99.2h.65M344.4 105.7h.65M339.9 102.8h.65M350.0 105.5h.65M342.3 103.5h.65M346.4 106.2h.65M344.2 100.4h.65M342.9 103.4h.65M345.7 110.4h.65M351.3 108.4h.65M346.0 104.6h.65M347.4 104.0h.65M343.1 102.6h.65M344.9 105.6h.65M357.0 108.0h.65M342.9 108.9h.65M342.3 109.8h.65M350.2 117.1h.65M338.4 105.6h.65M344.6 107.0h.65M349.8 102.1h.65M340.7 107.0h.65M351.4 101.5h.65M335.5 110.3h.65M350.6 110.1h.65M339.2 105.1h.65M346.7 107.6h.65M344.5 105.7h.65M351.6 104.2h.65M341.8 104.2h.65M342.1 106.4h.65M344.0 104.2h.65M354.2 107.0h.65M343.2 110.7h.65M341.8 105.9h.65M344.7 103.7h.65M342.9 106.2h.65M336.3 104.4h.65M346.8 106.9h.65M347.1 114.8h.65M349.4 105.3h.65M344.5 105.9h.65M348.0 104.7h.65M354.7 101.6h.65M349.2 107.8h.65M338.2 108.3h.65M348.7 103.4h.65M359.6 108.6h.65M343.2 104.0h.65M340.7 106.8h.65M345.6 100.5h.65M338.8 103.1h.65M342.8 104.5h.65M341.1 108.3h.65M351.1 106.1h.65M331.7 105.3h.65M348.7 105.5h.65M346.9 106.2h.65M336.0 96.2h.65M349.1 103.9h.65M347.8 104.7h.65M344.2 111.1h.65M337.9 105.8h.65M338.5 106.1h.65M348.2 108.3h.65M346.2 100.6h.65M346.8 109.2h.65M351.4 114.0h.65M348.7 102.0h.65M342.0 106.2h.65M351.7 101.5h.65M350.9 108.3h.65M339.9 108.2h.65M340.5 105.8h.65M343.4 106.7h.65M338.0 107.8h.65M331.9 104.3h.65M341.8 111.8h.65M348.6 104.0h.65M339.7 106.0h.65M341.4 114.3h.65M328.1 106.1h.65M330.1 109.8h.65M340.3 111.9h.65M341.9 110.0h.65M346.5 110.3h.65M345.4 94.6h.65M340.8 99.9h.65M351.1 107.9h.65M345.3 107.6h.65M346.5 103.7h.65M357.3 106.8h.65M344.1 100.3h.65M341.4 105.9h.65M344.2 104.0h.65M344.9 101.6h.65M345.3 100.0h.65M339.9 103.0h.65M350.6 107.7h.65M345.7 101.5h.65M342.8 108.9h.65M353.0 100.3h.65M342.6 106.3h.65M347.4 105.9h.65M349.4 100.4h.65M354.9 101.5h.65M345.6 107.8h.65M352.5 109.3h.65M350.7 110.7h.65M344.3 108.7h.65M354.8 103.0h.65M336.6 102.1h.65M354.0 110.6h.65M343.1 106.8h.65M348.3 109.9h.65M333.7 103.8h.65M343.7 107.1h.65M345.8 104.7h.65M347.1 96.1h.65M364.4 109.0h.65M350.8 103.4h.65M347.9 113.8h.65M356.6 106.2h.65M337.7 106.5h.65M343.5 109.2h.65M337.4 105.2h.65M347.1 104.1h.65M351.9 101.6h.65M337.7 104.6h.65M350.5 104.8h.65M341.7 109.0h.65M346.8 103.9h.65M346.2 105.0h.65M349.2 106.5h.65M340.4 104.1h.65M342.8 107.4h.65M347.7 102.7h.65M344.2 107.1h.65M352.2 106.9h.65M357.5 106.0h.65M350.0 104.7h.65M339.2 106.3h.65M348.4 107.2h.65M346.3 104.7h.65M340.3 104.8h.65M348.3 109.6h.65M324.9 108.3h.65M352.1 110.8h.65M347.8 108.5h.65M342.6 105.6h.65M348.7 101.7h.65M340.5 106.7h.65M337.1 106.1h.65M336.1 106.7h.65M345.6 103.8h.65M339.5 104.0h.65M331.4 104.4h.65M346.1 110.5h.65M342.2 105.3h.65M354.0 112.6h.65M342.3 109.9h.65M352.7 107.9h.65M339.2 102.3h.65M349.0 114.9h.65M344.3 111.9h.65M357.2 101.1h.65M341.6 111.7h.65M351.5 108.0h.65M345.3 108.3h.65M341.4 115.5h.65M338.2 99.0h.65M346.3 111.5h.65M342.3 105.7h.65M339.0 105.6h.65M339.0 102.1h.65M336.2 103.8h.65M357.0 105.7h.65M346.6 114.5h.65M341.4 102.1h.65M348.6 101.2h.65M347.5 110.4h.65M338.6 103.9h.65M356.0 101.9h.65M341.1 106.8h.65M343.4 102.6h.65M355.4 103.7h.65M347.4 104.3h.65M343.9 100.6h.65M351.2 104.3h.65M353.3 101.4h.65M342.3 107.8h.65M346.1 103.4h.65M344.5 100.9h.65M345.7 95.7h.65M346.5 111.1h.65M351.0 109.2h.65M342.7 107.8h.65M342.9 105.6h.65M344.7 93.0h.65M351.2 107.7h.65M350.6 102.3h.65M349.7 107.8h.65M331.4 99.1h.65M345.7 103.4h.65M345.3 103.5h.65M354.7 98.6h.65M336.8 102.2h.65M336.8 103.7h.65M345.2 100.8h.65M347.7 111.0h.65M352.2 113.7h.65M352.5 105.8h.65M356.5 108.7h.65M357.1 105.2h.65M332.2 101.4h.65M346.5 108.1h.65M344.1 109.8h.65M338.2 103.2h.65M351.6 106.2h.65M346.0 111.4h.65M352.3 102.9h.65M346.7 99.4h.65M345.4 107.5h.65M334.6 112.0h.65M358.0 107.9h.65M351.3 111.8h.65M344.4 110.0h.65M347.9 100.1h.65M339.8 103.8h.65M352.2 106.4h.65M351.7 104.2h.65M337.5 114.0h.65M362.6 107.5h.65M344.3 110.6h.65M338.6 105.2h.65M336.5 107.9h.65M347.1 104.5h.65M341.4 100.2h.65M340.3 110.7h.65M343.3 110.9h.65M340.1 105.7h.65M342.6 105.0h.65M350.3 98.1h.65M350.1 108.7h.65M345.5 106.3h.65M344.1 108.7h.65M345.9 102.7h.65M346.5 109.7h.65M347.8 106.1h.65M346.8 104.1h.65M342.6 98.8h.65M344.4 109.8h.65M343.1 102.5h.65M351.1 106.6h.65M346.4 107.8h.65M349.9 105.8h.65M340.3 112.7h.65M345.9 103.0h.65M346.7 110.6h.65M336.7 111.0h.65M344.7 113.7h.65M349.7 105.6h.65M353.3 110.9h.65M343.3 106.9h.65M342.3 109.5h.65M336.8 105.3h.65M332.3 108.3h.65M331.7 102.0h.65M347.2 104.7h.65M342.8 102.3h.65M342.6 99.3h.65M347.5 109.1h.65M350.3 105.9h.65M353.1 107.8h.65M351.5 107.5h.65M345.7 103.1h.65M329.2 108.5h.65M344.8 113.6h.65M333.2 109.2h.65M339.7 106.0h.65M340.0 107.3h.65M345.3 109.4h.65M346.4 107.8h.65M353.4 108.0h.65M344.7 110.7h.65M344.8 107.6h.65M343.5 103.5h.65M327.0 108.7h.65M338.4 108.8h.65M356.7 101.0h.65M351.0 105.7h.65M348.4 101.5h.65M345.7 106.6h.65M354.4 114.2h.65M347.5 104.6h.65M359.3 105.6h.65M345.2 106.4h.65M348.4 108.7h.65M342.0 105.6h.65M357.2 112.1h.65M348.3 107.1h.65M344.2 110.0h.65M342.4 106.5h.65M342.8 103.7h.65M345.8 106.1h.65M342.0 105.8h.65M346.0 104.3h.65M341.6 105.5h.65M349.9 110.3h.65M346.7 105.0h.65M345.4 113.3h.65M351.3 102.4h.65M345.3 104.1h.65M343.4 99.7h.65M345.8 100.9h.65M342.0 111.8h.65M351.8 102.8h.65M339.2 102.6h.65M334.0 102.3h.65M343.9 102.1h.65M350.3 105.9h.65M342.3 112.7h.65M350.0 106.3h.65M357.0 111.1h.65M341.3 107.3h.65M342.9 100.6h.65M357.4 111.8h.65M337.8 107.9h.65M335.5 110.2h.65M345.3 105.0h.65M353.4 106.1h.65M344.0 109.6h.65M343.7 109.4h.65M345.6 109.2h.65M349.5 109.1h.65M339.4 113.3h.65M344.6 112.8h.65M341.9 105.0h.65M344.0 110.5h.65M343.0 107.7h.65M335.9 104.2h.65M347.0 105.7h.65M333.9 108.0h.65M339.6 113.5h.65M344.4 114.8h.65M349.8 107.8h.65M342.6 105.6h.65M348.5 98.6h.65M351.8 101.6h.65M344.0 95.6h.65M348.5 109.0h.65M347.4 107.3h.65M343.3 106.7h.65M353.2 104.4h.65M348.8 108.9h.65M344.2 107.0h.65M347.0 104.2h.65M360.9 104.4h.65M356.4 110.2h.65M332.8 107.0h.65M352.1 109.2h.65M339.9 107.1h.65M338.1 102.1h.65M344.1 106.8h.65M355.7 107.5h.65M352.3 101.4h.65M338.3 104.2h.65M356.6 100.9h.65M335.6 105.8h.65M353.1 99.7h.65M344.0 100.8h.65M354.7 108.7h.65M347.3 105.9h.65M344.1 106.6h.65M341.5 102.6h.65M338.6 106.1h.65M340.6 109.5h.65M332.3 108.3h.65M349.0 110.8h.65M344.0 100.2h.65M339.7 110.5h.65M343.7 104.4h.65M341.9 105.8h.65M344.1 100.0h.65M341.8 110.0h.65M354.7 105.6h.65M342.3 111.3h.65M344.5 101.5h.65M344.8 108.7h.65M355.4 104.1h.65M349.0 104.8h.65M352.8 107.0h.65M347.2 102.2h.65M343.5 104.8h.65M322.8 109.4h.65M345.5 105.2h.65M343.3 106.1h.65M347.1 101.0h.65M346.3 106.5h.65M345.7 100.3h.65M344.7 101.0h.65M347.8 111.2h.65M351.1 104.7h.65M342.1 103.8h.65M347.8 103.4h.65M342.2 96.3h.65M340.2 103.0h.65M342.1 110.8h.65M337.0 100.9h.65M349.3 102.2h.65M344.5 106.7h.65M345.6 103.0h.65M351.3 111.9h.65M339.2 105.0h.65M351.5 105.2h.65M339.2 104.4h.65M350.8 102.2h.65M347.1 107.5h.65M341.4 108.2h.65M349.8 109.9h.65M351.4 100.2h.65M351.2 108.3h.65M351.7 102.7h.65M351.2 107.5h.65M338.2 111.0h.65M340.6 102.1h.65M348.1 103.7h.65M347.8 105.1h.65M347.3 109.2h.65M345.3 109.4h.65M350.9 102.8h.65M350.9 108.4h.65M346.4 110.4h.65M356.0 109.0h.65M336.3 107.8h.65M344.7 105.0h.65M347.7 104.8h.65M355.9 107.1h.65M345.7 109.1h.65M350.6 110.6h.65M349.6 105.9h.65M346.4 97.7h.65M336.3 110.1h.65M343.5 113.1h.65M356.9 101.2h.65M347.6 117.3h.65M340.6 107.6h.65M344.2 105.1h.65M343.8 106.0h.65M350.4 102.9h.65M348.8 103.3h.65M348.9 107.3h.65M340.7 106.6h.65M341.0 102.8h.65M353.0 99.0h.65M349.1 108.8h.65M341.9 110.3h.65M351.3 101.0h.65M348.9 107.9h.65M341.0 108.3h.65M350.3 103.3h.65M333.0 107.6h.65M340.9 99.4h.65M343.2 96.8h.65M343.5 111.9h.65M327.6 107.8h.65M339.8 104.5h.65M339.9 108.5h.65M345.5 103.0h.65M337.3 104.4h.65M352.9 101.4h.65M348.2 107.4h.65M333.0 110.4h.65M345.4 114.7h.65M356.6 105.1h.65M344.6 102.2h.65M336.9 109.2h.65M344.0 104.5h.65M344.5 108.7h.65M351.6 106.1h.65M344.4 106.5h.65M358.7 98.0h.65M338.3 107.9h.65M346.6 110.9h.65M354.0 113.8h.65M340.5 108.5h.65M344.1 109.9h.65M346.8 109.5h.65M340.9 106.7h.65M342.4 105.1h.65M342.8 102.1h.65M352.7 107.2h.65M352.6 102.2h.65M333.2 103.6h.65M344.7 109.2h.65M352.4 110.9h.65M355.5 109.0h.65M346.4 103.1h.65M350.0 104.1h.65M340.5 108.4h.65M347.1 109.5h.65M341.1 110.7h.65M348.0 105.4h.65M340.8 101.9h.65M337.0 111.6h.65M336.6 108.6h.65M344.1 103.8h.65M342.6 105.7h.65M351.4 108.3h.65M345.7 100.7h.65M334.3 113.4h.65M339.2 99.9h.65M352.8 100.2h.65M350.4 109.8h.65M347.2 109.9h.65M336.8 101.3h.65M344.4 106.1h.65M345.1 107.9h.65M340.9 97.7h.65M348.2 105.2h.65M350.8 114.3h.65M346.2 108.4h.65M339.9 109.7h.65M347.8 107.1h.65M351.5 101.6h.65M349.2 107.9h.65M355.8 99.0h.65M345.1 114.7h.65M343.0 104.4h.65M357.0 115.9h.65M346.4 103.3h.65M341.9 104.5h.65M340.2 102.9h.65M346.7 106.2h.65M348.7 106.2h.65M337.9 109.0h.65M347.2 103.8h.65M343.9 107.3h.65M346.1 105.6h.65M350.5 110.3h.65M343.6 106.0h.65M338.6 105.4h.65M348.7 109.5h.65M346.7 105.7h.65M341.1 106.9h.65M338.7 106.6h.65M345.8 102.5h.65M347.7 105.2h.65M349.4 104.2h.65M348.7 112.2h.65M346.8 109.2h.65M341.5 104.7h.65M333.6 105.5h.65M338.4 106.5h.65M332.5 102.7h.65M346.1 107.6h.65M335.1 104.4h.65M361.9 109.2h.65M346.6 95.3h.65M339.7 108.1h.65M347.1 107.8h.65M351.7 106.4h.65M351.0 99.0h.65M361.5 104.9h.65M341.5 111.9h.65M349.4 109.9h.65M341.7 107.2h.65M350.1 101.6h.65M344.2 105.1h.65M343.7 103.3h.65M337.6 107.7h.65M347.1 110.6h.65M345.1 103.4h.65M336.4 106.4h.65M343.6 113.9h.65M360.2 112.2h.65M339.8 100.6h.65M344.1 102.5h.65M354.6 106.5h.65M343.0 106.0h.65M353.6 102.3h.65M348.7 100.9h.65M344.2 103.5h.65M347.6 106.6h.65M353.2 108.7h.65M341.7 100.9h.65M340.4 104.4h.65M344.1 103.1h.65M352.4 109.7h.65M343.8 104.1h.65M344.0 105.9h.65M345.4 99.7h.65M342.8 98.7h.65M345.8 108.7h.65M338.8 106.7h.65M341.6 103.3h.65M358.0 109.5h.65M348.6 104.3h.65M348.2 105.3h.65M348.4 102.5h.65M345.1 104.5h.65M336.5 112.6h.65M350.7 102.9h.65M336.2 103.2h.65M340.2 103.6h.65M335.9 102.8h.65M345.9 107.6h.65M332.9 106.0h.65M339.2 101.9h.65M343.5 103.3h.65M350.0 108.8h.65M343.6 103.5h.65M356.9 113.3h.65M348.0 105.4h.65M352.0 111.7h.65M342.2 113.1h.65M344.5 110.3h.65M342.2 106.3h.65M342.6 106.1h.65M352.0 102.5h.65M343.6 108.2h.65M342.5 114.0h.65M336.1 116.0h.65M341.3 109.9h.65M355.9 108.1h.65M336.5 104.7h.65M346.0 108.2h.65M351.8 110.5h.65M355.0 102.2h.65M351.9 99.1h.65M346.5 101.8h.65M334.1 109.6h.65M345.3 109.9h.65M335.3 101.2h.65M344.9 103.4h.65M346.0 103.5h.65M343.3 101.5h.65M353.8 104.7h.65M337.9 108.7h.65M348.6 106.9h.65M346.9 104.4h.65M344.7 97.2h.65M335.5 101.1h.65M347.4 110.9h.65M344.4 104.9h.65M352.8 104.6h.65M349.7 107.7h.65M336.9 107.3h.65M346.8 101.4h.65M338.8 100.9h.65M354.4 114.4h.65M350.1 112.2h.65M336.8 111.6h.65M358.3 112.4h.65M339.4 110.3h.65M344.8 110.3h.65M341.4 106.1h.65M341.8 107.9h.65M344.9 110.4h.65M350.8 107.7h.65M345.3 104.8h.65M345.5 109.0h.65M346.4 107.2h.65M345.3 105.7h.65M341.2 98.5h.65M349.2 108.2h.65M339.2 113.6h.65M338.0 110.0h.65M347.2 107.3h.65M352.9 109.7h.65M345.7 101.8h.65M337.6 106.8h.65M355.8 109.5h.65M345.3 107.3h.65M350.0 112.9h.65M340.6 108.9h.65M347.3 103.0h.65M338.9 111.1h.65M347.7 105.2h.65M346.2 109.9h.65M346.1 112.4h.65M343.8 102.9h.65M344.8 102.3h.65M343.3 110.9h.65M356.6 108.5h.65M346.8 102.4h.65M339.0 107.5h.65M346.6 103.7h.65M342.6 112.2h.65M352.0 106.2h.65M347.0 111.1h.65M347.9 107.0h.65M335.3 99.3h.65M333.1 97.0h.65M345.4 107.3h.65M339.9 107.8h.65M348.4 105.7h.65M336.0 111.8h.65M354.5 103.7h.65M358.1 106.2h.65M340.4 104.4h.65M333.5 104.6h.65M335.1 110.5h.65M347.6 100.5h.65M349.3 99.2h.65M346.6 107.9h.65M346.0 101.5h.65M344.8 105.3h.65M345.9 112.0h.65M356.5 112.3h.65M341.4 103.0h.65M345.7 107.8h.65M332.2 103.6h.65M357.2 101.0h.65M340.7 103.2h.65M348.7 105.8h.65M343.4 99.9h.65M349.5 106.0h.65M341.2 106.1h.65M350.6 100.1h.65M335.4 101.9h.65M339.8 93.8h.65M341.6 110.5h.65M343.4 110.1h.65M326.8 105.6h.65M354.5 112.3h.65M342.3 102.7h.65M348.0 101.1h.65M343.1 99.3h.65M346.0 106.0h.65M356.1 107.4h.65M341.2 105.6h.65M337.1 106.1h.65M344.1 107.7h.65M351.6 98.0h.65M347.6 109.0h.65M337.7 113.6h.65M340.8 115.9h.65M350.6 109.9h.65M347.3 110.0h.65M338.8 102.8h.65M332.7 108.2h.65M340.9 109.0h.65M349.4 100.6h.65M350.1 107.0h.65M346.8 107.8h.65M345.3 106.0h.65M352.4 102.0h.65M337.7 102.9h.65M352.2 104.7h.65M358.0 93.6h.65M340.9 104.2h.65M347.3 111.4h.65M344.3 101.9h.65M351.0 112.2h.65M328.8 108.3h.65M347.4 102.7h.65M342.4 107.2h.65M345.7 105.0h.65M337.9 107.1h.65M341.2 106.3h.65M341.7 106.8h.65M350.4 106.9h.65M349.8 100.4h.65M348.5 107.2h.65M341.4 105.3h.65M327.3 106.3h.65M342.8 96.9h.65M348.8 103.4h.65M347.3 105.0h.65M348.6 106.3h.65M343.6 108.0h.65M350.9 96.9h.65M345.6 103.6h.65M338.3 111.2h.65M351.7 101.8h.65M338.2 109.3h.65M341.4 104.7h.65M332.6 105.4h.65M352.9 104.1h.65M344.7 113.0h.65M351.2 111.7h.65M349.6 110.8h.65M334.6 102.7h.65M334.7 114.9h.65M346.6 105.5h.65M340.5 101.9h.65M327.2 114.9h.65M344.9 106.2h.65M336.3 105.7h.65M347.9 105.6h.65M349.5 102.6h.65M347.6 109.5h.65M349.1 107.5h.65M344.8 102.0h.65M349.0 104.4h.65M339.3 109.0h.65M335.0 103.7h.65M350.5 109.8h.65M343.0 106.2h.65M349.0 105.7h.65M340.4 107.7h.65M346.5 106.4h.65M352.7 107.2h.65M342.5 106.6h.65M358.1 103.1h.65M343.7 102.8h.65M347.7 100.9h.65M348.4 109.0h.65M340.4 102.6h.65M335.8 106.1h.65M338.2 103.5h.65M342.7 103.2h.65M350.9 112.4h.65M331.6 102.7h.65M347.1 101.8h.65M342.0 106.8h.65M354.5 110.7h.65M343.6 106.5h.65M343.1 105.3h.65M337.8 98.9h.65M343.1 109.9h.65M350.4 98.5h.65M344.2 103.5h.65M347.3 101.6h.65M351.4 105.2h.65M349.2 109.5h.65M332.8 105.1h.65M355.3 106.1h.65M352.2 107.7h.65M342.2 107.1h.65M352.3 111.1h.65M354.9 101.6h.65M350.9 100.5h.65M344.6 105.1h.65M349.5 107.2h.65M353.6 103.5h.65M350.9 107.5h.65M345.5 101.2h.65M349.2 107.2h.65M350.6 105.8h.65M343.8 107.5h.65M348.5 108.7h.65M357.8 103.5h.65M358.5 94.2h.65M351.7 102.7h.65M358.5 102.4h.65M352.4 102.0h.65M338.1 109.2h.65M351.1 103.2h.65M361.1 104.7h.65M355.6 101.9h.65M339.2 106.3h.65M338.9 107.8h.65M331.6 106.7h.65M341.8 102.2h.65M346.9 105.1h.65M342.6 109.2h.65M347.4 107.5h.65M354.1 105.7h.65M350.9 104.3h.65M349.4 108.1h.65M341.9 99.9h.65M337.2 102.2h.65M349.1 105.5h.65M343.6 107.9h.65M350.2 111.5h.65M341.6 108.2h.65M350.1 102.2h.65M346.3 102.3h.65M344.0 107.7h.65M334.5 102.5h.65M340.3 106.4h.65M340.7 107.5h.65M339.9 103.9h.65M349.4 107.3h.65M346.5 105.8h.65M352.0 111.5h.65M343.1 103.1h.65M338.8 112.9h.65M339.7 100.7h.65M347.2 110.2h.65M337.5 105.5h.65M336.2 103.2h.65M356.0 106.7h.65M343.8 106.3h.65M347.3 105.6h.65M337.8 101.3h.65M358.5 103.0h.65M353.2 103.1h.65M353.9 108.8h.65M344.1 114.0h.65M339.5 105.1h.65M339.9 102.9h.65M343.1 102.2h.65M343.4 112.3h.65M334.3 101.0h.65M339.3 104.1h.65M352.0 108.9h.65M348.6 106.8h.65M361.0 101.5h.65M338.1 105.9h.65M346.8 105.1h.65M340.1 100.8h.65M343.7 103.2h.65M342.4 101.7h.65M354.1 107.8h.65M357.5 103.9h.65M345.9 105.0h.65M345.6 105.0h.65M344.4 98.2h.65M343.7 108.7h.65M332.9 104.6h.65M349.2 111.0h.65M344.9 107.8h.65M356.8 111.1h.65M342.6 103.6h.65M352.1 106.9h.65M342.0 105.1h.65M347.5 105.2h.65M343.9 105.1h.65M335.9 112.9h.65M353.4 112.0h.65M344.6 106.5h.65M349.2 109.3h.65M333.7 107.4h.65M339.1 105.7h.65M341.2 112.8h.65M349.0 105.9h.65M354.5 105.7h.65M340.8 105.3h.65M343.1 106.2h.65M350.9 105.5h.65M345.1 110.0h.65M347.4 109.8h.65M346.4 100.8h.65M338.3 99.4h.65M352.8 107.6h.65M342.4 102.1h.65M347.8 105.5h.65M347.6 102.7h.65M338.3 112.2h.65M339.4 105.9h.65M354.1 98.7h.65M350.0 106.3h.65M344.6 107.1h.65M337.9 97.2h.65M357.7 104.9h.65M351.2 110.4h.65M347.4 107.8h.65M350.1 112.2h.65M348.7 111.0h.65M343.6 104.3h.65M346.0 107.6h.65M349.0 113.7h.65M350.9 106.3h.65M358.3 107.3h.65M347.8 108.0h.65M343.4 101.7h.65M346.4 104.8h.65M340.0 106.5h.65M344.2 103.7h.65M334.1 105.3h.65M356.8 109.5h.65M352.5 105.9h.65M352.3 103.3h.65M342.6 108.1h.65M336.3 106.2h.65M347.4 112.7h.65M341.0 107.7h.65M341.3 103.9h.65M328.2 102.3h.65M352.9 108.1h.65M346.5 115.8h.65M349.0 101.1h.65M344.2 105.8h.65M355.8 102.5h.65M348.2 109.9h.65M340.3 106.4h.65M332.6 106.4h.65M331.4 104.5h.65M356.6 107.6h.65M345.9 106.6h.65M359.4 108.2h.65M352.2 104.3h.65M342.7 101.9h.65M344.4 103.3h.65M351.9 108.6h.65M344.8 103.9h.65M326.9 103.7h.65M347.5 108.6h.65M325.7 96.5h.65M346.5 101.9h.65M344.1 104.1h.65M349.3 98.7h.65M341.9 109.7h.65M346.9 102.7h.65M348.4 107.1h.65M339.8 108.8h.65M349.9 105.5h.65M351.6 101.4h.65M350.5 105.3h.65M339.5 103.7h.65M353.0 103.8h.65M343.3 103.4h.65M340.4 109.8h.65M359.8 111.3h.65M348.8 109.0h.65M343.3 104.1h.65M338.0 111.7h.65M343.4 103.2h.65M341.4 106.8h.65M342.0 106.1h.65M346.6 111.3h.65M337.6 107.2h.65M341.1 104.3h.65M355.9 108.5h.65M343.1 108.0h.65M345.4 110.4h.65M342.4 108.0h.65M344.2 106.1h.65M344.6 103.6h.65M346.2 109.9h.65M341.7 104.5h.65M347.9 103.1h.65M351.1 108.8h.65M330.8 103.5h.65M338.6 109.3h.65M351.6 101.3h.65M341.2 105.7h.65M343.2 108.9h.65M351.8 108.4h.65M352.6 109.7h.65M345.1 104.3h.65M340.8 109.3h.65M351.3 110.1h.65M343.5 104.5h.65M347.3 111.0h.65M347.9 106.9h.65M340.3 107.8h.65M349.0 102.3h.65M356.8 102.4h.65M351.5 105.2h.65M346.6 102.9h.65M342.0 108.8h.65M344.3 104.7h.65M351.3 108.9h.65M346.6 107.0h.65M356.6 105.4h.65M348.1 107.7h.65M336.6 98.4h.65M346.4 109.5h.65M346.9 104.0h.65M341.4 109.3h.65M343.7 99.7h.65M350.0 107.0h.65M348.0 110.2h.65M354.1 108.3h.65M344.5 97.7h.65M347.5 105.5h.65M354.0 111.1h.65M348.6 111.4h.65M345.1 105.9h.65M340.2 104.8h.65M346.9 110.2h.65M340.9 109.2h.65M360.6 100.8h.65M343.9 106.1h.65M352.0 113.9h.65M353.5 105.9h.65M340.1 105.8h.65M345.3 107.0h.65M339.9 112.1h.65M341.0 108.7h.65M347.0 101.7h.65M346.0 106.1h.65M344.4 109.2h.65M342.5 116.1h.65M352.8 102.4h.65M329.6 111.0h.65M347.2 106.4h.65M339.3 100.4h.65M333.6 116.2h.65M355.9 103.9h.65M357.6 98.7h.65M350.0 108.8h.65M340.0 104.2h.65M338.9 106.2h.65M354.0 110.0h.65M348.2 110.5h.65M334.1 114.0h.65M345.2 100.8h.65M343.1 103.4h.65M346.1 107.3h.65M330.5 111.0h.65M356.7 101.9h.65M355.0 111.0h.65M352.1 112.5h.65M336.6 108.9h.65M339.0 115.4h.65M339.3 101.1h.65M352.8 108.5h.65M345.7 106.6h.65M349.5 112.9h.65M340.9 103.8h.65M341.8 105.7h.65M345.6 100.9h.65M347.5 101.0h.65M343.5 105.0h.65M343.9 111.9h.65M356.1 110.3h.65M355.8 104.9h.65M354.6 105.8h.65M347.0 107.1h.65M336.8 103.6h.65M344.5 107.5h.65M344.7 102.6h.65M338.0 106.0h.65M337.8 101.3h.65M344.8 106.7h.65M340.1 98.9h.65M347.4 109.3h.65M342.9 104.5h.65M330.4 109.6h.65M338.4 108.9h.65M341.7 105.4h.65M344.3 98.8h.65M363.4 99.7h.65M346.2 102.8h.65M344.0 111.5h.65M333.4 105.4h.65M348.7 106.5h.65M348.1 103.0h.65M334.8 100.8h.65M342.8 109.0h.65M346.0 112.4h.65M346.2 106.8h.65M346.8 99.1h.65M349.2 101.6h.65M343.0 115.4h.65M337.5 106.5h.65M347.4 106.5h.65M345.5 103.8h.65M358.4 98.0h.65M338.8 111.9h.65M349.1 102.9h.65M339.7 105.0h.65M362.7 108.0h.65M338.8 107.0h.65M341.4 112.0h.65M347.4 111.0h.65M346.5 114.2h.65M348.2 107.1h.65M338.9 104.3h.65M348.0 104.0h.65M361.7 106.0h.65M340.6 110.0h.65M342.1 107.6h.65M344.9 103.1h.65M354.5 106.4h.65M352.6 104.6h.65M336.2 101.0h.65M342.1 105.3h.65M345.9 108.1h.65M337.4 106.9h.65M337.6 103.3h.65M362.2 111.1h.65M343.1 113.2h.65M354.7 109.6h.65M355.0 105.0h.65M344.7 102.6h.65M349.3 101.0h.65M342.2 107.8h.65M342.2 107.4h.65M357.4 102.1h.65M354.6 103.3h.65M339.4 106.9h.65M352.2 103.1h.65M340.8 104.2h.65M340.8 106.8h.65M340.9 105.0h.65M347.8 104.3h.65M353.0 103.3h.65M340.5 114.2h.65M355.3 106.3h.65M350.9 107.4h.65M342.2 108.7h.65M347.5 111.1h.65M333.5 109.2h.65M346.6 103.3h.65M342.7 104.4h.65M336.9 103.7h.65M350.6 99.9h.65M343.1 96.5h.65M341.8 107.6h.65M345.2 106.2h.65M338.2 108.3h.65M339.6 109.6h.65M346.9 104.5h.65M355.2 104.4h.65M352.2 106.4h.65M345.5 110.0h.65M348.3 106.0h.65M344.7 106.8h.65M346.1 104.7h.65M338.8 95.6h.65M344.8 105.0h.65M353.4 107.8h.65M352.9 112.9h.65M344.8 102.6h.65M350.8 103.6h.65M343.9 111.8h.65M349.1 110.4h.65M336.7 106.1h.65M352.8 100.9h.65M346.8 107.6h.65M330.5 112.4h.65M340.9 105.5h.65M356.4 98.9h.65M348.5 104.2h.65M345.8 102.7h.65M354.4 101.5h.65M347.9 108.2h.65M344.9 104.9h.65M343.8 110.1h.65M348.5 105.7h.65M338.4 106.6h.65M349.0 105.9h.65M354.9 98.4h.65M361.7 105.3h.65M338.1 99.0h.65M351.2 108.3h.65M344.1 105.8h.65M346.6 104.3h.65M353.0 108.5h.65M344.7 99.5h.65M354.4 104.1h.65M338.8 111.2h.65M348.8 98.0h.65M334.7 104.4h.65M337.4 105.4h.65M362.5 117.9h.65M345.3 109.2h.65M351.3 105.6h.65M335.9 110.3h.65M344.4 107.8h.65M350.2 102.8h.65M356.5 106.3h.65M347.0 104.3h.65M350.2 110.1h.65M341.9 108.4h.65M342.7 101.1h.65M343.4 108.5h.65M349.2 110.4h.65M341.2 104.8h.65M346.0 108.5h.65M344.8 102.2h.65M335.5 110.8h.65M352.5 103.4h.65M355.2 105.8h.65M348.5 111.1h.65M342.5 102.9h.65M334.3 107.3h.65M348.5 109.5h.65M349.5 106.5h.65M353.1 101.9h.65M348.1 108.1h.65M344.8 113.0h.65M348.5 111.5h.65M351.5 105.3h.65M358.2 110.5h.65M345.7 105.6h.65M338.8 105.5h.65M344.1 106.9h.65M342.8 108.4h.65M345.1 99.7h.65M342.3 102.5h.65M337.3 105.0h.65M351.6 101.6h.65M332.5 105.4h.65M365.1 103.7h.65M347.4 104.4h.65M351.2 111.9h.65M344.6 110.8h.65M338.5 106.9h.65M337.3 106.8h.65M341.6 107.0h.65M338.3 107.0h.65M346.4 103.8h.65M340.4 101.3h.65M343.1 107.7h.65M344.8 106.7h.65M353.9 104.8h.65M347.6 109.4h.65M349.0 107.6h.65M346.2 113.8h.65M345.2 104.5h.65M349.5 112.7h.65M354.9 106.2h.65M351.1 108.1h.65M346.2 108.7h.65M349.7 106.7h.65M356.9 104.6h.65M354.8 114.5h.65M359.5 107.2h.65M344.5 99.7h.65M345.3 115.9h.65M335.4 99.9h.65M351.1 108.6h.65M333.8 105.9h.65M347.9 100.0h.65M351.9 100.8h.65M353.1 106.9h.65M341.1 99.6h.65M343.4 105.7h.65M344.8 103.7h.65M344.3 109.6h.65M339.7 105.3h.65M348.7 106.0h.65M351.3 112.3h.65M343.3 107.0h.65M326.5 104.7h.65M350.0 101.6h.65M354.3 98.5h.65M354.4 104.0h.65M339.0 104.1h.65M343.9 102.0h.65M336.6 104.0h.65M351.8 107.7h.65M354.4 103.6h.65M343.3 104.7h.65M346.6 107.9h.65M357.1 108.9h.65M346.7 111.5h.65M340.5 100.8h.65M350.0 106.7h.65M346.4 109.8h.65M343.4 105.6h.65M348.1 108.7h.65M352.0 106.5h.65M347.3 96.3h.65M353.6 99.8h.65M345.3 116.2h.65M343.5 99.7h.65M356.1 103.8h.65M344.5 105.4h.65M350.4 109.2h.65M344.8 110.5h.65M339.7 108.8h.65M341.5 108.8h.65M341.2 104.3h.65M355.2 101.5h.65M337.9 108.3h.65M343.8 104.3h.65M344.6 114.5h.65M338.8 104.9h.65M346.6 102.3h.65M345.3 108.0h.65M339.6 110.5h.65M338.1 105.4h.65M347.7 118.8h.65M334.1 107.1h.65M361.9 103.6h.65M352.6 106.9h.65M336.2 107.6h.65M339.7 106.4h.65M335.8 108.9h.65M329.8 105.3h.65M353.9 108.1h.65M343.2 105.1h.65M342.7 116.9h.65M345.2 106.0h.65M340.7 104.1h.65M349.5 103.6h.65M340.3 103.8h.65M343.2 106.7h.65M342.4 105.2h.65M340.6 111.0h.65M346.1 104.7h.65M347.4 105.8h.65M335.3 105.3h.65M356.2 108.0h.65M353.2 103.3h.65M335.8 103.2h.65M354.3 102.0h.65M340.3 110.4h.65M343.9 105.2h.65M348.0 106.3h.65M343.5 107.0h.65M340.9 105.8h.65M349.8 101.8h.65M344.1 101.4h.65M350.3 108.5h.65M351.6 110.1h.65M352.2 108.9h.65M340.4 109.7h.65M339.6 115.3h.65M347.4 108.4h.65M337.5 110.3h.65M353.1 99.7h.65M341.9 104.1h.65M341.3 111.5h.65M359.6 101.7h.65M352.3 104.9h.65M354.4 96.2h.65M342.7 110.9h.65M340.5 110.8h.65M342.2 110.5h.65M349.3 104.3h.65M340.5 105.3h.65M353.0 106.0h.65M341.2 119.3h.65M335.2 105.1h.65M349.0 101.8h.65M345.4 104.3h.65M335.8 107.8h.65M338.1 103.0h.65M353.5 101.5h.65M349.4 110.7h.65M351.9 107.9h.65M343.9 100.4h.65M346.4 107.8h.65M342.1 102.0h.65M351.1 101.7h.65M348.3 104.0h.65M334.5 112.4h.65M349.4 108.1h.65M336.2 105.4h.65M347.2 103.0h.65M356.1 97.8h.65M350.0 98.4h.65M335.2 100.8h.65M349.1 103.0h.65M341.0 102.3h.65M335.7 102.3h.65M338.9 104.6h.65M342.8 96.2h.65M341.0 110.7h.65M342.1 105.5h.65M340.5 103.0h.65M344.6 100.3h.65M344.0 99.1h.65M347.2 99.4h.65M349.3 109.7h.65M334.4 108.4h.65M342.3 110.3h.65M341.5 104.5h.65M343.0 110.7h.65M332.3 108.7h.65M345.5 103.7h.65M343.3 109.3h.65M350.2 112.4h.65M340.7 98.0h.65M341.2 104.8h.65M342.0 110.5h.65M359.7 107.1h.65M333.2 109.7h.65M340.6 105.8h.65M350.3 107.1h.65M344.4 106.7h.65M349.7 108.1h.65M358.3 93.6h.65M339.7 103.2h.65M350.2 106.5h.65M350.3 99.9h.65M343.4 108.2h.65M344.5 104.0h.65M346.6 112.2h.65M331.1 111.9h.65M346.6 102.1h.65M349.1 105.7h.65M352.7 102.3h.65M351.1 101.9h.65M346.9 108.4h.65M344.3 108.1h.65M340.9 109.8h.65M341.5 102.8h.65M344.0 105.4h.65M339.4 108.8h.65M344.0 108.0h.65M335.1 100.3h.65M343.1 101.6h.65M343.9 107.8h.65M352.1 111.5h.65M349.9 102.7h.65M348.4 103.5h.65M348.3 101.4h.65M353.6 107.2h.65M343.0 100.1h.65M346.6 103.5h.65M346.5 102.7h.65M341.3 108.1h.65M354.4 100.5h.65M343.6 107.1h.65M343.8 103.8h.65M358.9 102.2h.65M347.2 103.6h.65M344.2 96.4h.65M350.6 104.7h.65M338.6 112.2h.65M343.0 103.1h.65M339.3 109.9h.65M345.0 104.4h.65M336.2 102.0h.65M347.1 105.5h.65M331.8 102.1h.65M346.3 116.3h.65M339.9 96.7h.65M349.8 103.7h.65M336.3 107.8h.65M343.3 101.7h.65M336.3 105.1h.65M345.4 98.5h.65M351.2 100.5h.65M353.9 106.9h.65M343.6 106.9h.65M341.0 105.3h.65M355.5 103.3h.65M350.2 102.0h.65M344.7 109.5h.65M337.0 106.9h.65M330.9 101.0h.65M342.1 109.1h.65M349.5 101.9h.65M344.0 106.3h.65M334.7 107.3h.65M353.6 110.6h.65M341.0 104.0h.65M338.8 103.6h.65M343.2 108.3h.65M345.4 101.9h.65M350.2 109.1h.65M340.9 104.6h.65M344.2 99.0h.65M345.7 108.3h.65M357.5 106.4h.65M343.0 105.0h.65M348.8 108.8h.65M339.3 106.4h.65M349.1 97.6h.65M353.8 104.8h.65M350.5 105.4h.65M343.3 105.3h.65M346.7 109.1h.65M343.2 101.1h.65M340.3 101.7h.65M349.8 101.8h.65M354.8 106.1h.65M344.3 110.9h.65M342.5 104.5h.65M350.0 108.6h.65M338.4 115.5h.65M348.6 100.6h.65M343.8 109.4h.65M346.4 109.1h.65M360.3 109.4h.65M358.0 108.4h.65M340.6 111.7h.65M340.4 109.5h.65M349.2 102.3h.65M340.4 105.0h.65M347.6 111.0h.65M345.5 113.3h.65M350.8 103.2h.65M341.1 106.1h.65M341.8 105.4h.65M350.2 106.8h.65M351.5 103.1h.65M339.6 100.2h.65M333.6 104.0h.65M345.7 105.0h.65M345.3 114.0h.65M338.2 104.8h.65M342.1 102.2h.65M354.1 105.7h.65M353.4 101.4h.65M357.5 114.9h.65M339.6 105.8h.65M344.5 108.1h.65M336.9 107.8h.65M350.0 103.5h.65M330.6 103.2h.65M342.8 109.0h.65M341.3 101.3h.65M349.4 107.4h.65M350.1 106.1h.65M352.2 108.0h.65M333.8 106.7h.65M350.4 106.1h.65M354.9 104.1h.65M349.9 101.0h.65M345.4 103.7h.65M338.9 100.7h.65M346.8 107.6h.65M341.3 101.0h.65M339.7 109.0h.65M337.6 110.5h.65M334.5 107.0h.65M349.7 110.8h.65M342.6 102.9h.65M336.1 109.6h.65M344.6 104.1h.65M342.7 107.0h.65M345.6 110.7h.65M331.4 109.3h.65M342.0 105.6h.65M343.4 105.6h.65M350.3 106.8h.65M336.0 105.7h.65M344.8 107.4h.65M345.7 105.6h.65M352.1 101.6h.65M359.6 103.7h.65M338.7 109.1h.65M352.4 111.0h.65M354.9 107.9h.65M345.9 107.5h.65M345.4 103.8h.65M355.9 113.3h.65M345.5 105.1h.65M342.3 99.3h.65M341.1 103.9h.65M345.4 102.0h.65M333.1 108.6h.65M356.7 97.5h.65M344.6 109.4h.65M337.9 100.3h.65M345.7 105.1h.65M341.4 112.6h.65M355.3 108.6h.65M345.1 104.7h.65M351.3 105.1h.65M355.2 111.0h.65M341.7 109.1h.65M355.8 108.7h.65M339.5 105.0h.65M343.4 106.6h.65M345.9 104.7h.65M351.3 111.5h.65M342.1 100.2h.65M348.2 106.2h.65M348.5 103.4h.65M347.7 102.5h.65M352.9 112.9h.65M339.8 95.8h.65M342.7 104.1h.65M347.1 106.3h.65M349.1 117.1h.65M342.3 104.8h.65M348.7 98.9h.65M351.0 103.8h.65M336.6 102.9h.65M349.2 109.7h.65M354.1 108.0h.65M341.3 108.5h.65M345.5 115.7h.65M332.6 112.8h.65M351.0 108.0h.65M345.4 104.1h.65M339.8 100.1h.65M359.3 110.1h.65M350.5 107.8h.65M333.6 105.3h.65M346.9 111.0h.65M339.6 107.5h.65M344.6 106.5h.65M341.1 107.8h.65M346.7 98.9h.65M354.1 115.2h.65M340.5 111.0h.65M339.8 104.3h.65M357.6 107.2h.65M356.1 107.6h.65M352.8 105.8h.65M355.6 113.6h.65M350.7 104.2h.65M343.9 102.7h.65M350.2 108.6h.65M341.8 110.2h.65M342.6 113.8h.65M351.7 112.9h.65M341.7 102.5h.65M334.5 109.1h.65M339.0 111.9h.65M347.3 109.6h.65M338.0 104.2h.65M347.6 109.5h.65M338.0 107.9h.65M341.0 109.8h.65M344.9 105.4h.65M349.2 111.2h.65M344.8 111.5h.65M339.9 107.7h.65M339.1 107.4h.65M340.5 106.7h.65M350.4 102.7h.65M335.0 105.9h.65M349.8 107.5h.65M340.5 109.9h.65M344.5 109.6h.65M340.7 108.3h.65M354.0 103.9h.65M344.5 109.0h.65M349.8 107.9h.65M345.6 100.3h.65M346.3 101.4h.65M346.9 97.2h.65M355.6 114.1h.65M349.2 103.1h.65M344.4 110.0h.65M350.6 103.7h.65M354.1 109.4h.65M349.8 105.1h.65M346.3 103.7h.65M347.5 103.9h.65M353.9 106.6h.65M347.7 107.8h.65M348.4 100.8h.65M354.5 106.9h.65M342.7 102.6h.65M341.9 104.0h.65M346.4 103.1h.65M347.0 107.0h.65M341.8 115.2h.65M345.5 107.8h.65M347.0 105.8h.65M350.6 111.9h.65M345.8 103.0h.65M349.7 97.9h.65M347.2 105.7h.65M348.3 100.4h.65M343.4 102.3h.65M342.7 108.7h.65M344.9 104.0h.65M353.7 106.4h.65M333.0 102.2h.65M348.7 108.1h.65M347.4 107.3h.65M340.2 105.9h.65M338.3 103.0h.65M340.1 102.9h.65M343.7 105.3h.65M340.7 110.5h.65M342.9 112.3h.65M352.2 101.4h.65M351.5 100.6h.65M355.0 107.4h.65M339.4 97.5h.65M343.1 100.8h.65M352.7 101.2h.65M344.1 108.0h.65M345.7 107.1h.65M344.0 108.9h.65M339.6 108.3h.65M337.8 106.7h.65M338.2 105.2h.65M349.3 110.9h.65M334.0 103.0h.65M339.2 110.8h.65M339.9 108.8h.65M342.2 100.3h.65M346.2 101.5h.65M350.1 109.2h.65M354.0 102.0h.65M355.5 109.8h.65M334.0 114.7h.65M356.2 101.9h.65M347.5 100.7h.65M344.6 106.7h.65M349.4 102.7h.65M345.3 102.3h.65M347.9 108.6h.65M345.9 110.5h.65M350.3 107.4h.65M352.9 101.0h.65M345.2 98.9h.65M345.3 104.1h.65M350.7 104.2h.65M341.3 105.6h.65M344.6 108.0h.65M339.8 100.0h.65M335.2 110.5h.65M337.3 104.1h.65M338.3 109.4h.65M341.8 110.8h.65M340.9 107.1h.65M350.3 109.8h.65M337.8 104.5h.65M344.9 98.7h.65M350.0 107.5h.65M348.7 100.5h.65M346.6 107.7h.65M352.1 103.9h.65M349.8 113.7h.65M342.7 104.3h.65M343.4 100.1h.65M343.1 112.4h.65M339.5 105.2h.65M353.2 108.2h.65M346.9 104.7h.65M344.7 106.0h.65M349.9 106.3h.65M351.5 98.6h.65M350.8 103.9h.65M345.6 104.3h.65M349.6 105.5h.65M349.5 102.8h.65M346.7 110.9h.65M352.7 104.6h.65M346.4 104.5h.65M344.7 106.1h.65M353.3 108.3h.65M354.9 112.1h.65M337.4 107.2h.65M342.7 99.6h.65M338.6 104.0h.65M356.2 106.4h.65M344.3 105.9h.65M340.7 106.7h.65M344.9 99.6h.65M342.1 119.2h.65M349.6 105.6h.65M349.8 102.2h.65M346.1 109.5h.65M335.3 103.1h.65M343.0 104.9h.65M342.3 107.1h.65M352.0 107.4h.65M352.1 110.1h.65M341.7 107.1h.65M343.2 108.6h.65M343.3 105.3h.65M356.4 105.3h.65M335.6 106.5h.65M347.4 104.1h.65M346.0 110.0h.65M342.3 105.3h.65M341.1 107.3h.65M344.8 102.4h.65M344.6 113.2h.65M334.7 100.6h.65M347.7 100.6h.65M358.0 100.2h.65M337.3 104.0h.65M352.4 109.2h.65M349.2 107.2h.65M353.8 98.9h.65M347.3 111.6h.65M338.8 107.3h.65M353.4 110.9h.65M344.7 113.3h.65M348.8 110.2h.65M338.8 103.1h.65M340.8 113.0h.65M330.8 98.9h.65M350.7 106.6h.65M326.8 104.5h.65M343.7 110.8h.65M333.5 104.0h.65M352.3 109.0h.65M339.8 104.9h.65M336.3 111.4h.65M342.9 111.0h.65M350.7 102.6h.65M344.7 108.6h.65M348.4 112.0h.65M352.7 107.3h.65M350.0 103.3h.65M341.9 108.4h.65M347.8 101.8h.65M345.1 103.0h.65M342.1 111.1h.65M339.7 103.6h.65M349.2 106.4h.65M346.7 100.5h.65M345.5 104.7h.65M340.6 103.9h.65M343.8 109.4h.65M357.5 106.5h.65M355.0 106.6h.65M336.4 106.4h.65M353.8 111.6h.65M340.2 114.8h.65M341.1 103.3h.65M342.4 111.8h.65M348.3 109.7h.65M331.8 105.9h.65M345.0 108.9h.65M342.8 110.8h.65M341.4 100.8h.65M335.4 111.1h.65M350.5 103.1h.65M352.7 105.5h.65M345.0 100.5h.65M342.3 106.6h.65M347.1 104.0h.65M352.0 111.7h.65M340.7 107.7h.65M336.2 107.8h.65M339.7 105.6h.65M346.9 105.2h.65M352.4 103.2h.65M342.9 107.4h.65M345.6 107.2h.65M344.5 103.1h.65M350.0 106.5h.65M351.5 111.3h.65M343.6 103.3h.65M343.0 103.7h.65M333.4 112.5h.65M348.4 115.2h.65M342.3 108.5h.65M347.6 105.9h.65M352.0 106.2h.65M345.4 106.8h.65M331.9 103.5h.65M341.2 112.6h.65M349.5 109.2h.65M349.8 105.5h.65M356.2 105.4h.65M337.0 108.7h.65M353.3 106.6h.65M348.2 109.9h.65M355.5 108.5h.65M356.4 107.4h.65M359.0 100.9h.65M351.8 107.3h.65M346.6 101.3h.65M352.6 105.5h.65M339.7 103.8h.65M344.4 106.6h.65M340.2 102.7h.65M348.5 106.0h.65M358.2 104.6h.65M350.6 113.0h.65M344.7 110.0h.65M347.8 106.5h.65M355.9 102.4h.65M342.1 99.4h.65M345.1 110.0h.65M344.3 109.4h.65M341.2 110.6h.65M345.2 104.4h.65M356.1 106.2h.65M349.5 106.7h.65M350.3 106.7h.65M338.4 107.3h.65M348.9 107.7h.65M344.5 113.2h.65M341.3 106.7h.65M347.2 102.1h.65M338.5 108.8h.65M350.1 106.8h.65M335.9 105.1h.65M347.4 108.6h.65M353.3 108.0h.65M351.9 112.6h.65M331.3 110.0h.65M343.2 108.1h.65M347.2 102.3h.65M340.2 107.9h.65M344.8 109.0h.65M343.5 114.5h.65M344.3 114.2h.65M341.1 108.4h.65M352.9 101.2h.65M339.8 107.8h.65M353.0 111.5h.65M349.3 110.2h.65M338.6 104.6h.65M354.9 104.1h.65M344.4 99.6h.65M344.7 100.1h.65M348.1 111.8h.65M347.8 106.9h.65M343.3 108.3h.65M338.9 104.4h.65M359.3 101.2h.65M342.3 100.8h.65M353.5 105.3h.65M337.9 101.4h.65M352.7 108.8h.65M350.8 105.9h.65M351.4 111.2h.65M349.9 100.0h.65M333.5 100.6h.65M347.4 100.4h.65M339.0 106.3h.65M340.2 101.2h.65M351.7 108.0h.65M350.6 109.6h.65M354.7 105.9h.65M344.5 99.3h.65M344.1 103.8h.65M352.1 108.6h.65M354.8 110.2h.65M353.0 108.1h.65M346.5 104.6h.65M345.5 102.4h.65M348.0 105.7h.65M332.9 95.7h.65M341.0 104.2h.65M343.6 111.0h.65M341.6 101.1h.65M347.9 109.8h.65M355.8 102.1h.65M343.9 104.4h.65M354.9 108.7h.65M345.6 108.8h.65M343.3 105.2h.65M345.3 104.1h.65M343.9 107.3h.65M347.0 111.7h.65M350.8 105.7h.65M331.8 100.3h.65M342.3 104.5h.65M337.3 104.5h.65M346.1 103.5h.65M344.5 105.6h.65M341.0 102.6h.65M344.6 106.9h.65M338.9 98.1h.65M339.4 107.8h.65M335.3 109.4h.65M341.7 106.4h.65M340.5 108.1h.65M345.6 107.3h.65M333.2 108.6h.65M334.9 104.6h.65M348.5 105.1h.65M348.4 106.5h.65M345.9 102.8h.65M351.5 110.1h.65M342.0 102.5h.65M346.5 103.0h.65M346.1 109.0h.65M349.4 111.5h.65M348.1 101.9h.65M340.0 107.9h.65M357.0 104.5h.65M339.6 111.2h.65M344.5 108.5h.65M351.9 102.1h.65M343.1 103.8h.65M348.5 108.3h.65M342.2 108.0h.65M334.3 107.2h.65M347.4 105.9h.65M336.4 105.5h.65M338.7 111.3h.65M343.5 105.1h.65M344.6 107.9h.65M345.7 107.9h.65M339.6 110.0h.65M342.2 108.7h.65M346.7 109.9h.65M344.8 100.3h.65M338.2 105.0h.65M353.7 104.3h.65M345.6 110.6h.65M341.8 107.0h.65M347.0 103.6h.65M346.7 109.8h.65M351.7 104.6h.65M363.0 107.2h.65M343.6 103.1h.65M339.2 108.9h.65M327.6 105.3h.65M336.9 105.2h.65M345.0 100.9h.65M339.2 110.6h.65M341.9 105.8h.65M343.3 109.0h.65M352.7 109.3h.65M348.6 108.0h.65M338.0 110.8h.65M341.8 102.5h.65M343.0 102.9h.65M347.8 108.6h.65M353.1 105.5h.65M341.6 104.8h.65M338.1 103.1h.65M357.4 103.0h.65M342.4 108.2h.65M346.8 108.7h.65M340.0 101.8h.65M353.3 103.3h.65M344.7 106.6h.65M334.0 105.1h.65M341.3 107.8h.65M343.4 97.4h.65M350.1 96.2h.65M342.7 103.2h.65M341.5 105.8h.65M351.1 102.6h.65M341.5 108.6h.65M348.3 108.5h.65M347.3 104.9h.65M342.3 104.1h.65M350.8 111.5h.65M357.3 101.9h.65M343.8 105.9h.65M344.2 101.6h.65M358.6 111.5h.65M344.3 104.1h.65M345.2 101.3h.65M343.2 108.8h.65M355.4 109.2h.65M353.2 101.9h.65M325.4 111.0h.65M346.4 105.5h.65M355.5 102.2h.65M339.4 103.0h.65M355.2 109.4h.65M334.3 112.1h.65M345.4 107.5h.65M340.5 113.0h.65M348.0 110.8h.65M339.1 108.5h.65M345.8 105.0h.65M340.3 103.2h.65M338.1 103.3h.65M345.1 108.1h.65M335.6 101.9h.65M341.5 99.6h.65M343.5 104.8h.65M344.1 107.4h.65M351.1 108.9h.65M347.0 108.1h.65M340.3 102.3h.65M349.2 108.0h.65M358.8 105.0h.65M339.2 107.0h.65M342.5 102.5h.65M353.7 113.2h.65M347.6 103.4h.65M346.8 105.6h.65M336.7 109.0h.65M347.4 110.6h.65M341.8 105.8h.65M344.6 99.3h.65M360.8 97.9h.65M338.2 104.5h.65M335.6 107.5h.65M342.4 106.2h.65M346.7 106.2h.65M345.9 105.3h.65M348.0 109.0h.65M343.7 104.2h.65M342.8 107.1h.65M343.1 104.4h.65M336.0 113.3h.65M337.7 112.3h.65M350.3 109.8h.65M347.0 107.8h.65M347.2 108.2h.65M350.6 111.8h.65M339.2 107.8h.65M355.5 111.3h.65M339.1 107.2h.65M347.2 106.9h.65M331.4 109.3h.65M335.4 114.4h.65M349.6 105.6h.65M349.5 106.6h.65M342.2 105.7h.65M347.7 102.9h.65M350.0 110.3h.65M352.3 110.6h.65M353.7 108.8h.65M353.8 106.3h.65M348.2 111.5h.65M357.8 104.7h.65M336.5 114.4h.65M352.9 113.1h.65M351.3 107.0h.65M341.6 102.4h.65M354.8 109.9h.65M347.6 101.8h.65M342.3 103.7h.65M343.7 94.9h.65M347.1 112.1h.65M342.2 106.2h.65M347.4 102.2h.65M348.3 102.9h.65M342.9 107.1h.65M345.3 106.5h.65M339.8 108.9h.65M338.8 109.4h.65M342.6 101.5h.65M345.1 102.0h.65M342.3 105.5h.65M350.6 109.2h.65M348.7 105.0h.65M336.0 105.2h.65M343.6 105.6h.65M342.3 104.0h.65M350.7 100.9h.65M345.7 111.0h.65M340.8 102.2h.65M344.2 104.7h.65M347.3 111.4h.65M344.8 108.3h.65M342.0 104.2h.65M347.5 103.5h.65M353.2 104.5h.65M344.6 102.0h.65M342.9 102.2h.65M342.5 99.1h.65M345.6 112.9h.65M333.7 112.9h.65M344.9 109.5h.65M339.2 114.0h.65M338.8 105.8h.65M355.5 101.1h.65M330.7 105.8h.65M340.7 102.2h.65M339.8 100.3h.65M354.5 110.9h.65M336.9 105.6h.65M342.7 110.4h.65M340.2 112.4h.65M345.6 103.0h.65M345.0 103.8h.65M360.1 106.6h.65M342.5 106.4h.65M355.0 102.2h.65M334.8 111.2h.65M349.5 104.3h.65M345.1 110.4h.65M328.0 111.1h.65M344.4 108.7h.65M345.2 118.3h.65M341.6 110.4h.65M328.7 106.2h.65M350.6 99.9h.65M332.4 106.4h.65M352.1 110.7h.65M341.1 107.4h.65M336.4 113.0h.65M341.8 111.1h.65M343.8 104.7h.65M356.0 102.5h.65M353.9 104.6h.65M339.8 102.7h.65M352.8 105.7h.65M343.2 100.0h.65M353.1 110.2h.65M347.6 109.1h.65M324.4 103.9h.65M346.6 106.4h.65M341.8 107.0h.65M340.8 103.4h.65M337.4 106.6h.65M340.8 104.0h.65M354.5 105.8h.65M345.3 99.9h.65M342.1 109.9h.65M349.1 106.2h.65M344.4 106.3h.65M348.1 104.7h.65M329.3 113.9h.65M352.9 105.4h.65M354.7 100.8h.65M353.9 106.8h.65M351.3 104.6h.65M346.5 108.3h.65M352.3 108.1h.65M348.4 103.6h.65M356.7 106.8h.65M344.0 104.7h.65M337.7 103.0h.65M335.6 106.8h.65M345.0 106.9h.65M337.4 104.3h.65M341.3 110.0h.65M335.8 99.9h.65M353.8 107.4h.65M335.3 111.4h.65M355.2 110.6h.65M332.1 106.5h.65M339.9 104.9h.65M335.2 112.9h.65M341.0 107.1h.65M350.7 108.4h.65M348.2 104.4h.65M346.9 105.1h.65M330.7 110.0h.65M341.4 103.9h.65M342.8 100.4h.65M337.6 98.8h.65M348.5 110.7h.65M346.0 101.4h.65M354.0 104.7h.65M335.1 98.5h.65M346.7 111.8h.65M343.0 103.4h.65M343.7 102.6h.65M341.9 107.0h.65M340.8 109.7h.65M339.1 108.8h.65M347.7 104.4h.65M343.5 104.7h.65M356.4 102.7h.65M353.2 110.0h.65M343.3 112.4h.65M330.0 107.0h.65M346.3 106.1h.65M350.9 104.4h.65M344.2 110.6h.65M344.7 101.8h.65M349.2 105.6h.65M341.8 108.2h.65M340.4 102.0h.65M343.8 105.2h.65M345.8 101.2h.65M356.6 108.7h.65M346.4 106.9h.65M329.2 109.7h.65M338.8 108.0h.65M337.7 109.9h.65M342.0 105.1h.65M355.4 109.9h.65M336.5 103.2h.65M346.7 105.0h.65M350.7 103.2h.65M333.3 102.3h.65M344.3 108.2h.65M350.3 111.0h.65M347.0 105.2h.65M350.2 105.6h.65M342.4 104.1h.65M351.5 111.9h.65M354.0 99.6h.65M352.6 101.5h.65M343.2 108.3h.65M336.8 101.1h.65M340.6 112.7h.65M352.5 102.4h.65M346.4 106.5h.65M347.5 103.1h.65M354.8 104.5h.65M350.8 99.2h.65M348.0 106.6h.65M354.3 95.6h.65M349.1 109.2h.65M343.7 111.2h.65M359.1 109.5h.65M350.7 111.4h.65M348.3 110.9h.65M349.4 103.2h.65M338.6 110.7h.65M349.4 103.3h.65M345.6 111.8h.65M334.3 102.4h.65M350.0 109.3h.65M337.9 102.0h.65M346.6 111.6h.65M345.6 96.7h.65M352.2 105.9h.65M342.5 101.3h.65M353.2 107.1h.65M348.1 107.4h.65M348.3 109.3h.65M356.6 101.7h.65M345.0 104.2h.65M356.4 104.8h.65M335.0 105.9h.65M340.7 103.0h.65M342.6 100.7h.65M332.9 113.8h.65M344.6 102.2h.65M349.5 111.3h.65M334.1 104.2h.65M347.3 102.6h.65M348.4 101.0h.65M341.1 105.5h.65M348.3 106.1h.65M341.0 104.5h.65M331.7 114.5h.65M342.8 104.8h.65M347.2 108.3h.65M347.7 103.3h.65M334.7 105.3h.65M340.3 103.8h.65M345.4 106.9h.65M353.9 105.4h.65M334.2 108.3h.65M351.5 99.4h.65M349.4 106.7h.65M341.9 106.7h.65M348.0 108.3h.65M352.9 105.9h.65M345.4 115.6h.65M338.5 104.9h.65M343.1 109.0h.65M352.7 100.7h.65M353.5 101.2h.65M362.4 103.3h.65M352.6 104.9h.65M350.1 103.0h.65M346.3 106.1h.65M346.1 109.2h.65M342.6 104.7h.65M336.9 105.4h.65M342.3 109.5h.65M349.8 103.1h.65M348.3 111.2h.65M344.1 101.3h.65M361.5 108.2h.65M350.0 116.0h.65M340.3 107.2h.65M333.1 107.9h.65M348.0 102.8h.65M339.9 105.3h.65M344.0 112.3h.65M343.9 105.3h.65M344.3 99.6h.65M342.3 100.6h.65M346.3 97.2h.65M338.1 107.0h.65M331.8 99.7h.65M351.9 100.6h.65M345.4 107.2h.65M338.5 99.2h.65M355.4 103.7h.65M348.8 102.9h.65M347.8 100.7h.65M336.5 101.8h.65M341.4 103.4h.65M343.3 107.7h.65M342.0 109.7h.65M341.1 108.6h.65M354.0 112.9h.65M332.5 112.9h.65M334.0 111.6h.65M345.4 107.4h.65M339.3 109.7h.65M349.9 103.8h.65M341.4 109.4h.65M352.2 109.0h.65M343.0 106.0h.65M351.6 109.3h.65M352.8 106.5h.65M340.9 107.1h.65M348.4 103.8h.65M348.4 102.6h.65M347.1 103.6h.65M359.2 110.7h.65M347.2 100.7h.65M337.5 108.8h.65M344.5 107.2h.65M335.2 100.0h.65M346.2 105.1h.65M336.8 102.8h.65M350.6 104.2h.65M349.2 112.6h.65M347.7 106.5h.65M341.6 110.8h.65M336.1 101.6h.65M345.3 100.1h.65M351.8 103.5h.65M348.9 104.7h.65M343.8 106.0h.65M332.7 101.6h.65M342.4 114.9h.65M350.7 108.9h.65M338.7 109.5h.65M353.6 109.0h.65M362.5 100.6h.65M338.5 104.9h.65M339.1 106.2h.65M348.8 105.9h.65M346.1 107.6h.65M350.5 103.3h.65M341.1 110.7h.65M343.2 102.6h.65M347.3 104.6h.65M346.2 105.7h.65M349.5 109.6h.65M340.0 101.1h.65M355.8 103.2h.65M335.3 98.4h.65M345.2 103.4h.65M333.5 102.2h.65M338.5 109.9h.65M346.9 105.9h.65M337.2 105.2h.65M349.7 106.6h.65M352.3 106.3h.65M349.9 107.8h.65M341.7 111.3h.65M347.8 109.2h.65M338.5 101.6h.65M344.2 102.7h.65M349.4 107.6h.65M353.4 108.3h.65M338.1 109.7h.65M341.2 103.0h.65M345.8 105.9h.65M352.1 117.2h.65M348.2 111.8h.65M344.0 107.3h.65M342.0 104.2h.65M354.1 107.7h.65M348.3 102.7h.65M356.5 105.2h.65M341.2 105.9h.65M349.8 108.9h.65M354.9 101.7h.65M342.6 112.2h.65M360.2 103.4h.65M344.8 99.8h.65M340.1 102.4h.65M344.7 101.2h.65M351.4 105.7h.65M343.8 109.6h.65M343.7 101.0h.65M345.6 114.6h.65M346.1 108.0h.65M344.1 105.1h.65M348.7 95.4h.65M337.4 103.6h.65M343.7 111.7h.65M361.3 108.5h.65M348.0 108.7h.65M355.2 102.0h.65M342.2 106.6h.65M347.3 98.4h.65M348.2 99.6h.65M350.4 109.3h.65M330.8 108.0h.65M346.7 103.5h.65M351.6 113.9h.65M348.6 101.6h.65M336.1 101.3h.65M338.8 110.4h.65M347.3 105.8h.65M351.1 106.0h.65M345.6 102.6h.65M341.4 106.1h.65M337.8 112.6h.65M346.2 103.8h.65M351.7 101.7h.65M352.3 106.3h.65M357.6 103.7h.65M342.8 102.6h.65M337.3 106.9h.65M338.5 107.2h.65M341.3 110.1h.65M328.9 107.6h.65M345.7 105.9h.65M341.3 112.9h.65M342.7 107.6h.65M343.7 104.5h.65M346.0 108.6h.65M338.1 104.1h.65M336.3 107.5h.65M339.8 103.0h.65M349.6 105.9h.65M348.0 105.4h.65M348.0 106.3h.65M338.1 106.8h.65M343.1 105.0h.65M347.2 103.7h.65M338.5 110.6h.65M357.3 104.5h.65M352.8 107.5h.65M341.2 102.6h.65M343.5 104.2h.65M343.2 105.4h.65M338.0 109.4h.65M338.0 101.7h.65M351.4 109.0h.65M354.8 106.5h.65M341.2 110.5h.65M344.7 105.4h.65M339.9 107.5h.65M330.0 108.0h.65M332.4 109.4h.65M335.3 108.6h.65M361.4 104.8h.65M337.8 113.7h.65M342.5 101.5h.65M353.5 94.6h.65M335.7 100.7h.65M340.9 97.8h.65M350.7 110.0h.65M345.0 104.3h.65M335.2 107.8h.65M340.8 108.4h.65M352.0 106.1h.65M331.6 102.2h.65M354.2 107.0h.65M354.6 97.0h.65M344.6 105.2h.65M334.8 103.3h.65M351.7 108.1h.65M341.9 107.2h.65M353.1 101.6h.65M347.3 110.1h.65M340.9 111.1h.65M344.8 110.4h.65M351.4 107.0h.65M343.5 103.3h.65M346.5 106.8h.65M354.5 105.6h.65M347.7 112.7h.65M347.5 107.8h.65M355.9 106.3h.65M348.0 109.0h.65M344.6 101.5h.65M335.9 105.1h.65M352.7 109.9h.65M356.0 109.6h.65M341.2 100.1h.65M342.0 104.9h.65M340.6 109.6h.65M340.3 108.3h.65M350.5 99.0h.65M342.7 111.0h.65M350.9 106.4h.65M338.2 103.1h.65M346.0 111.0h.65M348.6 105.6h.65M346.9 109.0h.65M334.0 102.0h.65M345.6 110.8h.65M352.4 102.8h.65M345.5 103.0h.65M342.9 106.5h.65M343.0 103.7h.65M337.8 99.6h.65M344.1 106.7h.65M349.4 102.7h.65M340.7 111.0h.65M348.1 109.5h.65M341.7 103.1h.65M337.9 109.9h.65M338.0 99.0h.65M340.5 111.0h.65M345.6 106.9h.65M346.1 105.7h.65M344.3 100.3h.65M356.2 105.3h.65M353.2 99.7h.65M348.9 101.2h.65M337.0 107.0h.65M352.1 111.4h.65M354.0 104.8h.65M350.5 103.5h.65M341.9 106.9h.65M344.6 109.3h.65M333.5 110.5h.65M341.6 111.8h.65M352.8 101.3h.65M345.1 108.6h.65M340.2 103.0h.65M343.4 108.9h.65M351.3 104.2h.65M350.8 111.8h.65M351.3 103.0h.65M339.9 107.1h.65M350.7 107.6h.65M342.9 102.2h.65M353.6 105.3h.65M357.5 101.4h.65M343.3 103.4h.65M357.3 110.9h.65M342.2 98.3h.65M352.9 106.5h.65M338.1 100.0h.65M348.0 105.1h.65M346.4 107.5h.65M343.0 104.9h.65M349.7 105.5h.65M343.7 108.5h.65M332.7 110.9h.65M348.3 102.9h.65M344.3 110.9h.65M349.0 98.9h.65M338.9 106.7h.65M357.0 109.0h.65M344.2 108.3h.65M345.6 104.8h.65M347.9 97.5h.65M352.0 108.1h.65M342.7 102.6h.65M337.7 107.1h.65M346.5 106.7h.65M356.5 97.3h.65M340.8 102.9h.65M351.6 105.0h.65M339.4 106.8h.65M348.1 112.4h.65M347.1 104.3h.65M342.3 102.8h.65M348.7 109.2h.65M344.0 105.5h.65M354.4 106.4h.65M348.7 101.7h.65M341.6 97.5h.65M336.7 107.5h.65M353.5 104.9h.65M337.8 106.4h.65M352.9 105.4h.65M351.4 105.8h.65M337.6 102.4h.65M343.9 115.1h.65M349.3 105.1h.65M347.4 106.8h.65M342.7 105.6h.65M343.9 108.9h.65M355.6 111.3h.65M343.5 108.2h.65M340.8 101.7h.65M346.0 108.4h.65M345.1 109.3h.65M350.9 109.0h.65M344.5 100.6h.65M357.1 104.1h.65M350.2 107.9h.65M343.3 113.3h.65M349.9 106.0h.65M342.8 102.2h.65M337.4 108.3h.65M342.7 104.2h.65M348.8 104.6h.65M349.7 103.5h.65M342.2 109.6h.65M341.1 108.4h.65M348.8 106.0h.65M334.9 100.8h.65M338.5 100.9h.65M351.1 102.6h.65M337.5 104.0h.65M344.9 99.4h.65M349.4 108.9h.65M341.7 109.2h.65M335.5 103.8h.65M344.5 106.3h.65M352.9 104.7h.65M339.0 106.8h.65M346.5 107.8h.65M343.4 106.7h.65M341.8 108.2h.65M341.3 103.6h.65M353.0 103.0h.65M345.5 108.2h.65M343.5 109.6h.65M341.8 110.0h.65M335.5 100.7h.65M345.9 111.6h.65M355.8 102.6h.65M345.3 104.1h.65M331.8 108.8h.65M343.1 111.4h.65M347.3 103.9h.65M341.1 105.3h.65M348.4 104.1h.65M363.4 106.8h.65M338.2 106.3h.65M352.8 107.7h.65M343.4 103.4h.65M340.4 101.3h.65M342.2 107.0h.65M341.9 112.4h.65M347.9 104.2h.65M345.3 111.8h.65M334.6 106.9h.65M362.6 109.9h.65M339.7 106.5h.65M344.0 116.9h.65M341.2 104.9h.65M343.4 100.4h.65M324.4 105.1h.65M348.8 104.3h.65M348.6 109.0h.65M349.9 99.3h.65M355.1 109.4h.65M350.6 106.0h.65M345.5 103.9h.65M348.2 109.6h.65M341.8 109.2h.65M342.5 108.3h.65M344.6 109.4h.65M357.8 106.9h.65M342.3 104.3h.65M349.5 104.0h.65M351.8 107.2h.65M351.3 103.8h.65M339.4 103.1h.65M348.0 102.9h.65M349.9 97.9h.65M341.2 105.4h.65M333.8 103.6h.65M335.9 105.7h.65M344.0 108.9h.65M340.1 99.6h.65M342.0 106.5h.65M346.1 106.7h.65M353.3 104.6h.65M344.2 102.7h.65M341.7 110.1h.65M347.8 95.7h.65M353.2 98.2h.65M342.9 109.8h.65M346.4 108.2h.65M351.1 107.2h.65M337.5 107.5h.65M341.1 96.5h.65M343.7 108.2h.65M346.3 106.1h.65M356.7 107.1h.65M351.4 107.3h.65M356.1 104.6h.65M353.1 113.2h.65M343.2 110.2h.65M336.9 107.3h.65M350.3 102.8h.65M334.1 106.2h.65M343.5 106.8h.65M347.5 109.3h.65M355.6 107.8h.65M335.8 108.7h.65M348.1 106.6h.65M355.8 107.1h.65M343.3 107.9h.65M335.4 109.9h.65M346.0 112.8h.65M350.0 107.6h.65M346.9 101.4h.65M345.2 107.3h.65M352.0 107.8h.65M350.1 108.8h.65M342.3 107.3h.65M344.3 101.2h.65M336.0 109.4h.65M354.9 111.7h.65M340.3 112.0h.65M355.7 103.1h.65M348.8 112.9h.65M346.3 110.8h.65M341.8 104.8h.65M351.4 105.5h.65M346.6 106.5h.65M339.2 112.0h.65M344.9 104.9h.65M342.9 106.4h.65M339.8 109.6h.65M343.6 109.3h.65M340.1 102.1h.65M339.9 107.1h.65M337.3 109.5h.65M343.6 109.7h.65M343.3 109.3h.65M339.2 101.8h.65M349.5 104.0h.65M352.5 103.4h.65M349.0 102.9h.65M334.6 111.8h.65M344.4 109.9h.65M346.8 99.4h.65M348.2 110.4h.65M354.0 112.6h.65M348.2 105.7h.65M346.1 101.5h.65M350.4 109.0h.65M347.9 103.1h.65M349.8 103.9h.65M353.7 103.7h.65M342.3 104.8h.65M339.0 102.6h.65M343.8 96.4h.65M358.5 107.6h.65M347.5 102.6h.65M346.9 106.0h.65M346.3 100.2h.65M344.9 98.6h.65M344.3 102.6h.65M341.7 104.8h.65M351.0 110.9h.65M345.8 101.8h.65M355.1 100.5h.65M342.0 105.2h.65M340.8 111.3h.65M348.2 110.3h.65M343.7 109.5h.65M344.6 105.5h.65M347.5 107.6h.65M349.2 105.2h.65M335.9 104.8h.65M328.3 104.9h.65M340.3 109.3h.65M328.1 114.0h.65M343.3 99.7h.65M348.2 107.9h.65M348.3 114.6h.65M340.2 107.2h.65M346.5 103.3h.65M347.4 111.0h.65M340.0 107.8h.65M352.0 108.6h.65M335.2 107.1h.65M343.0 110.9h.65M344.7 113.8h.65M337.6 108.0h.65M339.9 113.0h.65M355.6 102.3h.65M350.4 105.8h.65M335.0 101.9h.65M346.1 108.1h.65M343.1 107.2h.65M347.5 107.1h.65M337.9 106.6h.65M348.9 100.1h.65M355.4 111.8h.65M346.6 114.3h.65M340.3 102.3h.65M341.5 103.2h.65M357.4 106.2h.65M345.1 107.5h.65M355.8 106.7h.65M343.1 107.1h.65M353.6 105.2h.65M354.6 107.2h.65M344.4 108.0h.65M358.3 105.0h.65M354.4 108.3h.65M346.5 106.2h.65M350.8 108.5h.65M347.9 108.6h.65M340.0 103.4h.65M339.1 104.7h.65M344.2 104.6h.65M349.0 102.3h.65M344.0 109.4h.65M356.4 106.2h.65M353.2 111.4h.65M339.0 107.0h.65M338.8 104.5h.65M348.1 101.0h.65M348.9 105.5h.65M344.0 108.1h.65M340.3 99.3h.65M345.7 103.2h.65M344.2 101.7h.65M339.5 102.0h.65M337.3 102.8h.65M340.5 106.1h.65M365.7 103.6h.65M335.3 108.3h.65M337.6 102.5h.65M343.3 106.1h.65M345.9 106.9h.65M344.7 110.3h.65M350.8 103.8h.65M344.1 100.6h.65M349.6 105.1h.65M357.6 103.3h.65M355.1 102.4h.65M334.7 102.6h.65M347.6 109.9h.65M339.8 109.7h.65M342.1 103.9h.65M343.5 112.4h.65M346.6 107.1h.65M335.8 106.6h.65M347.2 112.3h.65M339.9 103.2h.65M339.6 103.4h.65M349.7 102.8h.65M353.5 106.1h.65M339.6 103.4h.65M336.6 100.2h.65M352.7 109.4h.65M339.1 104.1h.65M355.6 103.1h.65M346.8 107.9h.65M344.1 105.2h.65M343.2 106.4h.65M335.4 106.1h.65M346.5 100.7h.65M348.2 102.2h.65M328.6 98.3h.65M345.9 108.1h.65M342.6 100.2h.65M344.2 109.5h.65M345.0 100.1h.65M348.2 105.1h.65M344.1 106.1h.65M348.8 105.4h.65M339.1 105.4h.65M346.1 110.5h.65M337.4 105.3h.65M339.7 106.9h.65M341.8 93.8h.65M351.3 103.2h.65M338.3 99.9h.65M338.4 100.8h.65M344.3 106.4h.65M344.7 107.2h.65M339.9 108.2h.65M344.6 107.6h.65M349.1 104.4h.65M353.1 109.0h.65M342.6 112.7h.65M355.8 99.8h.65M330.9 103.4h.65M348.2 109.5h.65M349.5 105.8h.65M351.4 108.6h.65M342.5 106.6h.65M352.0 103.4h.65M341.3 102.6h.65M354.6 108.5h.65M350.7 104.4h.65M345.1 110.6h.65M343.5 110.5h.65M345.2 105.8h.65M348.8 109.2h.65M356.5 104.5h.65M356.0 102.9h.65M339.9 97.2h.65M350.7 111.7h.65M337.7 104.6h.65M343.7 99.8h.65M345.8 107.1h.65M342.2 101.9h.65M346.2 108.2h.65M336.4 105.5h.65M348.9 95.0h.65M347.4 112.6h.65M337.2 111.0h.65M343.5 108.3h.65M344.4 101.5h.65M334.5 115.2h.65M336.9 104.9h.65M354.4 107.1h.65M346.5 98.1h.65M341.5 100.7h.65M334.0 107.4h.65M350.7 102.9h.65M341.3 107.6h.65M351.0 101.8h.65M352.8 109.6h.65M345.4 101.6h.65M349.0 108.6h.65M356.6 103.6h.65M355.5 104.6h.65M348.8 105.5h.65M345.9 111.7h.65M341.1 109.2h.65M343.7 105.8h.65M340.9 106.7h.65M332.7 104.9h.65M351.9 109.2h.65M335.1 101.6h.65M342.8 113.3h.65M342.7 105.9h.65M343.9 107.1h.65M339.6 107.0h.65M348.5 110.1h.65M339.8 109.5h.65M357.7 109.1h.65M349.8 96.4h.65M354.0 113.5h.65M353.3 108.0h.65M350.8 117.8h.65M340.9 104.4h.65M352.5 107.0h.65M331.6 106.9h.65M347.7 102.3h.65M347.9 106.9h.65M333.9 108.0h.65M359.3 112.9h.65M338.2 100.8h.65M345.8 107.1h.65M336.9 103.0h.65M354.2 106.9h.65M352.1 105.9h.65M352.1 103.9h.65M342.1 102.2h.65M333.1 104.4h.65M336.7 104.1h.65M346.4 106.7h.65M348.0 104.4h.65M345.1 110.5h.65M344.4 106.1h.65M329.6 101.6h.65M352.5 102.5h.65M338.5 109.8h.65M337.5 109.9h.65M344.8 103.5h.65M332.2 111.2h.65M333.7 101.0h.65M350.5 101.0h.65M348.7 105.8h.65M343.6 101.7h.65M341.1 107.0h.65M339.0 108.4h.65M346.9 108.1h.65M346.9 108.2h.65M347.8 109.2h.65M347.8 107.2h.65M339.4 99.0h.65M345.7 109.7h.65M339.3 99.6h.65M341.8 107.3h.65M350.9 104.6h.65M337.7 105.7h.65M349.8 105.7h.65M351.9 103.9h.65M351.0 112.4h.65M338.9 102.5h.65M349.6 118.3h.65M348.6 105.8h.65M353.8 105.5h.65M334.9 102.1h.65M354.1 99.2h.65M336.2 109.2h.65M346.3 110.7h.65M338.5 103.0h.65M343.1 101.0h.65M343.9 105.2h.65M351.0 105.6h.65M342.8 107.9h.65M352.5 110.1h.65M347.2 104.4h.65M342.3 100.7h.65M345.8 105.8h.65M356.0 106.8h.65M350.2 111.1h.65M333.3 103.3h.65M343.8 106.4h.65M338.0 109.3h.65M351.2 107.9h.65M349.8 101.5h.65M352.7 103.5h.65M333.1 106.4h.65M348.1 103.2h.65M334.6 101.3h.65M344.4 95.8h.65M352.0 109.9h.65M344.2 110.1h.65M344.3 101.4h.65M349.5 108.1h.65M339.3 100.3h.65M339.0 110.6h.65M343.4 117.1h.65M341.1 108.3h.65M347.4 105.0h.65M350.8 102.5h.65M345.0 101.2h.65M331.2 106.2h.65M337.9 100.7h.65M349.1 105.3h.65M347.9 112.8h.65M346.5 107.7h.65M337.6 109.3h.65M350.9 101.7h.65M349.6 107.2h.65M344.0 106.3h.65M361.1 103.3h.65M343.2 106.3h.65M344.2 98.6h.65M349.6 109.6h.65M356.6 103.7h.65M337.2 108.5h.65M338.7 105.9h.65M342.8 106.7h.65M342.5 108.7h.65M339.4 115.4h.65M350.4 103.4h.65M339.1 105.2h.65M342.3 102.6h.65M354.5 109.8h.65M338.4 108.2h.65M345.5 109.0h.65M341.1 114.5h.65M345.9 113.9h.65M342.3 111.3h.65M344.7 112.6h.65M344.2 101.7h.65M338.4 103.4h.65M349.3 107.5h.65M346.2 110.2h.65M356.1 101.9h.65M352.0 115.2h.65M341.4 103.7h.65M348.1 106.9h.65M341.9 105.7h.65M355.9 109.6h.65M340.2 99.1h.65M338.3 106.7h.65M340.3 102.6h.65M350.1 104.8h.65M343.0 106.8h.65M354.9 107.2h.65M349.9 106.3h.65M355.5 101.1h.65M338.2 103.9h.65M358.6 112.2h.65M338.3 104.1h.65M349.0 106.3h.65M351.2 104.0h.65M334.7 108.5h.65M353.6 99.8h.65M333.3 104.2h.65M333.4 107.7h.65M338.0 109.0h.65M343.3 106.5h.65M349.8 105.2h.65M338.9 109.7h.65M335.9 111.6h.65M341.5 103.9h.65M348.1 107.7h.65M348.8 100.1h.65M339.8 107.4h.65M347.9 105.6h.65M353.9 105.3h.65M351.6 110.3h.65M347.8 105.2h.65M350.3 107.8h.65M349.5 102.6h.65M348.5 112.4h.65M343.7 106.6h.65M344.0 109.5h.65M332.2 112.4h.65M348.9 105.1h.65M347.3 110.5h.65M348.0 108.7h.65M353.3 106.7h.65M350.4 111.9h.65M349.2 103.6h.65M350.6 114.2h.65M343.5 107.9h.65M348.4 109.6h.65M342.9 106.0h.65M358.2 108.8h.65M341.6 109.2h.65M346.0 112.2h.65M335.2 106.5h.65M351.9 101.0h.65M340.8 108.0h.65M345.9 104.9h.65M347.6 100.6h.65M340.2 112.9h.65M341.5 107.8h.65M345.3 109.5h.65M347.7 107.7h.65M353.1 107.4h.65M334.7 103.5h.65M354.8 110.3h.65M344.1 99.8h.65M341.0 114.3h.65M353.3 110.9h.65M335.2 100.7h.65M341.8 100.7h.65M346.3 101.7h.65M348.7 105.2h.65M342.0 108.6h.65M348.5 106.6h.65M343.3 105.9h.65M333.2 98.3h.65M341.3 106.6h.65M356.9 107.6h.65M339.3 104.1h.65M337.5 105.9h.65M345.0 105.9h.65M347.3 110.2h.65M350.0 101.5h.65M351.0 102.1h.65M348.0 106.4h.65M356.4 105.7h.65M345.0 105.0h.65M351.1 107.3h.65M343.9 109.4h.65M359.1 112.5h.65M355.2 104.0h.65M345.0 106.7h.65M334.7 112.9h.65M336.4 107.7h.65M337.7 106.6h.65M350.9 108.1h.65M340.1 103.5h.65M351.6 105.8h.65M346.4 109.8h.65M329.6 107.1h.65M353.7 113.1h.65M350.0 103.2h.65M351.8 113.5h.65M341.6 103.3h.65M344.7 104.5h.65M332.6 96.8h.65M337.3 103.6h.65M348.4 104.0h.65M346.8 111.5h.65M364.8 109.5h.65M339.4 110.0h.65M345.6 107.4h.65M351.8 109.1h.65M337.3 101.6h.65M347.4 108.9h.65M359.1 108.5h.65M343.3 104.2h.65M341.1 101.0h.65M337.3 103.9h.65M346.2 103.1h.65M345.7 105.0h.65M344.2 104.4h.65M347.5 106.1h.65M328.7 107.1h.65M346.3 103.7h.65M346.7 103.3h.65M346.4 102.6h.65M349.9 107.4h.65M336.4 103.3h.65M350.1 107.7h.65M346.5 101.6h.65M341.3 106.7h.65M347.5 106.0h.65M340.3 105.2h.65M342.4 101.5h.65M338.6 102.9h.65M336.0 107.9h.65M350.5 109.5h.65M340.6 103.1h.65M347.1 104.2h.65M343.6 104.8h.65M335.3 111.0h.65M336.4 99.9h.65M350.7 101.7h.65M352.3 107.4h.65M347.8 104.5h.65M336.5 101.4h.65M346.2 105.6h.65M337.9 101.6h.65M340.0 105.8h.65M348.3 109.5h.65M343.2 111.6h.65M350.1 111.8h.65M340.0 108.3h.65M352.4 99.1h.65M351.3 107.6h.65M351.3 106.7h.65M352.8 104.4h.65M342.2 108.8h.65M350.1 100.8h.65M353.1 110.6h.65M352.0 103.2h.65M353.5 108.0h.65M351.4 105.8h.65M342.8 103.3h.65M341.6 109.5h.65M340.6 103.6h.65M347.6 105.0h.65M332.6 103.5h.65M343.2 112.2h.65M349.7 102.1h.65M338.6 104.2h.65M346.9 103.0h.65M348.2 100.6h.65M347.6 110.6h.65M328.8 105.9h.65M347.1 107.7h.65M346.1 105.7h.65M347.3 106.4h.65M346.1 112.1h.65M352.0 109.6h.65M341.5 104.1h.65M352.2 101.9h.65M351.9 100.8h.65M358.9 110.8h.65M342.1 104.2h.65M332.7 105.8h.65M353.0 108.4h.65M343.9 113.9h.65M349.0 107.6h.65M343.6 108.3h.65M362.0 107.7h.65M335.0 106.8h.65M357.5 110.6h.65M342.3 107.4h.65M336.2 108.5h.65M340.0 103.9h.65M341.9 103.2h.65M356.2 111.7h.65M343.7 106.4h.65M356.1 104.9h.65M342.7 102.7h.65M355.3 106.6h.65M345.6 104.4h.65M339.8 109.7h.65M340.6 104.0h.65M334.9 101.7h.65M342.2 104.1h.65M336.0 103.6h.65M344.6 95.8h.65M349.1 104.9h.65M337.0 104.9h.65M348.2 105.9h.65M345.7 106.0h.65M349.5 100.7h.65M341.7 107.4h.65M345.6 101.8h.65M343.6 103.2h.65M345.5 99.5h.65M335.2 100.4h.65M344.6 115.5h.65M351.6 110.7h.65M345.5 112.1h.65M347.6 106.2h.65M352.2 101.2h.65M331.6 101.3h.65M354.2 109.4h.65M346.6 105.0h.65M344.3 107.4h.65M339.9 108.9h.65M339.3 111.1h.65M343.2 102.3h.65M343.6 102.3h.65M344.5 98.9h.65M342.3 106.2h.65M347.8 104.4h.65M353.0 99.3h.65M344.0 104.0h.65M345.3 104.9h.65M354.1 105.9h.65M339.5 115.6h.65M345.6 105.3h.65M350.9 103.6h.65M343.9 109.2h.65M337.9 104.1h.65M351.3 112.9h.65M344.8 105.5h.65M352.2 100.2h.65M340.9 102.8h.65M332.3 94.6h.65M342.8 109.4h.65M349.5 110.8h.65M328.1 105.3h.65M353.8 102.5h.65M337.1 107.2h.65M345.4 108.4h.65M345.3 110.7h.65M349.7 106.9h.65M343.0 108.7h.65M341.1 109.6h.65M352.6 109.6h.65M337.3 107.6h.65M347.7 109.3h.65M335.5 103.6h.65M344.9 111.4h.65M341.6 109.4h.65M346.3 113.5h.65M347.4 99.6h.65M343.6 106.9h.65M353.4 108.5h.65M343.6 101.0h.65M345.6 105.5h.65M353.8 109.6h.65M336.5 96.9h.65M342.8 107.0h.65M339.2 103.9h.65M352.9 108.8h.65M334.4 107.3h.65M346.4 105.1h.65M349.0 108.2h.65M361.2 106.8h.65M340.8 104.0h.65M350.0 113.5h.65M349.3 108.1h.65M347.1 104.2h.65M345.9 101.2h.65M350.2 107.8h.65M346.6 102.6h.65M343.8 103.7h.65M347.4 104.8h.65M347.7 109.6h.65M353.5 102.0h.65M343.3 101.7h.65M353.4 102.6h.65M354.0 104.0h.65M352.0 103.9h.65M344.0 106.5h.65M346.0 105.4h.65M349.7 110.7h.65M351.0 104.1h.65M333.7 106.4h.65M327.4 108.6h.65M349.4 101.2h.65M349.2 103.4h.65M353.5 103.0h.65M340.2 103.4h.65M347.0 101.9h.65M359.8 104.5h.65M356.6 104.9h.65M343.5 103.2h.65M340.6 107.7h.65M353.1 106.4h.65M339.8 106.8h.65M340.5 95.5h.65M346.3 99.2h.65M341.5 106.2h.65M342.9 105.0h.65M355.3 109.7h.65M355.1 106.8h.65M346.9 112.9h.65M341.5 107.3h.65M346.3 107.1h.65M349.3 106.5h.65M350.6 102.7h.65M348.6 101.9h.65M352.3 109.8h.65M344.1 104.0h.65M345.3 108.1h.65M335.9 102.0h.65M351.4 105.1h.65M337.3 97.3h.65M342.6 99.1h.65M346.2 105.6h.65M357.0 101.0h.65M349.4 101.3h.65M338.8 105.1h.65M340.0 113.0h.65M345.0 103.0h.65M360.0 102.8h.65M342.9 105.1h.65M340.4 108.2h.65M352.8 100.8h.65M342.2 104.4h.65M336.4 100.7h.65M342.9 102.3h.65M347.2 109.0h.65M346.4 106.9h.65M339.4 103.5h.65M347.6 108.0h.65M344.6 107.9h.65M343.6 101.3h.65M347.1 104.2h.65M334.4 109.0h.65M347.6 108.6h.65M342.2 111.5h.65M348.2 109.6h.65M341.1 104.6h.65M353.2 105.7h.65M345.3 111.5h.65M352.4 106.7h.65M357.1 100.1h.65M344.8 103.7h.65M354.4 111.9h.65M342.2 106.4h.65M351.1 107.8h.65M346.9 109.7h.65M357.4 106.3h.65M338.3 105.4h.65M345.0 104.4h.65M349.6 108.7h.65M350.9 107.7h.65M346.9 101.9h.65M343.1 102.6h.65M347.3 105.4h.65M345.0 107.9h.65M343.4 109.9h.65M351.8 102.2h.65M353.4 104.6h.65M340.8 104.7h.65M337.4 107.2h.65M352.7 100.1h.65M347.9 108.1h.65M349.3 108.3h.65M348.0 104.1h.65M350.8 107.1h.65M350.2 107.0h.65M343.7 105.7h.65M349.0 109.8h.65M333.4 101.0h.65M335.2 103.8h.65M341.1 106.6h.65M343.4 110.9h.65M341.4 103.1h.65M340.2 104.7h.65M346.2 104.0h.65M339.5 100.6h.65M346.4 103.7h.65M339.1 104.8h.65M347.3 113.6h.65M355.3 102.4h.65M342.4 98.4h.65M333.1 98.8h.65M350.8 105.2h.65M336.1 103.2h.65M342.1 103.3h.65M354.2 98.5h.65M342.4 106.7h.65M348.1 97.5h.65M346.3 101.0h.65M341.6 99.7h.65M349.9 117.7h.65M351.4 104.7h.65M334.3 109.1h.65M352.6 101.6h.65M351.0 99.0h.65M337.3 106.4h.65M336.6 108.7h.65M354.0 106.1h.65M348.3 111.9h.65M348.4 110.8h.65M354.1 101.9h.65M358.8 110.4h.65M346.3 109.0h.65M347.3 106.8h.65M339.2 104.4h.65M343.3 110.1h.65M348.4 107.5h.65M344.7 110.8h.65M330.3 102.5h.65M351.3 104.4h.65M349.4 112.0h.65M350.4 100.4h.65M344.0 101.6h.65M348.4 109.9h.65M344.0 107.9h.65M344.2 113.3h.65M346.3 106.8h.65M349.0 110.0h.65M349.8 105.9h.65M345.8 107.9h.65M349.1 104.6h.65M341.9 105.1h.65M348.3 104.3h.65M338.8 104.7h.65M342.5 108.3h.65M342.3 104.4h.65M357.1 107.7h.65M339.8 110.6h.65M343.2 102.9h.65M349.5 100.6h.65M345.1 108.1h.65M350.1 104.0h.65M342.4 105.7h.65M353.0 99.2h.65M350.6 107.1h.65M354.0 101.8h.65M352.6 102.7h.65M347.4 104.5h.65M330.4 105.8h.65M348.0 109.3h.65M341.6 101.6h.65M349.9 104.7h.65M352.0 111.4h.65M344.1 105.4h.65M341.1 98.3h.65M345.5 108.8h.65M352.1 106.0h.65M357.0 104.0h.65M345.4 104.0h.65M342.8 105.0h.65M341.3 104.4h.65M347.3 106.5h.65M339.1 108.0h.65M340.5 107.8h.65M346.0 98.8h.65M339.2 109.7h.65M341.6 103.6h.65M342.9 106.5h.65M349.1 104.9h.65M356.0 103.9h.65M342.7 105.4h.65M346.6 111.6h.65M360.1 104.8h.65M344.6 108.5h.65M344.9 109.3h.65M339.0 109.3h.65M332.1 108.1h.65M349.8 115.5h.65M340.0 108.7h.65M349.6 102.5h.65M347.2 102.8h.65M338.4 100.3h.65M344.2 102.0h.65M332.7 107.1h.65M334.9 108.7h.65M347.1 102.9h.65M335.7 102.5h.65M337.1 104.6h.65M343.2 115.5h.65M332.5 103.7h.65M349.0 110.0h.65M353.9 102.2h.65M350.6 94.9h.65M344.1 109.3h.65M350.0 100.6h.65M339.2 91.0h.65M339.9 95.8h.65M348.2 99.7h.65M350.9 103.8h.65M343.2 115.6h.65M355.6 96.1h.65M357.4 109.3h.65M356.9 107.3h.65M331.2 102.1h.65M325.9 95.6h.65M340.2 112.5h.65M346.3 105.8h.65M352.1 98.7h.65M355.1 105.9h.65M338.0 100.8h.65M343.9 108.3h.65M357.7 102.5h.65M344.1 115.9h.65M347.5 102.2h.65M351.6 106.4h.65M339.4 113.1h.65M367.0 99.1h.65M339.4 101.2h.65M335.5 109.6h.65M334.0 108.7h.65M349.2 109.2h.65M333.6 105.4h.65M348.2 110.1h.65M349.1 100.8h.65M355.5 113.3h.65M357.2 99.7h.65M350.4 98.6h.65M344.5 109.3h.65M334.0 122.2h.65M356.2 99.6h.65M341.2 104.0h.65M344.8 96.7h.65M344.8 94.6h.65M340.8 115.9h.65M345.4 102.0h.65M359.1 106.5h.65M351.2 100.8h.65M355.1 102.4h.65M353.3 108.6h.65M360.4 110.8h.65M345.8 97.7h.65M343.4 100.0h.65M358.8 101.6h.65M326.7 106.9h.65M352.8 98.6h.65M352.0 96.0h.65M348.0 103.4h.65M348.6 107.2h.65M340.3 109.7h.65M341.7 105.2h.65M357.9 98.5h.65M346.6 114.8h.65M356.6 100.1h.65M340.7 108.0h.65M340.4 104.9h.65M334.4 108.6h.65M332.4 105.3h.65M351.9 100.1h.65M332.7 96.3h.65M329.8 116.0h.65M329.7 96.1h.65M348.7 104.8h.65M354.6 113.0h.65M349.7 104.0h.65M341.2 103.3h.65M354.0 108.4h.65M351.2 93.6h.65M339.5 100.0h.65M341.3 97.6h.65M351.7 111.3h.65M361.4 101.1h.65M345.1 105.1h.65M345.9 99.0h.65M352.7 91.4h.65M341.9 92.1h.65M351.3 95.4h.65M336.1 104.4h.65M337.1 106.1h.65M342.7 117.2h.65M335.6 99.2h.65M350.8 105.2h.65M349.8 102.6h.65M354.0 106.7h.65M357.2 95.7h.65M348.1 103.0h.65M349.4 98.4h.65M352.9 95.8h.65M353.5 108.0h.65M330.7 107.1h.65M329.5 108.2h.65M332.3 104.0h.65M343.7 93.9h.65M330.2 107.7h.65M341.9 111.6h.65M345.6 122.4h.65M347.5 116.0h.65M349.0 105.1h.65M350.6 99.6h.65M340.5 115.3h.65M344.4 97.0h.65M350.4 99.1h.65M346.8 112.0h.65M357.1 116.5h.65M356.1 108.9h.65M350.8 106.6h.65M345.9 119.5h.65M345.6 115.6h.65M345.2 112.6h.65M322.0 105.7h.65M341.0 115.0h.65M359.1 100.7h.65M345.7 110.8h.65M349.0 105.5h.65M354.8 96.3h.65M360.2 107.8h.65M322.0 99.0h.65M345.9 119.8h.65M346.5 95.2h.65M358.3 107.6h.65M346.7 111.9h.65M343.5 104.4h.65M355.4 108.0h.65M355.1 102.8h.65M361.2 95.9h.65M335.2 108.5h.65M344.3 106.5h.65M347.3 104.2h.65M337.9 107.3h.65M358.2 99.8h.65M363.1 115.5h.65M339.8 110.5h.65M337.7 104.5h.65M337.7 101.8h.65M331.3 104.3h.65M338.1 99.5h.65M330.3 105.6h.65M363.3 102.9h.65M345.8 97.9h.65M343.1 99.7h.65M333.8 99.5h.65M342.6 107.3h.65M344.1 107.1h.65M358.0 111.3h.65M343.4 93.7h.65M345.3 105.8h.65M355.4 106.1h.65M370.6 103.1h.65M352.5 99.2h.65M338.3 103.2h.65M348.6 109.6h.65M320.1 112.5h.65M359.6 113.9h.65M354.1 104.3h.65M351.6 113.5h.65M338.5 109.5h.65M351.1 104.2h.65M362.0 100.6h.65M338.4 104.8h.65M341.4 113.8h.65M332.6 96.5h.65M349.3 109.9h.65M336.6 113.5h.65M330.3 111.7h.65M339.1 101.9h.65M361.9 104.6h.65M341.1 106.5h.65M362.6 105.4h.65M340.0 106.3h.65M336.0 100.4h.65M341.7 109.1h.65M342.4 108.0h.65M356.3 115.1h.65M332.1 104.5h.65M336.7 109.0h.65M348.6 104.8h.65M342.0 98.6h.65M332.1 111.1h.65M344.8 105.1h.65M349.2 110.0h.65M362.5 103.7h.65M352.0 94.2h.65M343.1 100.2h.65M341.1 112.3h.65M347.4 105.3h.65M347.1 103.4h.65M344.6 100.6h.65M341.9 102.1h.65M344.9 92.7h.65M347.0 104.6h.65M350.0 97.6h.65M338.5 110.0h.65M340.3 107.9h.65M340.7 97.1h.65M334.1 100.9h.65M342.4 96.9h.65M358.4 104.9h.65M338.9 114.4h.65M353.4 99.9h.65M337.8 103.6h.65M352.5 95.8h.65M356.1 102.3h.65M353.5 103.9h.65M350.5 109.0h.65M357.3 100.3h.65M362.4 96.6h.65M349.1 109.2h.65M346.7 110.6h.65M332.9 104.6h.65M354.9 105.0h.65M337.2 105.9h.65M348.1 98.5h.65M357.6 101.4h.65M337.9 105.6h.65M341.0 103.7h.65M348.5 102.2h.65M351.5 106.8h.65M356.7 98.5h.65M347.1 106.6h.65M349.0 91.4h.65M337.6 107.0h.65M351.4 105.1h.65M348.1 112.8h.65M343.6 100.0h.65M359.1 108.9h.65M345.2 100.4h.65M360.0 103.2h.65M339.8 113.1h.65M334.3 104.0h.65M351.9 103.1h.65M342.3 107.8h.65M336.4 103.6h.65M352.6 97.9h.65M358.2 103.6h.65M346.0 101.9h.65M351.4 101.9h.65M348.5 113.0h.65M357.1 95.2h.65M357.9 101.8h.65M349.1 105.6h.65M348.9 101.1h.65M351.5 111.4h.65M341.8 104.8h.65M353.4 111.8h.65M349.4 106.7h.65M350.6 102.8h.65M349.4 103.2h.65M343.7 89.9h.65M331.5 107.3h.65M352.8 107.8h.65M347.4 103.0h.65M351.3 102.3h.65M346.5 114.5h.65M334.9 101.1h.65M344.5 92.6h.65M336.6 111.7h.65M350.8 104.0h.65M357.4 98.5h.65M362.5 104.4h.65M341.4 111.8h.65M350.8 106.1h.65M345.4 93.2h.65M329.0 104.8h.65M354.4 99.7h.65M347.1 94.8h.65M333.9 104.4h.65M352.2 109.5h.65M356.4 99.7h.65M344.9 109.8h.65M337.8 102.8h.65M346.3 104.6h.65M353.7 107.4h.65M342.6 89.9h.65M352.9 111.1h.65M350.6 107.0h.65M350.0 112.5h.65M342.0 104.3h.65M337.9 103.3h.65M339.4 99.4h.65M329.6 104.1h.65M354.7 85.4h.65M356.9 104.4h.65M340.5 106.6h.65M344.1 104.1h.65M358.0 105.7h.65M349.2 102.9h.65M344.7 98.8h.65M345.1 99.6h.65M355.7 103.1h.65M352.3 112.8h.65M354.6 100.2h.65M360.1 92.4h.65M358.0 88.4h.65M338.5 104.1h.65M340.1 91.0h.65M333.5 106.2h.65M331.7 108.6h.65M355.6 113.2h.65M348.1 104.2h.65M342.7 122.1h.65M356.1 108.6h.65M348.8 111.5h.65M330.0 110.0h.65M341.2 89.7h.65M355.3 99.6h.65M349.7 99.8h.65M342.7 114.8h.65M348.8 107.0h.65M332.9 110.3h.65M340.6 107.5h.65M337.5 106.9h.65M350.6 95.2h.65M348.7 98.8h.65M356.5 106.9h.65M346.5 124.0h.65M353.1 102.1h.65M353.4 106.4h.65M357.4 98.1h.65M362.5 101.3h.65M342.9 99.9h.65M343.6 116.8h.65M347.6 97.7h.65M344.8 106.2h.65M354.1 102.5h.65M347.7 123.4h.65M345.0 105.3h.65M336.1 110.7h.65M342.2 116.4h.65M356.3 109.8h.65M341.9 102.4h.65M342.9 105.1h.65M343.2 101.1h.65M347.0 104.4h.65M343.0 110.4h.65M354.9 101.0h.65M364.1 107.0h.65M356.4 116.7h.65M334.2 107.8h.65M353.8 112.3h.65M352.8 111.1h.65M333.5 98.5h.65M351.0 91.5h.65M341.5 103.4h.65M349.3 110.4h.65M348.2 99.3h.65M338.1 107.3h.65M351.1 107.0h.65M347.3 105.3h.65M334.4 104.4h.65M352.6 97.4h.65M349.8 109.1h.65M365.8 104.2h.65M344.1 96.9h.65M337.0 94.2h.65M331.1 109.1h.65M346.1 106.6h.65M332.8 91.6h.65M331.2 115.0h.65M355.6 96.0h.65M347.0 105.7h.65M337.9 100.5h.65M354.2 109.2h.65M353.8 106.7h.65M347.2 107.9h.65M344.9 115.6h.65M348.1 108.2h.65M345.5 100.4h.65M345.9 102.6h.65M339.5 109.9h.65M363.1 106.6h.65M345.4 100.1h.65M334.0 108.7h.65M351.1 99.6h.65M347.0 99.3h.65M358.3 105.5h.65M350.1 115.7h.65M327.6 107.4h.65M348.6 102.9h.65M346.6 112.8h.65M340.9 100.7h.65M361.0 111.4h.65M350.6 110.1h.65M347.3 103.0h.65M345.3 106.9h.65M342.7 94.7h.65M345.2 106.7h.65M345.4 109.2h.65M349.0 111.1h.65M347.6 103.9h.65M351.4 110.6h.65M342.9 99.5h.65M357.8 101.6h.65M349.7 102.0h.65M348.4 113.9h.65M360.7 96.6h.65M334.5 83.5h.65M351.5 114.9h.65M348.8 103.1h.65M353.5 99.0h.65M352.1 113.6h.65M356.9 109.5h.65M342.4 102.9h.65M339.0 116.8h.65M357.0 104.6h.65M346.0 106.5h.65M341.1 108.2h.65M350.7 107.7h.65M347.0 88.9h.65M344.9 95.9h.65M332.5 119.2h.65M342.4 103.7h.65M344.0 99.4h.65M360.0 93.1h.65M350.5 101.1h.65M357.0 110.2h.65M347.1 95.3h.65M353.0 111.0h.65M351.9 102.9h.65M351.7 99.9h.65M348.4 107.1h.65M344.4 98.5h.65M344.5 99.2h.65M336.4 111.5h.65M345.1 101.5h.65M342.0 107.5h.65M343.6 100.2h.65M348.6 105.6h.65M338.8 97.9h.65M357.2 102.9h.65M356.4 108.6h.65M345.7 103.2h.65M359.9 100.6h.65M343.0 99.4h.65M345.0 98.7h.65M347.3 96.7h.65M350.6 106.9h.65M348.0 100.9h.65M357.0 117.5h.65M345.2 99.8h.65M351.6 103.3h.65M347.5 108.8h.65M334.9 109.3h.65M337.5 96.7h.65M343.0 114.0h.65M340.9 107.7h.65M338.4 108.7h.65M348.9 112.1h.65M347.7 104.7h.65M330.6 106.7h.65M352.8 105.9h.65M347.7 108.3h.65M353.5 98.9h.65M345.6 107.4h.65M348.4 98.5h.65M329.6 106.7h.65M352.2 115.4h.65M349.7 99.1h.65M349.9 103.9h.65M340.5 95.4h.65M330.9 100.2h.65M342.7 105.0h.65M346.3 106.1h.65M362.2 104.2h.65M357.7 99.6h.65M340.1 101.3h.65M331.1 115.2h.65M348.3 109.2h.65M360.6 107.5h.65M359.8 89.5h.65M356.8 106.6h.65M341.5 111.6h.65M346.4 100.1h.65M329.8 116.1h.65M324.2 105.1h.65M359.6 108.8h.65M340.9 102.9h.65M341.0 106.2h.65M345.5 96.3h.65M333.7 111.9h.65M335.4 97.3h.65M365.7 99.2h.65M334.9 98.3h.65M352.5 99.7h.65M344.8 89.6h.65M340.8 104.7h.65M346.4 114.0h.65M350.2 85.8h.65M332.2 98.7h.65M343.4 104.7h.65M351.2 93.5h.65M327.0 109.5h.65M337.3 89.1h.65M337.7 101.5h.65M335.5 96.7h.65M354.4 97.2h.65M348.3 105.7h.65M342.7 119.6h.65M334.3 121.1h.65M337.6 102.6h.65M348.3 111.5h.65M351.7 102.0h.65M342.8 112.0h.65M358.8 100.9h.65M356.2 108.0h.65M348.0 97.2h.65M335.1 107.2h.65M322.2 101.1h.65M349.5 93.5h.65M359.7 115.2h.65M336.8 103.7h.65M344.8 100.9h.65M341.7 107.6h.65M360.0 105.0h.65M346.8 105.3h.65M340.1 108.5h.65M341.7 98.1h.65M351.5 92.3h.65M341.6 101.9h.65M344.8 94.5h.65M337.9 103.5h.65M351.1 103.7h.65M344.2 99.0h.65M346.1 86.4h.65M351.4 110.7h.65M345.8 98.2h.65M357.3 100.1h.65M357.4 102.7h.65M339.5 103.1h.65M340.2 103.4h.65M350.2 102.8h.65M342.1 104.4h.65M349.3 104.5h.65M350.6 108.2h.65M348.4 109.1h.65M346.1 111.8h.65M349.4 109.9h.65M344.4 95.4h.65M342.2 104.8h.65M349.1 104.3h.65M358.4 96.1h.65M331.1 103.3h.65M340.3 104.7h.65M351.5 121.9h.65M335.0 97.6h.65M345.5 95.0h.65M339.6 112.7h.65M345.5 104.3h.65M355.3 93.6h.65M347.0 104.2h.65M348.3 98.1h.65M342.4 103.9h.65M352.1 99.9h.65M351.1 90.9h.65M349.6 109.5h.65M338.4 102.6h.65M346.0 106.3h.65M356.0 105.7h.65M344.1 103.3h.65M348.3 109.5h.65M348.1 101.0h.65M343.2 99.5h.65M338.8 101.4h.65M341.2 109.4h.65M336.1 105.0h.65M336.3 109.5h.65M348.5 112.5h.65M350.5 98.0h.65M346.3 100.5h.65M341.7 98.0h.65M343.5 105.1h.65M347.8 120.2h.65M344.7 105.1h.65M345.3 102.9h.65M343.5 104.9h.65M344.4 109.1h.65M349.5 99.0h.65M346.0 106.4h.65M343.8 103.1h.65M345.2 108.3h.65M347.5 101.1h.65M345.6 112.3h.65M338.2 108.6h.65M344.0 127.7h.65M351.2 104.9h.65M345.1 95.0h.65M341.8 117.1h.65M349.0 102.7h.65M346.0 104.8h.65M338.3 105.2h.65M350.2 95.3h.65M344.1 87.5h.65M332.3 109.7h.65M356.0 116.1h.65M335.5 104.0h.65M343.3 111.2h.65M348.7 105.0h.65M350.9 101.7h.65M354.0 102.4h.65M355.0 105.7h.65M347.9 97.5h.65M333.6 94.8h.65M350.0 91.2h.65M357.1 102.5h.65M335.2 106.7h.65M336.0 104.8h.65M343.9 112.0h.65M353.3 110.3h.65M342.3 112.3h.65M345.5 105.3h.65M349.6 106.2h.65M335.2 108.5h.65M333.2 107.4h.65M345.5 105.0h.65M337.2 110.7h.65M344.8 109.8h.65M340.1 100.1h.65M346.6 110.9h.65M335.4 100.9h.65M342.0 102.9h.65M342.3 111.2h.65M351.8 104.7h.65M352.9 110.9h.65M341.0 100.0h.65M351.6 117.7h.65M326.9 100.7h.65M352.4 99.5h.65M353.1 105.9h.65M335.9 101.7h.65M349.1 99.0h.65M350.8 106.5h.65M343.6 106.9h.65M343.1 105.9h.65M338.0 113.3h.65M343.9 111.7h.65M363.4 114.3h.65M345.9 105.5h.65M345.7 106.5h.65M339.4 93.3h.65M348.6 104.8h.65M358.5 115.7h.65M335.0 98.8h.65M352.3 111.8h.65M347.1 104.9h.65M331.1 118.7h.65M340.4 108.0h.65M348.8 99.0h.65M353.0 113.6h.65M345.7 105.4h.65M351.4 110.6h.65M353.1 99.0h.65M338.5 101.1h.65M324.2 96.3h.65M344.5 100.4h.65M339.2 110.0h.65M348.8 109.6h.65M344.7 101.9h.65M339.0 106.1h.65M331.4 99.1h.65M350.8 109.8h.65M345.5 97.4h.65M350.7 100.0h.65M345.0 98.5h.65M360.8 113.8h.65M339.2 97.3h.65M345.6 108.4h.65M356.2 104.2h.65M336.0 106.4h.65M348.2 94.6h.65M343.9 102.7h.65M338.1 105.9h.65M354.6 110.8h.65M338.8 100.9h.65M351.6 102.5h.65M343.2 118.2h.65M325.2 100.5h.65M339.2 104.2h.65M359.9 103.6h.65M343.7 105.5h.65M343.5 106.9h.65M366.6 100.2h.65M344.3 104.1h.65M328.9 108.3h.65M345.5 92.3h.65M343.8 105.5h.65M338.7 111.3h.65M341.2 95.2h.65M352.5 103.7h.65M347.1 94.5h.65M334.8 98.2h.65M344.7 103.7h.65M357.2 114.0h.65M347.1 103.9h.65M361.4 104.9h.65M354.2 101.5h.65M345.2 102.8h.65M340.4 106.8h.65M339.3 103.8h.65M349.3 117.6h.65M330.5 105.0h.65M351.3 102.4h.65M353.1 107.8h.65M350.0 101.9h.65M344.3 103.1h.65M338.0 105.6h.65M337.4 98.7h.65M334.7 111.3h.65M341.4 99.0h.65M352.4 101.9h.65M348.7 103.4h.65M348.9 105.7h.65M328.5 113.6h.65M354.1 95.5h.65M353.2 103.1h.65M346.9 112.4h.65M354.1 110.5h.65M362.3 111.2h.65M341.1 96.6h.65M352.8 93.9h.65M343.2 102.3h.65M340.3 112.9h.65M348.6 103.1h.65M353.2 102.0h.65M355.7 117.2h.65M344.9 103.5h.65M355.3 92.4h.65M335.8 98.1h.65M332.9 104.5h.65M348.4 104.3h.65M345.8 110.2h.65M354.7 112.2h.65M344.8 104.6h.65M357.9 107.0h.65M356.7 101.6h.65M345.6 100.5h.65M345.8 107.1h.65M342.4 116.6h.65M334.0 109.8h.65M337.2 106.3h.65M339.7 104.9h.65M346.6 99.5h.65M336.1 100.1h.65M346.1 109.5h.65M359.0 93.8h.65M349.7 101.6h.65M346.1 106.4h.65M352.4 107.0h.65M345.8 114.1h.65M348.2 104.4h.65M355.2 97.4h.65M338.4 113.4h.65M344.3 93.4h.65M352.4 111.9h.65M339.7 96.4h.65M345.5 106.7h.65M341.1 98.8h.65M350.1 107.7h.65M333.1 97.5h.65M343.3 100.5h.65M347.6 107.6h.65M360.8 106.6h.65M353.3 94.8h.65M340.3 110.9h.65M334.2 112.6h.65M350.3 105.2h.65M344.9 97.2h.65M337.2 101.1h.65M342.4 111.9h.65M337.6 100.5h.65M331.8 105.4h.65M345.8 111.1h.65M361.3 107.7h.65M338.9 105.8h.65M348.1 104.0h.65M337.1 106.5h.65M336.1 103.8h.65M343.4 88.5h.65M350.7 117.4h.65M342.9 100.6h.65M353.3 96.3h.65M346.0 105.8h.65M341.3 103.9h.65M339.0 100.8h.65M351.2 99.0h.65M341.2 100.1h.65M349.9 102.1h.65M339.0 106.4h.65M329.7 92.7h.65M348.1 115.8h.65M341.9 106.4h.65M334.7 105.1h.65M347.4 107.9h.65M339.8 116.2h.65M338.1 113.7h.65M337.2 109.2h.65M356.6 117.7h.65M344.9 94.2h.65M352.6 100.0h.65M337.2 100.8h.65M338.5 109.1h.65M347.4 108.6h.65M352.8 102.0h.65M351.5 111.9h.65M360.8 105.5h.65M343.8 98.7h.65M342.7 104.5h.65M347.9 96.1h.65M342.7 103.2h.65M341.1 100.7h.65M348.7 98.4h.65M349.7 97.8h.65M347.7 97.6h.65M355.4 109.0h.65M356.7 99.3h.65M335.3 96.3h.65M344.1 111.0h.65M351.6 108.6h.65M336.0 111.1h.65M351.8 101.1h.65M325.4 99.5h.65M344.8 114.2h.65M347.7 104.0h.65M358.7 114.0h.65M349.0 108.3h.65M356.0 100.0h.65M349.2 101.8h.65M338.1 107.5h.65M354.9 116.0h.65M352.2 111.5h.65M344.5 95.2h.65M340.8 106.9h.65M341.2 116.3h.65M355.8 103.3h.65M360.0 108.5h.65M359.3 103.4h.65M352.4 103.1h.65M346.1 111.6h.65M361.5 105.3h.65M348.4 99.1h.65M344.3 107.6h.65M335.9 101.8h.65M337.0 105.8h.65M353.3 106.6h.65M343.8 98.3h.65M332.9 104.6h.65M358.4 102.9h.65M345.5 101.8h.65M336.9 111.2h.65M351.8 95.4h.65M336.0 112.9h.65M338.9 104.3h.65M337.7 106.5h.65M339.7 100.8h.65M337.0 116.3h.65M367.2 105.9h.65M351.5 108.1h.65M346.1 104.0h.65M343.1 109.4h.65M336.1 99.4h.65M351.8 95.8h.65M359.2 102.9h.65M347.6 112.8h.65M345.7 105.4h.65M341.3 107.8h.65M351.7 99.1h.65M351.4 110.6h.65M349.9 99.9h.65M353.7 113.1h.65M342.1 93.2h.65M340.3 104.7h.65M356.7 112.0h.65M351.7 100.6h.65M352.3 104.5h.65M337.7 93.4h.65M354.2 94.4h.65M356.3 118.6h.65M346.4 99.3h.65M340.9 100.3h.65M349.2 110.8h.65M339.9 102.5h.65M340.8 111.7h.65M354.1 99.3h.65M343.6 105.6h.65M331.4 101.2h.65M347.2 95.8h.65M347.8 104.8h.65M341.5 111.0h.65M338.4 107.2h.65M344.0 111.4h.65M339.7 108.3h.65M351.1 111.7h.65M359.2 95.1h.65M345.5 97.8h.65M354.0 113.1h.65M343.6 106.1h.65M356.8 105.8h.65M345.0 94.3h.65M340.3 110.8h.65M334.1 106.4h.65M347.8 104.5h.65M352.6 99.9h.65M357.4 101.8h.65M354.4 100.9h.65M348.2 102.5h.65M359.8 98.0h.65M340.9 113.7h.65M352.7 104.3h.65M343.9 96.5h.65M343.8 106.8h.65M355.9 110.4h.65M358.0 107.0h.65M340.2 102.4h.65M358.6 105.2h.65M357.6 94.6h.65M342.1 99.5h.65M348.2 99.6h.65M335.2 104.1h.65M327.3 100.8h.65M349.6 97.3h.65M345.6 99.0h.65M343.2 106.1h.65M349.9 107.3h.65M339.9 114.2h.65M348.8 100.5h.65M357.1 102.1h.65M362.2 109.9h.65M345.2 101.6h.65M339.2 99.6h.65M343.8 113.1h.65M347.6 104.1h.65M349.7 102.6h.65M335.8 95.2h.65M358.0 102.9h.65M359.5 116.7h.65M348.5 109.5h.65M343.2 103.8h.65M346.9 104.6h.65M358.7 104.1h.65M353.7 105.5h.65M351.5 116.4h.65M333.3 112.1h.65M341.1 106.0h.65M343.4 101.7h.65M334.9 87.6h.65M364.1 110.2h.65M344.3 92.8h.65M351.9 114.8h.65M349.9 93.7h.65M341.9 106.4h.65M345.6 111.8h.65M338.1 100.6h.65M325.3 112.0h.65M351.6 101.9h.65M331.1 110.3h.65M334.3 96.4h.65M329.9 95.4h.65M338.2 97.6h.65M355.4 109.2h.65M346.8 100.9h.65M345.7 96.0h.65M349.5 98.5h.65M341.7 106.7h.65M338.6 95.5h.65M354.7 93.3h.65M335.1 96.9h.65M339.8 103.6h.65M318.6 101.2h.65M358.0 112.3h.65M353.5 104.0h.65M347.9 100.9h.65M331.7 106.8h.65M355.2 106.5h.65M345.8 110.2h.65M348.7 111.8h.65M342.4 92.7h.65M350.2 110.3h.65M339.3 106.0h.65M352.2 86.6h.65M367.0 109.6h.65M344.3 96.9h.65M332.4 126.4h.65M343.2 109.1h.65M340.3 102.4h.65M351.6 98.3h.65M345.3 103.2h.65M350.1 110.1h.65M344.4 113.7h.65M341.9 101.9h.65M346.7 102.8h.65M352.7 85.7h.65M330.7 90.1h.65M358.1 109.9h.65M340.0 107.1h.65M330.7 102.5h.65M358.8 108.8h.65M364.5 101.2h.65M356.0 105.2h.65M348.8 106.2h.65M352.7 113.3h.65M346.6 107.0h.65M345.2 106.5h.65M339.1 111.2h.65M352.2 106.7h.65M346.0 100.2h.65M337.9 97.2h.65M339.3 110.7h.65M349.8 95.2h.65M337.8 113.5h.65M360.6 110.2h.65M364.5 100.1h.65M350.0 100.5h.65M365.5 107.6h.65M350.0 107.2h.65M340.4 104.4h.65M326.7 101.9h.65M337.7 110.0h.65M358.0 106.7h.65M337.6 97.6h.65M352.9 103.1h.65M344.3 97.8h.65M348.7 106.3h.65M353.5 98.8h.65M346.3 95.6h.65M348.6 105.0h.65M343.4 110.9h.65M335.6 115.3h.65M350.2 108.8h.65M349.1 100.4h.65M341.8 111.3h.65M346.5 107.1h.65M343.7 110.6h.65M352.3 96.5h.65M363.6 111.9h.65M353.9 107.2h.65M346.3 110.7h.65M369.1 104.5h.65M337.3 104.9h.65M347.4 111.4h.65M336.1 102.1h.65M344.0 111.5h.65M356.3 106.4h.65M355.9 105.7h.65M347.6 89.9h.65M338.9 97.6h.65M350.5 105.4h.65M337.3 105.2h.65M345.4 107.4h.65M341.7 100.1h.65M356.9 103.1h.65M355.2 99.0h.65M344.5 102.7h.65M338.0 109.5h.65M334.8 106.3h.65M328.0 109.3h.65M346.7 112.2h.65M363.6 100.3h.65M346.4 96.3h.65M342.4 105.1h.65M346.6 109.9h.65M350.5 111.1h.65M340.4 105.7h.65M337.4 103.6h.65M322.9 104.0h.65M346.7 101.6h.65M342.8 93.5h.65M340.6 100.7h.65M348.1 107.6h.65M342.4 103.7h.65M349.2 98.8h.65M354.8 117.9h.65M349.4 101.5h.65M348.0 112.2h.65M357.0 95.9h.65M348.9 99.9h.65M342.4 106.4h.65M350.7 102.8h.65M338.9 103.3h.65M337.4 115.9h.65M332.9 108.5h.65M347.1 104.7h.65M337.2 101.4h.65M343.2 101.1h.65M344.0 105.3h.65M342.3 107.4h.65M352.3 101.1h.65M352.3 104.9h.65M341.3 107.6h.65M355.5 102.5h.65M330.6 109.6h.65M354.5 97.3h.65M344.9 107.5h.65M325.9 109.5h.65M352.1 109.7h.65M358.6 97.7h.65M354.0 119.2h.65M326.8 102.0h.65M351.9 99.8h.65M330.4 106.4h.65M347.3 99.7h.65M347.9 110.3h.65M354.4 107.1h.65M335.3 102.4h.65M326.5 97.4h.65M347.2 107.9h.65M345.6 104.2h.65M329.1 96.0h.65M336.0 100.4h.65M340.6 118.5h.65M354.3 97.6h.65M340.0 100.7h.65M340.7 100.8h.65M328.3 111.8h.65M351.4 108.4h.65M346.5 107.2h.65M342.6 91.3h.65M346.7 104.4h.65M334.4 89.6h.65M355.3 97.5h.65M343.8 99.6h.65M359.9 94.5h.65M354.5 87.7h.65M353.4 100.9h.65M326.3 104.5h.65M344.9 93.6h.65M348.6 103.9h.65M349.6 95.0h.65M339.1 97.8h.65M346.5 100.7h.65M336.9 113.1h.65M341.0 111.3h.65M352.6 99.4h.65M329.8 105.4h.65M351.3 111.8h.65M348.8 107.0h.65M340.1 99.4h.65M334.2 106.1h.65M349.5 92.5h.65M343.1 107.9h.65M359.8 114.8h.65M342.6 102.1h.65M341.6 105.7h.65M352.9 97.4h.65M344.1 100.3h.65M339.0 100.8h.65M361.3 115.6h.65M358.2 93.3h.65M348.3 119.9h.65M349.2 99.6h.65M350.8 102.5h.65M342.2 105.9h.65M349.7 103.1h.65M345.5 97.5h.65M345.3 108.9h.65M346.4 103.1h.65M333.3 111.6h.65M335.7 108.7h.65M342.6 109.5h.65M354.6 102.2h.65M319.6 90.8h.65M337.3 98.2h.65M348.2 117.3h.65M351.4 103.4h.65M357.3 103.0h.65M353.1 106.7h.65M329.1 110.6h.65M360.8 102.0h.65M352.3 107.7h.65M343.4 101.8h.65M354.3 100.1h.65M341.1 109.9h.65M353.7 114.6h.65M340.7 95.6h.65M355.1 94.2h.65M342.2 102.9h.65M360.5 104.5h.65M335.4 104.2h.65M357.2 92.5h.65M334.5 111.1h.65M346.8 97.7h.65M344.0 104.8h.65M335.9 100.6h.65M358.2 106.4h.65M355.4 104.1h.65M341.0 106.4h.65M338.0 106.7h.65M343.2 102.4h.65M343.5 98.1h.65M357.5 94.5h.65M347.7 96.1h.65M353.5 102.9h.65M347.4 107.4h.65M348.9 105.6h.65M348.9 106.6h.65M341.9 102.4h.65M343.7 99.7h.65M341.2 113.0h.65M333.5 115.4h.65M341.3 108.4h.65M345.8 103.2h.65M350.6 115.4h.65M344.8 104.1h.65M341.2 117.6h.65M355.8 111.7h.65M346.1 92.0h.65M349.9 92.7h.65M340.5 110.7h.65M340.9 99.9h.65M327.7 109.0h.65M349.4 101.2h.65M348.9 93.9h.65M337.9 105.6h.65M353.3 104.2h.65M335.3 101.2h.65M355.3 100.5h.65M347.9 107.2h.65M341.1 104.5h.65M330.5 100.6h.65M346.1 108.5h.65M356.8 101.2h.65M349.8 103.5h.65M339.1 99.3h.65M345.3 104.4h.65M339.4 122.2h.65M345.5 108.6h.65M343.5 122.4h.65M326.8 102.0h.65M347.3 112.0h.65M345.3 97.9h.65M359.1 108.6h.65M343.5 102.7h.65M343.6 105.3h.65M331.2 105.2h.65M340.6 107.4h.65M348.5 97.5h.65M357.1 109.2h.65M338.0 97.4h.65M339.9 106.5h.65M356.4 98.4h.65M339.1 107.6h.65M345.2 103.9h.65M344.6 102.2h.65M360.5 110.6h.65M342.9 112.4h.65M361.6 107.3h.65M348.3 101.1h.65M346.7 105.7h.65M356.7 98.1h.65M331.9 101.0h.65M348.8 91.3h.65M343.9 99.0h.65M336.1 105.1h.65M355.5 95.4h.65M347.6 103.1h.65M351.1 104.2h.65M340.3 109.9h.65M349.2 97.6h.65M328.7 99.6h.65M347.3 109.2h.65M340.7 101.7h.65M330.3 101.2h.65M346.5 100.4h.65M344.7 97.8h.65M337.9 105.9h.65M332.4 104.2h.65M355.5 100.4h.65M341.3 98.7h.65M334.5 100.3h.65M334.7 102.6h.65M340.8 96.7h.65M345.6 110.5h.65M352.0 102.2h.65M345.1 97.2h.65M343.2 108.2h.65M351.7 112.6h.65M332.5 114.0h.65M348.4 113.9h.65M345.3 111.8h.65M345.0 97.1h.65M347.9 100.6h.65M344.9 107.2h.65M351.7 108.1h.65M353.3 93.9h.65M354.9 98.5h.65M345.9 101.2h.65M335.5 109.6h.65M336.6 100.3h.65M357.4 89.4h.65M331.0 110.0h.65M341.7 108.9h.65M345.1 100.8h.65M351.1 99.3h.65M340.5 105.4h.65M335.9 94.6h.65M331.2 109.9h.65M361.4 111.5h.65M339.8 100.5h.65M336.8 103.9h.65M354.0 103.4h.65M345.0 83.0h.65M347.8 96.2h.65M343.1 106.2h.65M346.3 108.7h.65M358.2 89.2h.65M332.1 114.6h.65M349.4 99.3h.65M343.1 104.1h.65M354.3 101.9h.65M345.3 95.4h.65M357.8 107.0h.65M341.4 95.4h.65M345.2 109.8h.65M365.0 116.5h.65M342.3 101.4h.65M337.2 107.1h.65M339.1 107.9h.65M348.3 106.9h.65M337.3 111.7h.65M343.9 96.3h.65M345.3 105.4h.65M346.1 110.4h.65M355.9 119.0h.65M344.9 112.1h.65M323.6 116.5h.65M345.5 112.5h.65M343.7 107.8h.65M351.0 100.3h.65M340.9 85.5h.65M350.5 103.3h.65M343.8 112.3h.65M348.7 105.8h.65M329.6 105.3h.65M343.3 110.7h.65M341.5 96.3h.65M343.8 116.4h.65M338.3 112.7h.65M344.3 91.1h.65M351.1 119.7h.65M349.6 97.4h.65M343.9 98.6h.65M370.3 107.9h.65M325.5 109.7h.65M349.6 97.6h.65M340.6 103.9h.65M360.5 100.9h.65M339.3 110.6h.65M340.3 97.5h.65M344.6 109.7h.65M347.0 101.9h.65M358.1 113.4h.65M332.1 96.8h.65M337.9 102.9h.65M347.2 103.8h.65M346.4 107.3h.65M334.8 90.1h.65M348.3 112.5h.65M347.4 101.6h.65M350.6 102.2h.65M334.7 101.9h.65M352.3 106.5h.65M351.6 101.1h.65M350.6 113.7h.65M343.0 101.2h.65M356.3 105.0h.65M335.9 101.7h.65M357.1 106.8h.65M361.8 108.6h.65M348.1 111.3h.65M340.7 111.4h.65M345.2 102.8h.65M349.3 101.4h.65M336.4 98.6h.65M350.4 106.4h.65M346.7 109.2h.65M338.4 101.8h.65M359.8 98.3h.65M356.9 102.7h.65M350.5 106.0h.65M343.8 105.2h.65M354.1 100.0h.65M337.9 110.1h.65M342.6 103.4h.65M344.4 101.8h.65M330.7 103.9h.65M342.1 95.8h.65M341.3 106.0h.65M360.7 101.0h.65M357.4 101.6h.65M349.9 102.9h.65M352.4 105.4h.65M342.7 94.5h.65M354.4 94.8h.65M340.9 116.0h.65M348.1 105.1h.65M347.1 106.1h.65M343.2 106.7h.65M344.7 102.4h.65M350.0 108.6h.65M349.0 110.7h.65M361.9 115.7h.65M347.0 97.5h.65M355.8 105.3h.65M352.7 102.3h.65M353.4 97.4h.65M347.6 96.0h.65M363.2 103.0h.65M328.6 112.9h.65M354.4 113.5h.65M336.8 107.1h.65M357.4 103.5h.65M349.6 103.3h.65M343.7 113.6h.65M339.8 105.0h.65M351.2 105.0h.65M353.4 92.0h.65M355.9 97.2h.65M344.6 102.6h.65M350.3 103.6h.65M342.8 109.2h.65M363.6 100.9h.65M340.8 101.0h.65M336.1 97.0h.65M342.4 109.3h.65M342.1 99.5h.65M345.4 99.6h.65M369.0 114.6h.65M346.5 93.9h.65M341.6 98.9h.65M338.9 90.8h.65M341.9 100.9h.65M340.6 96.4h.65M349.2 99.2h.65M327.3 98.1h.65M352.9 112.3h.65M336.7 103.5h.65M350.8 110.4h.65M342.2 106.4h.65M342.5 93.0h.65M353.7 104.1h.65M349.6 103.2h.65M338.7 101.4h.65M348.9 96.4h.65M358.9 119.1h.65M327.1 110.4h.65M342.4 108.4h.65M347.6 103.4h.65M353.6 105.2h.65M358.4 106.6h.65M334.1 103.5h.65M346.1 100.9h.65M335.9 117.1h.65M345.5 104.4h.65M332.6 108.2h.65M345.2 111.6h.65M360.3 100.5h.65M340.1 112.0h.65M355.2 106.6h.65M352.2 102.7h.65M346.0 104.6h.65M328.4 109.4h.65M352.7 98.8h.65M341.7 106.6h.65M352.2 104.7h.65M342.4 107.3h.65M347.2 98.3h.65M343.5 102.3h.65M351.7 96.3h.65M339.5 102.2h.65M346.4 119.7h.65M344.7 111.3h.65M352.6 112.8h.65M360.6 108.3h.65M338.2 102.4h.65M358.6 118.3h.65M356.8 119.9h.65M351.9 99.4h.65M347.0 106.5h.65M353.9 110.1h.65M338.9 112.2h.65M341.5 106.4h.65M351.6 109.1h.65M350.5 101.2h.65M345.1 110.6h.65M342.4 97.2h.65M325.0 104.8h.65M338.7 104.7h.65M337.3 101.8h.65M343.1 110.7h.65M338.8 97.0h.65M347.1 109.9h.65M338.5 107.8h.65M346.2 107.8h.65M330.6 105.2h.65M344.0 105.9h.65M340.4 103.8h.65M327.9 104.4h.65M357.4 105.8h.65M346.7 106.8h.65M357.9 100.2h.65M333.8 97.5h.65M340.4 105.1h.65M352.9 99.8h.65M337.6 110.2h.65M355.0 99.6h.65M352.4 103.3h.65M341.9 103.7h.65M338.8 93.6h.65M334.1 99.6h.65M348.5 107.0h.65M353.2 99.4h.65M345.7 95.2h.65M337.7 111.0h.65M344.8 116.5h.65M351.6 101.4h.65M340.1 91.1h.65M356.9 110.8h.65M348.7 97.7h.65M331.0 102.0h.65M345.7 95.0h.65M351.8 110.7h.65M337.6 102.8h.65M334.0 111.0h.65M338.4 97.1h.65M329.3 97.8h.65M331.2 111.3h.65M351.2 96.5h.65M338.3 103.9h.65M346.8 97.5h.65M357.3 108.5h.65M363.0 86.4h.65M332.4 109.1h.65M347.8 102.6h.65M336.1 107.7h.65M341.5 113.2h.65M355.3 110.4h.65M330.2 106.5h.65M360.9 116.4h.65M356.5 111.9h.65M339.4 114.0h.65M362.0 107.2h.65M350.3 103.5h.65M347.6 102.5h.65M350.0 103.3h.65M333.0 100.4h.65M349.4 105.8h.65M358.4 110.7h.65M357.0 104.1h.65M355.1 99.8h.65M340.2 110.3h.65M348.0 99.3h.65M354.1 114.0h.65M352.5 113.0h.65M353.9 110.5h.65M339.1 92.3h.65M343.0 83.3h.65M341.2 97.1h.65M346.9 99.8h.65M345.9 98.6h.65M343.7 114.2h.65M337.1 93.0h.65M358.0 109.5h.65M345.6 101.8h.65M348.5 102.0h.65M354.1 102.4h.65M340.5 108.0h.65M339.0 108.0h.65M335.8 100.9h.65M347.4 99.8h.65M354.3 103.8h.65M347.7 91.5h.65M350.7 105.0h.65M328.9 106.0h.65M348.7 99.7h.65M336.5 95.2h.65M346.1 104.6h.65M344.0 117.6h.65M345.6 105.4h.65M332.3 106.4h.65M353.8 98.5h.65M363.7 100.7h.65M347.1 101.9h.65M342.5 85.6h.65M353.1 90.0h.65M356.4 97.1h.65M341.3 120.7h.65M337.5 102.9h.65M335.1 103.1h.65M349.3 114.6h.65M323.4 103.9h.65M350.9 110.2h.65M339.2 104.9h.65M361.8 106.8h.65M363.9 96.5h.65M339.7 104.6h.65M337.1 108.6h.65M336.2 106.6h.65M333.0 98.8h.65M348.0 108.3h.65M337.6 94.5h.65M350.6 97.8h.65M349.2 112.9h.65M351.4 94.4h.65M356.4 111.7h.65M340.8 101.6h.65M358.1 106.5h.65M349.5 111.6h.65M350.5 122.9h.65M357.8 105.5h.65M347.0 102.5h.65M356.4 96.7h.65M353.6 100.6h.65M330.2 110.9h.65M349.7 106.4h.65M343.4 104.4h.65M340.6 113.3h.65M357.8 104.3h.65M346.2 106.5h.65M353.9 106.1h.65M342.2 103.1h.65M348.6 103.7h.65M342.8 112.7h.65M349.8 110.6h.65M338.6 110.1h.65M346.4 103.0h.65M340.4 100.5h.65M342.2 105.4h.65M345.5 117.8h.65M350.4 106.3h.65M345.5 99.5h.65M339.3 107.0h.65M333.3 115.3h.65M359.7 95.0h.65M356.6 111.9h.65M356.0 109.2h.65M360.3 99.5h.65M342.4 108.7h.65M346.8 95.4h.65M353.3 111.5h.65M344.5 107.2h.65M354.5 91.0h.65M341.6 99.1h.65M345.1 96.7h.65M335.5 106.2h.65M361.9 96.7h.65M360.1 111.0h.65M354.9 113.4h.65M342.7 112.1h.65M333.5 99.6h.65M349.2 109.8h.65M334.6 92.4h.65M349.9 106.7h.65M352.3 104.3h.65M335.2 112.2h.65M353.0 105.9h.65M365.0 106.3h.65M359.3 103.9h.65M321.5 97.2h.65M322.9 103.3h.65M356.4 93.6h.65M352.6 103.0h.65M354.1 107.2h.65M337.9 108.6h.65M346.1 110.7h.65M363.0 103.5h.65M360.4 104.2h.65M351.6 106.1h.65M340.7 105.7h.65M342.6 108.5h.65M337.4 98.6h.65M353.9 108.4h.65M351.3 108.6h.65M355.4 108.0h.65M354.3 99.8h.65M350.9 100.1h.65M335.9 103.4h.65M352.0 105.0h.65M361.7 109.3h.65M350.2 105.6h.65M335.1 105.2h.65M346.7 116.3h.65M339.8 104.1h.65M340.4 105.9h.65M331.8 106.8h.65M346.7 106.1h.65M369.0 104.4h.65M350.7 104.8h.65M355.8 119.5h.65M361.0 107.1h.65M335.7 107.7h.65M332.4 99.2h.65M341.5 97.6h.65M346.5 102.5h.65M340.2 107.3h.65M340.2 113.3h.65M351.9 102.0h.65M350.3 100.4h.65M341.1 111.6h.65M332.8 107.9h.65M362.9 90.3h.65M367.0 92.2h.65M327.2 91.0h.65M336.4 100.9h.65M330.0 103.5h.65M353.4 99.7h.65M347.4 108.8h.65M361.3 104.2h.65M352.5 108.1h.65M346.8 102.5h.65M349.5 109.3h.65M334.9 102.3h.65M349.3 106.7h.65M349.2 115.6h.65M355.4 96.4h.65M360.0 100.1h.65M339.1 111.9h.65M343.5 93.5h.65M351.7 107.7h.65M351.0 95.4h.65M353.2 100.6h.65M354.1 96.5h.65M337.9 91.6h.65M339.5 111.8h.65M348.3 100.9h.65M358.1 106.1h.65M352.9 106.9h.65M345.3 105.6h.65M350.0 112.2h.65M351.5 110.5h.65M336.6 92.2h.65M349.0 105.7h.65M350.0 98.0h.65M347.4 97.6h.65M346.9 104.1h.65M344.7 106.7h.65M341.8 104.5h.65M352.2 114.7h.65M349.7 110.0h.65M351.2 115.7h.65M364.4 100.4h.65M352.2 106.6h.65M359.9 88.4h.65M340.6 93.1h.65M358.1 106.5h.65M352.0 107.4h.65M348.6 107.4h.65M342.6 91.1h.65M349.0 104.2h.65M341.3 100.6h.65M357.5 99.7h.65M337.0 109.0h.65M358.9 96.0h.65M337.6 97.6h.65M349.5 108.3h.65M358.4 104.2h.65M344.0 100.6h.65M355.9 100.6h.65M338.9 103.1h.65M345.9 107.2h.65M340.7 116.2h.65M362.8 97.1h.65M347.3 97.9h.65M343.7 96.4h.65M343.6 106.4h.65M347.6 95.7h.65M328.7 92.3h.65M356.7 103.4h.65M346.7 114.2h.65M337.4 107.3h.65M340.2 105.8h.65M329.7 101.9h.65M345.4 105.3h.65M333.6 102.9h.65M353.7 103.9h.65M353.5 108.9h.65M348.2 102.1h.65M346.7 98.3h.65M351.8 106.7h.65M356.4 119.5h.65M353.4 108.3h.65M347.7 110.2h.65M358.1 102.7h.65M335.1 95.5h.65M354.7 107.7h.65M350.7 93.4h.65M341.2 94.2h.65M336.1 100.8h.65M340.1 115.1h.65M335.0 100.4h.65M339.5 105.0h.65M352.4 99.2h.65M331.5 101.7h.65M349.5 97.3h.65M354.5 97.8h.65M340.4 101.5h.65M362.7 109.7h.65M348.6 82.8h.65M338.0 85.0h.65M357.5 99.4h.65M347.1 85.0h.65M333.4 86.8h.65M349.8 94.0h.65M348.8 85.0h.65M349.7 88.9h.65M352.3 91.8h.65M351.6 92.4h.65M342.6 98.5h.65M338.6 94.8h.65M342.9 87.4h.65M348.0 86.3h.65M338.7 83.4h.65M338.0 90.2h.65M348.3 89.4h.65M334.9 91.0h.65M352.8 81.9h.65M339.6 96.6h.65M344.8 97.8h.65M343.6 79.8h.65M345.8 89.7h.65M348.1 84.0h.65M342.8 104.6h.65M342.1 101.3h.65M338.0 91.7h.65M348.7 96.3h.65M346.0 85.4h.65M346.8 79.5h.65M328.3 79.0h.65M357.2 96.0h.65M359.2 93.6h.65M335.6 83.0h.65M348.3 84.1h.65M339.3 82.3h.65M340.6 76.5h.65M349.1 84.9h.65M355.0 101.8h.65M345.6 97.5h.65M353.9 91.5h.65M344.8 99.1h.65M350.7 88.8h.65M342.5 90.1h.65M352.7 94.9h.65M341.8 89.0h.65M347.2 87.1h.65M345.4 83.1h.65M340.3 92.1h.65M347.7 87.9h.65M361.4 88.9h.65M351.0 92.0h.65M342.7 94.9h.65M353.8 90.2h.65M349.6 110.1h.65M339.8 88.6h.65M350.1 90.1h.65M340.3 86.7h.65M344.5 88.2h.65M346.5 101.3h.65M347.7 87.5h.65M351.0 94.7h.65M338.6 85.8h.65M338.4 92.5h.65M352.2 88.6h.65M354.8 86.1h.65M343.9 89.7h.65M347.4 101.8h.65M338.3 94.1h.65M346.7 98.4h.65M336.8 82.0h.65M358.1 99.0h.65M353.7 89.3h.65M353.6 90.2h.65M338.5 89.2h.65M344.3 82.9h.65M342.1 85.3h.65M349.8 97.0h.65M354.0 97.8h.65M338.7 94.2h.65M351.8 93.0h.65M339.5 69.8h.65M347.2 84.3h.65M352.4 79.8h.65M350.0 87.1h.65M336.8 87.0h.65M345.1 95.9h.65M351.7 98.8h.65M351.4 86.9h.65M343.0 91.2h.65M343.7 78.5h.65M331.7 95.4h.65M346.9 103.9h.65M342.5 97.4h.65M347.1 93.5h.65M346.6 97.8h.65M349.7 86.8h.65M345.4 88.5h.65M346.7 91.7h.65M343.1 86.0h.65M346.0 77.7h.65M348.9 92.7h.65M324.3 82.4h.65M345.9 74.3h.65M349.1 97.0h.65M349.4 96.7h.65M345.3 96.0h.65M351.0 89.2h.65M346.7 78.4h.65M336.6 97.1h.65M353.3 84.3h.65M335.3 76.1h.65M354.1 92.4h.65M359.4 98.9h.65M360.3 95.9h.65M342.1 87.6h.65M353.8 80.0h.65M350.0 87.1h.65M355.1 86.1h.65M340.9 96.7h.65M323.4 97.5h.65M348.1 85.8h.65M350.7 86.6h.65M350.4 90.6h.65M351.3 83.3h.65M341.3 102.9h.65M348.2 88.7h.65M339.6 86.3h.65M347.6 81.5h.65M345.7 88.2h.65M332.2 90.0h.65M354.6 86.9h.65M344.5 91.8h.65M341.7 77.7h.65M346.2 86.8h.65M341.4 99.7h.65M346.7 84.7h.65M341.1 101.1h.65M351.6 77.5h.65M350.2 86.5h.65M341.9 97.8h.65M351.0 84.0h.65M345.8 94.4h.65M345.1 92.9h.65M341.1 99.0h.65M356.2 85.3h.65M336.0 86.6h.65M352.1 91.4h.65M345.6 91.2h.65M335.6 89.7h.65M345.2 85.5h.65M351.5 85.4h.65M341.5 94.9h.65M350.4 90.5h.65M347.6 92.7h.65M348.3 83.1h.65M351.8 104.1h.65M348.7 88.1h.65M354.2 94.4h.65M340.7 89.3h.65M341.9 97.2h.65M336.8 98.8h.65M341.2 92.1h.65M342.9 92.7h.65M354.2 94.4h.65M337.4 88.2h.65M346.9 103.2h.65M342.4 87.2h.65M340.6 89.6h.65M350.6 83.0h.65M355.9 98.9h.65M351.7 94.4h.65M363.2 82.6h.65M342.1 105.1h.65M337.4 92.2h.65M344.8 83.4h.65M339.3 88.5h.65M347.9 93.5h.65M350.2 90.5h.65M346.2 94.3h.65M341.5 80.6h.65M351.9 75.4h.65M349.9 99.0h.65M337.2 74.3h.65M340.0 92.2h.65M339.2 97.3h.65M350.5 83.0h.65M351.4 79.8h.65M342.8 91.6h.65M355.3 95.6h.65M356.6 79.8h.65M368.6 83.8h.65M347.9 101.0h.65M349.6 98.5h.65M337.3 82.0h.65M342.8 86.0h.65M346.8 87.7h.65M337.7 91.5h.65M336.0 85.1h.65M348.2 83.6h.65M345.8 94.6h.65M356.5 98.5h.65M352.2 93.5h.65M337.1 83.9h.65M339.8 86.1h.65M345.0 83.2h.65M342.9 97.8h.65M342.8 76.2h.65M343.9 88.9h.65M343.4 105.1h.65M352.5 101.9h.65M341.6 95.3h.65M347.7 89.3h.65M340.0 91.4h.65M332.2 96.7h.65M365.6 100.4h.65M331.1 91.2h.65M340.6 85.5h.65M344.0 98.2h.65M351.0 83.9h.65M349.8 90.9h.65M360.2 79.5h.65M345.0 83.2h.65M345.6 75.5h.65M339.3 89.0h.65M341.6 83.6h.65M344.9 85.8h.65M339.3 88.1h.65M346.0 92.1h.65M333.6 86.9h.65M354.1 79.6h.65M346.7 86.3h.65M353.4 98.4h.65M347.6 86.2h.65M334.6 86.0h.65M339.8 90.0h.65M356.6 103.1h.65M347.9 90.7h.65M344.9 91.9h.65M344.4 102.1h.65M340.5 90.6h.65M341.5 96.4h.65M358.4 94.5h.65M347.2 90.2h.65M349.9 86.6h.65M357.4 102.2h.65M352.9 95.6h.65M343.1 102.7h.65M336.3 84.9h.65M360.8 87.1h.65M306.9 97.1h.65M325.3 114.1h.65M317.1 97.3h.65M314.2 102.4h.65M324.1 115.8h.65M319.5 109.6h.65M330.5 117.2h.65M303.4 109.8h.65M303.5 102.6h.65M326.6 100.5h.65M313.6 114.6h.65M319.8 97.4h.65M314.3 105.8h.65M306.4 119.4h.65M315.9 107.5h.65M325.6 108.2h.65M302.3 107.3h.65M319.7 108.2h.65M326.0 112.5h.65M320.6 106.4h.65M316.0 118.8h.65M299.3 114.1h.65M320.0 103.3h.65M315.5 111.0h.65M301.8 108.4h.65M321.4 102.1h.65M317.0 115.7h.65M317.7 102.3h.65M300.0 97.0h.65M325.4 106.3h.65M314.8 106.2h.65M308.5 117.8h.65M322.6 116.2h.65M303.9 111.0h.65M322.2 100.7h.65M307.1 102.6h.65M325.8 108.8h.65M308.7 111.6h.65M309.2 108.2h.65M315.0 102.4h.65M325.1 107.8h.65M293.2 106.3h.65M330.5 94.2h.65M324.7 108.8h.65M303.7 107.3h.65M304.6 98.4h.65M319.5 109.1h.65M298.0 104.3h.65M316.0 98.1h.65M326.4 103.1h.65M319.6 111.2h.65M306.4 109.5h.65M316.9 109.8h.65M311.4 113.2h.65M322.7 116.5h.65M326.2 99.4h.65M310.2 110.0h.65M325.5 103.3h.65M315.8 109.3h.65M314.7 113.4h.65M306.0 110.4h.65M307.9 110.0h.65M306.6 105.8h.65M324.8 101.8h.65M316.4 111.2h.65M314.6 105.8h.65M315.8 102.2h.65M323.1 111.7h.65M332.7 109.1h.65M326.4 104.5h.65M320.4 102.0h.65M318.1 105.6h.65M325.1 95.5h.65M314.1 105.7h.65M322.2 103.2h.65M311.6 114.8h.65M309.6 105.2h.65M326.9 95.1h.65M319.7 109.4h.65M318.3 97.0h.65M301.9 102.6h.65M307.4 111.3h.65M311.4 115.7h.65M315.5 111.0h.65M309.2 103.9h.65M319.9 112.6h.65M309.3 115.0h.65M313.4 116.6h.65M303.7 105.4h.65M322.1 107.0h.65M310.1 111.2h.65M325.0 105.1h.65M323.2 104.9h.65M308.0 115.0h.65M310.2 104.6h.65M323.2 101.7h.65M306.6 105.9h.65M316.6 112.9h.65M313.9 103.6h.65M303.2 105.6h.65M311.2 113.9h.65M300.0 97.0h.65M297.5 106.0h.65M319.9 116.8h.65M299.9 108.3h.65M309.6 116.8h.65M319.0 116.3h.65M315.4 113.6h.65M319.1 103.6h.65M324.8 105.6h.65M293.6 106.7h.65M303.6 110.4h.65M330.6 109.1h.65M321.0 100.1h.65M307.8 103.9h.65M334.7 104.9h.65M318.3 96.6h.65M310.6 108.1h.65M314.2 105.6h.65M319.8 110.2h.65M303.7 99.5h.65M321.0 112.1h.65M302.2 111.3h.65M301.8 106.3h.65M328.0 97.7h.65M315.4 106.0h.65M304.3 111.8h.65M306.2 103.3h.65M304.6 109.8h.65M320.9 115.3h.65M313.0 102.3h.65M330.1 103.6h.65M322.1 116.8h.65M323.2 96.5h.65M305.1 102.6h.65M323.6 102.6h.65M322.9 108.5h.65M316.9 107.0h.65M307.8 115.3h.65M316.5 116.1h.65M306.3 97.1h.65M329.0 100.2h.65M316.3 104.9h.65M313.6 105.1h.65M304.3 100.0h.65M317.2 102.8h.65M332.1 107.5h.65M328.9 104.2h.65M322.9 103.5h.65M305.7 105.6h.65M313.0 122.4h.65M301.8 103.1h.65M322.0 106.0h.65M316.4 111.6h.65M313.6 102.7h.65M301.5 106.5h.65M320.3 108.2h.65M326.5 104.5h.65M317.7 102.0h.65M295.8 110.4h.65M310.2 110.7h.65M308.7 97.7h.65M305.8 105.1h.65M308.0 105.2h.65M320.3 106.8h.65M319.4 106.0h.65M308.0 101.0h.65M293.0 110.4h.65M325.7 101.0h.65M305.3 101.7h.65M318.1 107.4h.65M312.4 106.5h.65M298.2 106.1h.65M312.8 109.7h.65M307.6 103.7h.65M316.8 122.7h.65M308.7 118.9h.65M305.6 107.2h.65M305.5 115.0h.65M316.1 108.0h.65M324.9 114.6h.65M308.3 108.4h.65M309.9 113.8h.65M294.0 119.9h.65M312.6 94.6h.65M317.6 101.9h.65M315.2 107.6h.65M325.4 96.0h.65M318.8 113.8h.65M302.0 111.4h.65M322.9 103.7h.65M295.9 107.8h.65M310.2 116.2h.65M312.6 111.1h.65M318.3 108.1h.65M302.6 102.6h.65M315.9 106.4h.65M313.8 111.5h.65M315.4 111.2h.65M315.8 109.2h.65M309.7 98.0h.65M323.3 112.1h.65M321.3 102.1h.65M325.8 107.5h.65M316.6 102.9h.65M310.0 103.2h.65M318.5 102.9h.65M314.6 103.7h.65M302.2 107.2h.65M316.2 107.4h.65M285.6 113.1h.65M314.8 101.2h.65M333.8 107.1h.65M322.2 107.7h.65M292.0 114.0h.65M303.6 113.4h.65M313.6 101.8h.65M290.6 104.1h.65M304.9 107.1h.65M304.0 111.2h.65M297.4 87.7h.65M332.3 107.2h.65M295.9 100.6h.65M282.4 82.9h.65M302.3 83.0h.65M290.9 104.9h.65M296.4 81.9h.65M296.4 84.3h.65M315.6 99.3h.65M284.0 115.8h.65M319.6 90.2h.65M291.1 95.0h.65M296.8 102.8h.65M304.2 114.7h.65M282.3 85.0h.65M308.6 86.9h.65M298.9 76.5h.65M331.0 91.8h.65M314.2 82.4h.65M298.3 93.5h.65M327.3 116.1h.65M333.2 118.5h.65M325.1 91.3h.65M295.2 115.2h.65M294.9 103.0h.65M296.3 78.2h.65M305.5 80.6h.65M300.5 108.4h.65M302.0 110.3h.65M298.5 100.1h.65" stroke="#111" stroke-width=".65" fill="none"/>
<rect x="164.6" y="35.4" width="97.4" height="98.29999999999998" fill="none" stroke="#111" stroke-width="1.2"/>
<line x1="217.40" y1="35.40" x2="217.40" y2="133.70" stroke="#000" stroke-width="1.1"/>
<line x1="164.60" y1="95.40" x2="262.00" y2="95.40" stroke="#000" stroke-width="1.1"/>
<path d="M164.6 133.7v2.2M164.6 133.7h-2.2M171.9 133.7v1.2M164.6 126.3h-1.2M176.3 133.7v1.2M164.6 121.9h-1.2M179.2 133.7v1.2M164.6 119.0h-1.2M181.6 133.7v1.2M164.6 116.5h-1.2M183.6 133.7v1.2M164.6 114.5h-1.2M185.3 133.7v1.2M164.6 112.8h-1.2M186.5 133.7v1.2M164.6 111.6h-1.2M187.7 133.7v1.2M164.6 110.4h-1.2M188.9 133.7v2.2M164.6 109.1h-2.2M196.3 133.7v1.2M164.6 101.8h-1.2M200.6 133.7v1.2M164.6 97.3h-1.2M203.6 133.7v1.2M164.6 94.4h-1.2M206.0 133.7v1.2M164.6 91.9h-1.2M207.9 133.7v1.2M164.6 90.0h-1.2M209.6 133.7v1.2M164.6 88.2h-1.2M210.9 133.7v1.2M164.6 87.0h-1.2M212.1 133.7v1.2M164.6 85.8h-1.2M213.3 133.7v2.2M164.6 84.5h-2.2M220.6 133.7v1.2M164.6 77.2h-1.2M225.0 133.7v1.2M164.6 72.8h-1.2M227.9 133.7v1.2M164.6 69.8h-1.2M230.3 133.7v1.2M164.6 67.3h-1.2M232.3 133.7v1.2M164.6 65.4h-1.2M234.0 133.7v1.2M164.6 63.7h-1.2M235.2 133.7v1.2M164.6 62.4h-1.2M236.4 133.7v1.2M164.6 61.2h-1.2M237.7 133.7v2.2M164.6 60.0h-2.2M245.0 133.7v1.2M164.6 52.6h-1.2M249.3 133.7v1.2M164.6 48.2h-1.2M252.3 133.7v1.2M164.6 45.2h-1.2M254.7 133.7v1.2M164.6 42.8h-1.2M256.6 133.7v1.2M164.6 40.8h-1.2M258.3 133.7v1.2M164.6 39.1h-1.2M259.6 133.7v1.2M164.6 37.9h-1.2M260.8 133.7v1.2M164.6 36.6h-1.2" stroke="#333" stroke-width=".6" fill="none"/>
<rect x="274.6" y="35.4" width="98.59999999999997" height="98.29999999999998" fill="none" stroke="#111" stroke-width="1.2"/>
<line x1="327.40" y1="35.40" x2="327.40" y2="133.70" stroke="#000" stroke-width="1.1"/>
<line x1="274.60" y1="95.40" x2="373.20" y2="95.40" stroke="#000" stroke-width="1.1"/>
<path d="M274.6 133.7v2.2M274.6 133.7h-2.2M282.0 133.7v1.2M274.6 126.3h-1.2M286.4 133.7v1.2M274.6 121.9h-1.2M289.4 133.7v1.2M274.6 119.0h-1.2M291.9 133.7v1.2M274.6 116.5h-1.2M293.8 133.7v1.2M274.6 114.5h-1.2M295.6 133.7v1.2M274.6 112.8h-1.2M296.8 133.7v1.2M274.6 111.6h-1.2M298.0 133.7v1.2M274.6 110.4h-1.2M299.2 133.7v2.2M274.6 109.1h-2.2M306.6 133.7v1.2M274.6 101.8h-1.2M311.1 133.7v1.2M274.6 97.3h-1.2M314.0 133.7v1.2M274.6 94.4h-1.2M316.5 133.7v1.2M274.6 91.9h-1.2M318.5 133.7v1.2M274.6 90.0h-1.2M320.2 133.7v1.2M274.6 88.2h-1.2M321.4 133.7v1.2M274.6 87.0h-1.2M322.7 133.7v1.2M274.6 85.8h-1.2M323.9 133.7v2.2M274.6 84.5h-2.2M331.3 133.7v1.2M274.6 77.2h-1.2M335.7 133.7v1.2M274.6 72.8h-1.2M338.7 133.7v1.2M274.6 69.8h-1.2M341.2 133.7v1.2M274.6 67.3h-1.2M343.1 133.7v1.2M274.6 65.4h-1.2M344.9 133.7v1.2M274.6 63.7h-1.2M346.1 133.7v1.2M274.6 62.4h-1.2M347.3 133.7v1.2M274.6 61.2h-1.2M348.6 133.7v2.2M274.6 60.0h-2.2M355.9 133.7v1.2M274.6 52.6h-1.2M360.4 133.7v1.2M274.6 48.2h-1.2M363.3 133.7v1.2M274.6 45.2h-1.2M365.8 133.7v1.2M274.6 42.8h-1.2M367.8 133.7v1.2M274.6 40.8h-1.2M369.5 133.7v1.2M274.6 39.1h-1.2M370.7 133.7v1.2M274.6 37.9h-1.2M372.0 133.7v1.2M274.6 36.6h-1.2" stroke="#333" stroke-width=".6" fill="none"/>
<text x="166.30" y="49.80" font-size="16.5" textLength="22.30" lengthAdjust="spacingAndGlyphs" fill="#111">2.4</text>
<text x="232.20" y="49.80" font-size="16.5" textLength="28.80" lengthAdjust="spacingAndGlyphs" fill="#111">19.3</text>
<text x="165.20" y="133.10" font-size="16.5" textLength="22.80" lengthAdjust="spacingAndGlyphs" fill="#111">9.6</text>
<text x="230.60" y="133.10" font-size="16.5" textLength="30.40" lengthAdjust="spacingAndGlyphs" fill="#111">68.7</text>
<text x="276.30" y="49.80" font-size="16.5" textLength="21.70" lengthAdjust="spacingAndGlyphs" fill="#111">0.2</text>
<text x="349.80" y="49.80" font-size="16.5" textLength="22.80" lengthAdjust="spacingAndGlyphs" fill="#111">4.2</text>
<text x="275.60" y="133.10" font-size="16.5" textLength="22.40" lengthAdjust="spacingAndGlyphs" fill="#111">2.0</text>
<text x="342.30" y="133.10" font-size="16.5" textLength="29.50" lengthAdjust="spacingAndGlyphs" fill="#111">93.6</text>
<text transform="translate(156.00,110.90) rotate(-90)" font-size="16" textLength="52.80" lengthAdjust="spacingAndGlyphs" fill="#111">FOXP3</text>
<line x1="165.50" y1="150.80" x2="227.00" y2="150.80" stroke="#000" stroke-width="1.5"/>
<text x="235.80" y="155.20" font-size="15.5" textLength="64.70" lengthAdjust="spacingAndGlyphs" fill="#111">ΔLNGFR</text>
<line x1="306.25" y1="150.80" x2="362.00" y2="150.80" stroke="#000" stroke-width="1.5"/>
<path d="M373.2 150.8L357.3 144.4L360.9 150.8L357.3 157.2Z" fill="#111"/>
<text x="5.00" y="184.50" font-size="19" textLength="14.20" lengthAdjust="spacingAndGlyphs" font-weight="bold" fill="#000">B</text>
<text x="70.30" y="190.00" font-size="15.5" textLength="106.50" lengthAdjust="spacingAndGlyphs" fill="#111">1 bead : 8 cells</text>
<text x="216.00" y="189.80" font-size="15.5" textLength="115.40" lengthAdjust="spacingAndGlyphs" fill="#111">1 bead : 32 cells</text>
<text x="375.20" y="189.80" font-size="15.5" textLength="122.40" lengthAdjust="spacingAndGlyphs" fill="#111">1 bead : 128 cells</text>
<circle cx="113.70" cy="205.70" r="2.50" fill="#fff" stroke="#111" stroke-width="1.6"/>
<rect x="111.20" y="219.50" width="5" height="5" fill="#111"/>
<text x="124.30" y="210.00" font-size="13.5" textLength="56.50" lengthAdjust="spacingAndGlyphs" fill="#111">siFOXP3</text>
<text x="124.30" y="224.20" font-size="13.5" textLength="33.00" lengthAdjust="spacingAndGlyphs" fill="#111">siLuc</text>
<text transform="translate(25.60,300.80) rotate(-90)" font-size="15.5" textLength="71.40" lengthAdjust="spacingAndGlyphs" fill="#111">% FOXP3</text>
<text transform="translate(21.3,229.6) rotate(-90)" font-size="11" fill="#111">+</text>
<line x1="52.30" y1="209.40" x2="52.30" y2="317.90" stroke="#000" stroke-width="1.3"/>
<line x1="49.20" y1="317.30" x2="197.00" y2="317.30" stroke="#000" stroke-width="1.3"/>
<line x1="48.50" y1="210.10" x2="52.30" y2="210.10" stroke="#000" stroke-width="1.2"/>
<line x1="48.50" y1="263.70" x2="52.30" y2="263.70" stroke="#000" stroke-width="1.2"/>
<line x1="48.50" y1="317.30" x2="52.30" y2="317.30" stroke="#000" stroke-width="1.2"/>
<line x1="49.00" y1="236.90" x2="52.30" y2="236.90" stroke="#000" stroke-width="1.1"/>
<line x1="49.00" y1="290.50" x2="52.30" y2="290.50" stroke="#000" stroke-width="1.1"/>
<line x1="70.50" y1="317.30" x2="70.50" y2="320.80" stroke="#000" stroke-width="1.2"/>
<line x1="106.80" y1="317.30" x2="106.80" y2="320.80" stroke="#000" stroke-width="1.2"/>
<line x1="143.00" y1="317.30" x2="143.00" y2="320.80" stroke="#000" stroke-width="1.2"/>
<line x1="179.10" y1="317.30" x2="179.10" y2="320.80" stroke="#000" stroke-width="1.2"/>
<path d="M70.50 215.40V250.90M67.25 215.40H73.75M67.25 250.90H73.75" stroke="#111" stroke-width="1.35" fill="none"/>
<path d="M106.80 238.20V279.10M103.55 238.20H110.05M103.55 279.10H110.05" stroke="#111" stroke-width="1.35" fill="none"/>
<path d="M143.00 270.80V283.40M139.75 270.80H146.25M139.75 283.40H146.25" stroke="#111" stroke-width="1.35" fill="none"/>
<path d="M179.10 294.20V305.60M175.85 294.20H182.35M175.85 305.60H182.35" stroke="#111" stroke-width="1.35" fill="none"/>
<path d="M70.50 271.30V299.90M67.25 271.30H73.75M67.25 299.90H73.75" stroke="#111" stroke-width="1.35" fill="none"/>
<path d="M106.80 282.70V307.40M103.55 282.70H110.05M103.55 307.40H110.05" stroke="#111" stroke-width="1.35" fill="none"/>
<path d="M143.00 275.80V301.80M139.75 275.80H146.25M139.75 301.80H146.25" stroke="#111" stroke-width="1.35" fill="none"/>
<path d="M179.10 291.50V318.80M175.85 291.50H182.35M175.85 318.80H182.35" stroke="#111" stroke-width="1.35" fill="none"/>
<polyline points="70.50,232.90 106.80,258.60 143.00,277.30 179.10,299.90" fill="none" stroke="#111" stroke-width="1.4500000000000002"/>
<polyline points="70.50,285.40 106.80,295.00 143.00,288.80 179.10,305.10" fill="none" stroke="#111" stroke-width="1.4500000000000002"/>
<rect x="68.10" y="230.50" width="4.8" height="4.8" fill="#111"/>
<rect x="104.40" y="256.20" width="4.8" height="4.8" fill="#111"/>
<rect x="140.60" y="274.90" width="4.8" height="4.8" fill="#111"/>
<rect x="176.70" y="297.50" width="4.8" height="4.8" fill="#111"/>
<circle cx="70.50" cy="285.40" r="2.35" fill="#fff" stroke="#111" stroke-width="1.3"/>
<circle cx="106.80" cy="295.00" r="2.35" fill="#fff" stroke="#111" stroke-width="1.3"/>
<circle cx="143.00" cy="288.80" r="2.35" fill="#fff" stroke="#111" stroke-width="1.3"/>
<circle cx="179.10" cy="305.10" r="2.35" fill="#fff" stroke="#111" stroke-width="1.3"/>
<text x="28.30" y="214.90" font-size="16" textLength="18.20" lengthAdjust="spacingAndGlyphs" fill="#111">40</text>
<text x="28.30" y="268.70" font-size="16" textLength="18.20" lengthAdjust="spacingAndGlyphs" fill="#111">20</text>
<text x="35.60" y="321.90" font-size="16" textLength="9.60" lengthAdjust="spacingAndGlyphs" fill="#111">0</text>
<line x1="207.60" y1="210.10" x2="207.60" y2="317.90" stroke="#000" stroke-width="1.3"/>
<line x1="203.80" y1="317.30" x2="351.80" y2="317.30" stroke="#000" stroke-width="1.3"/>
<line x1="203.80" y1="225.80" x2="207.60" y2="225.80" stroke="#000" stroke-width="1.2"/>
<line x1="203.80" y1="256.30" x2="207.60" y2="256.30" stroke="#000" stroke-width="1.2"/>
<line x1="203.80" y1="286.80" x2="207.60" y2="286.80" stroke="#000" stroke-width="1.2"/>
<line x1="203.80" y1="317.30" x2="207.60" y2="317.30" stroke="#000" stroke-width="1.2"/>
<line x1="204.30" y1="210.55" x2="207.60" y2="210.55" stroke="#000" stroke-width="1.1"/>
<line x1="204.30" y1="241.05" x2="207.60" y2="241.05" stroke="#000" stroke-width="1.1"/>
<line x1="204.30" y1="271.55" x2="207.60" y2="271.55" stroke="#000" stroke-width="1.1"/>
<line x1="204.30" y1="302.05" x2="207.60" y2="302.05" stroke="#000" stroke-width="1.1"/>
<line x1="225.50" y1="317.30" x2="225.50" y2="320.80" stroke="#000" stroke-width="1.2"/>
<line x1="261.70" y1="317.30" x2="261.70" y2="320.80" stroke="#000" stroke-width="1.2"/>
<line x1="297.60" y1="317.30" x2="297.60" y2="320.80" stroke="#000" stroke-width="1.2"/>
<line x1="333.90" y1="317.30" x2="333.90" y2="320.80" stroke="#000" stroke-width="1.2"/>
<path d="M225.50 231.70V260.00M222.25 231.70H228.75M222.25 260.00H228.75" stroke="#111" stroke-width="1.35" fill="none"/>
<path d="M261.70 224.60V266.60M258.45 224.60H264.95M258.45 266.60H264.95" stroke="#111" stroke-width="1.35" fill="none"/>
<path d="M297.60 245.30V268.20M294.35 245.30H300.85M294.35 268.20H300.85" stroke="#111" stroke-width="1.35" fill="none"/>
<path d="M333.90 241.90V293.30M330.65 241.90H337.15M330.65 293.30H337.15" stroke="#111" stroke-width="1.35" fill="none"/>
<path d="M225.50 275.60V303.30M222.25 275.60H228.75M222.25 303.30H228.75" stroke="#111" stroke-width="1.35" fill="none"/>
<path d="M261.70 258.90V302.10M258.45 258.90H264.95M258.45 302.10H264.95" stroke="#111" stroke-width="1.35" fill="none"/>
<path d="M297.60 261.50V303.80M294.35 261.50H300.85M294.35 303.80H300.85" stroke="#111" stroke-width="1.35" fill="none"/>
<path d="M333.90 290.00V314.20M330.65 290.00H337.15M330.65 314.20H337.15" stroke="#111" stroke-width="1.35" fill="none"/>
<polyline points="225.50,245.90 261.70,245.50 297.60,256.60 333.90,267.50" fill="none" stroke="#111" stroke-width="1.4500000000000002"/>
<polyline points="225.50,289.50 261.70,280.50 297.60,282.70 333.90,302.10" fill="none" stroke="#111" stroke-width="1.4500000000000002"/>
<rect x="223.10" y="243.50" width="4.8" height="4.8" fill="#111"/>
<rect x="259.30" y="243.10" width="4.8" height="4.8" fill="#111"/>
<rect x="295.20" y="254.20" width="4.8" height="4.8" fill="#111"/>
<rect x="331.50" y="265.10" width="4.8" height="4.8" fill="#111"/>
<circle cx="225.50" cy="289.50" r="2.35" fill="#fff" stroke="#111" stroke-width="1.3"/>
<circle cx="261.70" cy="280.50" r="2.35" fill="#fff" stroke="#111" stroke-width="1.3"/>
<circle cx="297.60" cy="282.70" r="2.35" fill="#fff" stroke="#111" stroke-width="1.3"/>
<circle cx="333.90" cy="302.10" r="2.35" fill="#fff" stroke="#111" stroke-width="1.3"/>
<line x1="294.40" y1="264.90" x2="300.80" y2="264.90" stroke="#000" stroke-width="1.3"/>
<text x="184.50" y="231.30" font-size="15.5" textLength="17.40" lengthAdjust="spacingAndGlyphs" fill="#111">30</text>
<text x="184.50" y="261.60" font-size="15.5" textLength="17.40" lengthAdjust="spacingAndGlyphs" fill="#111">20</text>
<text x="184.50" y="292.20" font-size="15.5" textLength="17.40" lengthAdjust="spacingAndGlyphs" fill="#111">10</text>
<line x1="363.90" y1="208.40" x2="363.90" y2="317.90" stroke="#000" stroke-width="1.3"/>
<line x1="360.60" y1="317.30" x2="510.80" y2="317.30" stroke="#000" stroke-width="1.3"/>
<line x1="360.10" y1="230.70" x2="363.90" y2="230.70" stroke="#000" stroke-width="1.2"/>
<line x1="360.10" y1="274.00" x2="363.90" y2="274.00" stroke="#000" stroke-width="1.2"/>
<line x1="360.10" y1="317.30" x2="363.90" y2="317.30" stroke="#000" stroke-width="1.2"/>
<line x1="360.60" y1="209.05" x2="363.90" y2="209.05" stroke="#000" stroke-width="1.1"/>
<line x1="360.60" y1="252.35" x2="363.90" y2="252.35" stroke="#000" stroke-width="1.1"/>
<line x1="360.60" y1="295.65" x2="363.90" y2="295.65" stroke="#000" stroke-width="1.1"/>
<line x1="382.50" y1="317.30" x2="382.50" y2="320.80" stroke="#000" stroke-width="1.2"/>
<line x1="419.00" y1="317.30" x2="419.00" y2="320.80" stroke="#000" stroke-width="1.2"/>
<line x1="455.50" y1="317.30" x2="455.50" y2="320.80" stroke="#000" stroke-width="1.2"/>
<line x1="492.20" y1="317.30" x2="492.20" y2="320.80" stroke="#000" stroke-width="1.2"/>
<path d="M382.50 244.10V274.40M379.25 244.10H385.75M379.25 274.40H385.75" stroke="#111" stroke-width="1.35" fill="none"/>
<path d="M419.00 249.30V276.20M415.75 249.30H422.25M415.75 276.20H422.25" stroke="#111" stroke-width="1.35" fill="none"/>
<path d="M455.50 232.00V273.80M452.25 232.00H458.75M452.25 273.80H458.75" stroke="#111" stroke-width="1.35" fill="none"/>
<path d="M492.20 242.10V298.70M488.95 242.10H495.45M488.95 298.70H495.45" stroke="#111" stroke-width="1.35" fill="none"/>
<path d="M382.50 288.60V307.70M379.25 288.60H385.75M379.25 307.70H385.75" stroke="#111" stroke-width="1.35" fill="none"/>
<path d="M419.00 257.10V304.40M415.75 257.10H422.25M415.75 304.40H422.25" stroke="#111" stroke-width="1.35" fill="none"/>
<path d="M455.50 260.20V305.10M452.25 260.20H458.75M452.25 305.10H458.75" stroke="#111" stroke-width="1.35" fill="none"/>
<path d="M492.20 298.00V315.60M488.95 298.00H495.45M488.95 315.60H495.45" stroke="#111" stroke-width="1.35" fill="none"/>
<polyline points="382.50,259.20 419.00,262.70 455.50,252.80 492.20,270.40" fill="none" stroke="#111" stroke-width="1.4500000000000002"/>
<polyline points="382.50,297.80 419.00,280.80 455.50,282.70 492.20,306.80" fill="none" stroke="#111" stroke-width="1.4500000000000002"/>
<rect x="380.10" y="256.80" width="4.8" height="4.8" fill="#111"/>
<rect x="416.60" y="260.30" width="4.8" height="4.8" fill="#111"/>
<rect x="453.10" y="250.40" width="4.8" height="4.8" fill="#111"/>
<rect x="489.80" y="268.00" width="4.8" height="4.8" fill="#111"/>
<circle cx="382.50" cy="297.80" r="2.35" fill="#fff" stroke="#111" stroke-width="1.3"/>
<circle cx="419.00" cy="280.80" r="2.35" fill="#fff" stroke="#111" stroke-width="1.3"/>
<circle cx="455.50" cy="282.70" r="2.35" fill="#fff" stroke="#111" stroke-width="1.3"/>
<circle cx="492.20" cy="306.80" r="2.35" fill="#fff" stroke="#111" stroke-width="1.3"/>
<text x="342.00" y="235.90" font-size="15.5" textLength="16.90" lengthAdjust="spacingAndGlyphs" fill="#111">20</text>
<text x="342.00" y="279.30" font-size="15.5" textLength="16.90" lengthAdjust="spacingAndGlyphs" fill="#111">10</text>
<text x="65.80" y="334.60" font-size="16" textLength="9.40" lengthAdjust="spacingAndGlyphs" fill="#111">1</text>
<text x="102.10" y="334.60" font-size="16" textLength="9.40" lengthAdjust="spacingAndGlyphs" fill="#111">2</text>
<text x="138.30" y="334.60" font-size="16" textLength="9.40" lengthAdjust="spacingAndGlyphs" fill="#111">3</text>
<text x="174.40" y="334.60" font-size="16" textLength="9.40" lengthAdjust="spacingAndGlyphs" fill="#111">4</text>
<text x="220.80" y="334.60" font-size="16" textLength="9.40" lengthAdjust="spacingAndGlyphs" fill="#111">1</text>
<text x="257.00" y="334.60" font-size="16" textLength="9.40" lengthAdjust="spacingAndGlyphs" fill="#111">2</text>
<text x="292.90" y="334.60" font-size="16" textLength="9.40" lengthAdjust="spacingAndGlyphs" fill="#111">3</text>
<text x="329.20" y="334.60" font-size="16" textLength="9.40" lengthAdjust="spacingAndGlyphs" fill="#111">4</text>
<text x="377.80" y="334.60" font-size="16" textLength="9.40" lengthAdjust="spacingAndGlyphs" fill="#111">1</text>
<text x="414.30" y="334.60" font-size="16" textLength="9.40" lengthAdjust="spacingAndGlyphs" fill="#111">2</text>
<text x="450.80" y="334.60" font-size="16" textLength="9.40" lengthAdjust="spacingAndGlyphs" fill="#111">3</text>
<text x="487.50" y="334.60" font-size="16" textLength="9.40" lengthAdjust="spacingAndGlyphs" fill="#111">4</text>
<text x="211.00" y="351.80" font-size="15.5" textLength="134.30" lengthAdjust="spacingAndGlyphs" fill="#111">Day after activation</text>
<text x="111.20" y="386.20" font-size="18.5" textLength="14.30" lengthAdjust="spacingAndGlyphs" font-weight="bold" fill="#000">C</text>
<text x="236.80" y="388.60" font-size="15.5" textLength="85.00" lengthAdjust="spacingAndGlyphs" fill="#111">Proliferation</text>
<line x1="170.10" y1="403.30" x2="170.10" y2="573.20" stroke="#000" stroke-width="1.8"/>
<line x1="166.50" y1="572.40" x2="398.00" y2="572.40" stroke="#000" stroke-width="1.8"/>
<line x1="166.50" y1="534.98" x2="170.30" y2="534.98" stroke="#000" stroke-width="1.6"/>
<line x1="166.50" y1="497.55" x2="170.30" y2="497.55" stroke="#000" stroke-width="1.6"/>
<line x1="166.50" y1="460.12" x2="170.30" y2="460.12" stroke="#000" stroke-width="1.6"/>
<line x1="166.50" y1="422.70" x2="170.30" y2="422.70" stroke="#000" stroke-width="1.6"/>
<text x="142.40" y="575.00" font-size="15.5" textLength="21.50" lengthAdjust="spacingAndGlyphs" fill="#111">0.0</text>
<text x="142.40" y="540.18" font-size="15.5" textLength="21.50" lengthAdjust="spacingAndGlyphs" fill="#111">0.5</text>
<text x="142.40" y="502.75" font-size="15.5" textLength="21.50" lengthAdjust="spacingAndGlyphs" fill="#111">1.0</text>
<text x="142.40" y="465.32" font-size="15.5" textLength="21.50" lengthAdjust="spacingAndGlyphs" fill="#111">1.5</text>
<text x="142.40" y="427.90" font-size="15.5" textLength="21.50" lengthAdjust="spacingAndGlyphs" fill="#111">2.0</text>
<text transform="translate(136.10,540.20) rotate(-90)" font-size="16" textLength="98.40" lengthAdjust="spacingAndGlyphs" fill="#111">Division Index</text>
<line x1="193.00" y1="572.40" x2="193.00" y2="577.60" stroke="#000" stroke-width="1.6"/>
<line x1="238.00" y1="572.40" x2="238.00" y2="577.60" stroke="#000" stroke-width="1.6"/>
<line x1="283.75" y1="572.40" x2="283.75" y2="577.60" stroke="#000" stroke-width="1.6"/>
<line x1="328.90" y1="572.40" x2="328.90" y2="577.60" stroke="#000" stroke-width="1.6"/>
<line x1="374.50" y1="572.40" x2="374.50" y2="577.60" stroke="#000" stroke-width="1.6"/>
<path d="M193.00 464.70V485.30M188.30 464.70H197.70M188.30 485.30H197.70" stroke="#111" stroke-width="1.9" fill="none"/>
<path d="M238.00 481.25V504.25M233.30 481.25H242.70M233.30 504.25H242.70" stroke="#111" stroke-width="1.9" fill="none"/>
<path d="M283.75 502.50V522.50M279.05 502.50H288.45M279.05 522.50H288.45" stroke="#111" stroke-width="1.9" fill="none"/>
<path d="M328.90 525.75V543.00M324.20 525.75H333.60M324.20 543.00H333.60" stroke="#111" stroke-width="1.9" fill="none"/>
<path d="M374.50 532.50V551.25M369.80 532.50H379.20M369.80 551.25H379.20" stroke="#111" stroke-width="1.9" fill="none"/>
<path d="M193.00 415.50V461.50M188.30 415.50H197.70M188.30 461.50H197.70" stroke="#111" stroke-width="1.9" fill="none"/>
<path d="M238.00 430.00V469.25M233.30 430.00H242.70M233.30 469.25H242.70" stroke="#111" stroke-width="1.9" fill="none"/>
<path d="M283.75 467.00V495.75M279.05 467.00H288.45M279.05 495.75H288.45" stroke="#111" stroke-width="1.9" fill="none"/>
<path d="M328.90 497.00V520.00M324.20 497.00H333.60M324.20 520.00H333.60" stroke="#111" stroke-width="1.9" fill="none"/>
<path d="M374.50 529.50V545.50M369.80 529.50H379.20M369.80 545.50H379.20" stroke="#111" stroke-width="1.9" fill="none"/>
<circle cx="193.00" cy="438.00" r="3.50" fill="#fff" stroke="#111" stroke-width="2.0"/>
<circle cx="238.00" cy="449.25" r="3.50" fill="#fff" stroke="#111" stroke-width="2.0"/>
<circle cx="283.75" cy="481.25" r="3.50" fill="#fff" stroke="#111" stroke-width="2.0"/>
<circle cx="328.90" cy="508.00" r="3.50" fill="#fff" stroke="#111" stroke-width="2.0"/>
<circle cx="374.50" cy="537.00" r="3.50" fill="#fff" stroke="#111" stroke-width="2.0"/>
<rect x="189.75" y="471.75" width="6.5" height="6.5" fill="#111"/>
<rect x="234.75" y="489.25" width="6.5" height="6.5" fill="#111"/>
<rect x="280.50" y="508.75" width="6.5" height="6.5" fill="#111"/>
<rect x="325.65" y="530.50" width="6.5" height="6.5" fill="#111"/>
<rect x="371.25" y="536.75" width="6.5" height="6.5" fill="#111"/>
<text x="185.00" y="592.90" font-size="15" textLength="20.40" lengthAdjust="spacingAndGlyphs" fill="#111">1:8</text>
<text x="227.50" y="592.90" font-size="15" textLength="29.30" lengthAdjust="spacingAndGlyphs" fill="#111">1:16</text>
<text x="270.80" y="592.90" font-size="15" textLength="29.70" lengthAdjust="spacingAndGlyphs" fill="#111">1:32</text>
<text x="312.40" y="592.90" font-size="15" textLength="29.40" lengthAdjust="spacingAndGlyphs" fill="#111">1:64</text>
<text x="356.30" y="592.90" font-size="15" textLength="37.50" lengthAdjust="spacingAndGlyphs" fill="#111">1:128</text>
<text x="220.80" y="610.70" font-size="15.5" textLength="132.40" lengthAdjust="spacingAndGlyphs" fill="#111">Ratio (beads:cells)</text>
<text x="239.8" y="423.0" font-size="27" text-anchor="middle" fill="#111" stroke="#111" stroke-width="0.55">*</text>
<text x="284.8" y="456.7" font-size="27" text-anchor="middle" fill="#111" stroke="#111" stroke-width="0.55">*</text>
<text x="329.8" y="488.7" font-size="27" text-anchor="middle" fill="#111" stroke="#111" stroke-width="0.55">*</text>
<circle cx="341.30" cy="412.00" r="2.70" fill="#fff" stroke="#111" stroke-width="1.6"/>
<rect x="338.30" y="432.00" width="6" height="6" fill="#111"/>
<text x="355.00" y="416.60" font-size="16" textLength="68.20" lengthAdjust="spacingAndGlyphs" fill="#111">siFOXP3</text>
<text x="355.00" y="437.50" font-size="16" textLength="40.30" lengthAdjust="spacingAndGlyphs" fill="#111">siLuc</text>
<text x="5.80" y="645.00" font-size="18.5" textLength="14.20" lengthAdjust="spacingAndGlyphs" font-weight="bold" fill="#000">D</text>
<text x="161.20" y="654.40" font-size="15" textLength="37.30" lengthAdjust="spacingAndGlyphs" fill="#111">IFN-γ</text>
<text x="399.50" y="655.00" font-size="15" textLength="27.00" lengthAdjust="spacingAndGlyphs" fill="#111">IL-2</text>
<line x1="87.20" y1="657.00" x2="87.20" y2="775.40" stroke="#000" stroke-width="1.4"/>
<line x1="83.30" y1="774.80" x2="264.50" y2="774.80" stroke="#000" stroke-width="1.5"/>
<line x1="83.30" y1="716.15" x2="87.20" y2="716.15" stroke="#000" stroke-width="1.2"/>
<line x1="83.30" y1="657.50" x2="87.20" y2="657.50" stroke="#000" stroke-width="1.2"/>
<line x1="84.00" y1="745.47" x2="87.20" y2="745.47" stroke="#000" stroke-width="1.2"/>
<line x1="84.00" y1="686.82" x2="87.20" y2="686.82" stroke="#000" stroke-width="1.2"/>
<text x="36.80" y="663.80" font-size="15.5" textLength="42.60" lengthAdjust="spacingAndGlyphs" fill="#111">10000</text>
<text x="44.80" y="723.20" font-size="15.5" textLength="34.60" lengthAdjust="spacingAndGlyphs" fill="#111">5000</text>
<text x="70.40" y="778.80" font-size="15.5" textLength="9.80" lengthAdjust="spacingAndGlyphs" fill="#111">0</text>
<text transform="translate(30.60,764.80) rotate(-90)" font-size="15" textLength="106.60" lengthAdjust="spacingAndGlyphs" fill="#111">[IFN-γ] (pg/mL)</text>
<path d="M105.00 700.50V765.00M101.20 700.50H108.80M101.20 765.00H108.80" stroke="#111" stroke-width="1.25" fill="none"/>
<path d="M140.20 725.60V769.50M136.40 725.60H144.00M136.40 769.50H144.00" stroke="#111" stroke-width="1.25" fill="none"/>
<path d="M175.30 747.70V772.00M171.50 747.70H179.10M171.50 772.00H179.10" stroke="#111" stroke-width="1.25" fill="none"/>
<path d="M210.90 760.00V773.70M207.10 760.00H214.70M207.10 773.70H214.70" stroke="#111" stroke-width="1.25" fill="none"/>
<path d="M245.70 766.00V773.50M241.90 766.00H249.50M241.90 773.50H249.50" stroke="#111" stroke-width="1.25" fill="none"/>
<path d="M105.00 682.50V762.30M101.20 682.50H108.80M101.20 762.30H108.80" stroke="#111" stroke-width="1.25" fill="none"/>
<path d="M140.20 671.50V744.30M136.40 671.50H144.00M136.40 744.30H144.00" stroke="#111" stroke-width="1.25" fill="none"/>
<path d="M175.30 690.30V752.00M171.50 690.30H179.10M171.50 752.00H179.10" stroke="#111" stroke-width="1.25" fill="none"/>
<path d="M210.90 752.30V770.00M207.10 752.30H214.70M207.10 770.00H214.70" stroke="#111" stroke-width="1.25" fill="none"/>
<path d="M245.70 764.20V772.00M241.90 764.20H249.50M241.90 772.00H249.50" stroke="#111" stroke-width="1.25" fill="none"/>
<circle cx="105.00" cy="722.50" r="2.60" fill="#fff" stroke="#111" stroke-width="1.8"/>
<circle cx="140.20" cy="707.90" r="2.60" fill="#fff" stroke="#111" stroke-width="1.8"/>
<circle cx="175.30" cy="722.70" r="2.60" fill="#fff" stroke="#111" stroke-width="1.8"/>
<circle cx="210.90" cy="761.40" r="2.60" fill="#fff" stroke="#111" stroke-width="1.8"/>
<circle cx="245.70" cy="768.00" r="2.60" fill="#fff" stroke="#111" stroke-width="1.8"/>
<rect x="101.85" y="730.10" width="6.3" height="6.3" fill="#111"/>
<rect x="137.05" y="744.05" width="6.3" height="6.3" fill="#111"/>
<rect x="172.15" y="756.85" width="6.3" height="6.3" fill="#111"/>
<rect x="207.75" y="763.55" width="6.3" height="6.3" fill="#111"/>
<rect x="242.55" y="766.45" width="6.3" height="6.3" fill="#111"/>
<text x="91.60" y="789.00" font-size="14" textLength="18.80" lengthAdjust="spacingAndGlyphs" fill="#111">1:8</text>
<text x="118.60" y="789.00" font-size="14" textLength="26.80" lengthAdjust="spacingAndGlyphs" fill="#111">1:16</text>
<text x="154.10" y="789.00" font-size="14" textLength="27.60" lengthAdjust="spacingAndGlyphs" fill="#111">1:32</text>
<text x="192.10" y="789.00" font-size="14" textLength="26.60" lengthAdjust="spacingAndGlyphs" fill="#111">1:64</text>
<text x="227.10" y="789.00" font-size="14" textLength="33.90" lengthAdjust="spacingAndGlyphs" fill="#111">1:128</text>
<text x="109.50" y="808.40" font-size="15.5" textLength="131.00" lengthAdjust="spacingAndGlyphs" fill="#111">Ratio (beads:cells)</text>
<line x1="322.50" y1="656.50" x2="322.50" y2="775.40" stroke="#000" stroke-width="1.5"/>
<line x1="318.40" y1="774.80" x2="499.20" y2="774.80" stroke="#000" stroke-width="1.5"/>
<line x1="318.40" y1="722.40" x2="322.50" y2="722.40" stroke="#000" stroke-width="1.3"/>
<line x1="318.40" y1="670.00" x2="322.50" y2="670.00" stroke="#000" stroke-width="1.3"/>
<line x1="319.60" y1="748.60" x2="322.50" y2="748.60" stroke="#000" stroke-width="1.3"/>
<line x1="319.60" y1="696.20" x2="322.50" y2="696.20" stroke="#000" stroke-width="1.3"/>
<text x="290.10" y="675.30" font-size="15.5" textLength="25.90" lengthAdjust="spacingAndGlyphs" fill="#111">800</text>
<text x="289.50" y="728.30" font-size="15.5" textLength="26.50" lengthAdjust="spacingAndGlyphs" fill="#111">400</text>
<text x="305.80" y="779.00" font-size="15.5" textLength="10.00" lengthAdjust="spacingAndGlyphs" fill="#111">0</text>
<text transform="translate(281.40,755.00) rotate(-90)" font-size="15" textLength="96.00" lengthAdjust="spacingAndGlyphs" fill="#111">[IL-2] (pg/mL)</text>
<path d="M340.00 701.75V749.25M336.20 701.75H343.80M336.20 749.25H343.80" stroke="#111" stroke-width="1.25" fill="none"/>
<path d="M375.40 736.50V757.50M371.60 736.50H379.20M371.60 757.50H379.20" stroke="#111" stroke-width="1.25" fill="none"/>
<path d="M410.60 761.50V768.60M406.80 761.50H414.40M406.80 768.60H414.40" stroke="#111" stroke-width="1.25" fill="none"/>
<path d="M445.70 764.00V769.60M441.90 764.00H449.50M441.90 769.60H449.50" stroke="#111" stroke-width="1.25" fill="none"/>
<path d="M480.80 761.00V769.30M477.00 761.00H484.60M477.00 769.30H484.60" stroke="#111" stroke-width="1.25" fill="none"/>
<path d="M340.00 673.00V717.20M336.20 673.00H343.80M336.20 717.20H343.80" stroke="#111" stroke-width="1.25" fill="none"/>
<path d="M375.40 731.00V744.50M371.60 731.00H379.20M371.60 744.50H379.20" stroke="#111" stroke-width="1.25" fill="none"/>
<path d="M410.60 754.40V763.50M406.80 754.40H414.40M406.80 763.50H414.40" stroke="#111" stroke-width="1.25" fill="none"/>
<path d="M445.70 763.00V768.00M441.90 763.00H449.50M441.90 768.00H449.50" stroke="#111" stroke-width="1.25" fill="none"/>
<path d="M480.80 759.50V768.00M477.00 759.50H484.60M477.00 768.00H484.60" stroke="#111" stroke-width="1.25" fill="none"/>
<circle cx="340.00" cy="695.50" r="2.60" fill="#fff" stroke="#111" stroke-width="1.8"/>
<circle cx="375.40" cy="737.70" r="2.60" fill="#fff" stroke="#111" stroke-width="1.8"/>
<circle cx="410.60" cy="758.80" r="2.60" fill="#fff" stroke="#111" stroke-width="1.8"/>
<circle cx="445.70" cy="765.30" r="2.60" fill="#fff" stroke="#111" stroke-width="1.8"/>
<circle cx="480.80" cy="764.00" r="2.60" fill="#fff" stroke="#111" stroke-width="1.8"/>
<rect x="336.85" y="722.60" width="6.3" height="6.3" fill="#111"/>
<rect x="372.25" y="743.75" width="6.3" height="6.3" fill="#111"/>
<rect x="407.45" y="761.85" width="6.3" height="6.3" fill="#111"/>
<rect x="442.55" y="763.25" width="6.3" height="6.3" fill="#111"/>
<rect x="477.65" y="762.05" width="6.3" height="6.3" fill="#111"/>
<text x="324.60" y="789.00" font-size="14" textLength="19.60" lengthAdjust="spacingAndGlyphs" fill="#111">1:8</text>
<text x="356.60" y="789.00" font-size="14" textLength="26.80" lengthAdjust="spacingAndGlyphs" fill="#111">1:16</text>
<text x="391.10" y="789.00" font-size="14" textLength="27.40" lengthAdjust="spacingAndGlyphs" fill="#111">1:32</text>
<text x="426.80" y="789.00" font-size="14" textLength="27.20" lengthAdjust="spacingAndGlyphs" fill="#111">1:64</text>
<text x="459.60" y="789.00" font-size="14" textLength="35.50" lengthAdjust="spacingAndGlyphs" fill="#111">1:128</text>
<text x="342.80" y="808.30" font-size="15.5" textLength="132.00" lengthAdjust="spacingAndGlyphs" fill="#111">Ratio (beads:cells)</text>
<circle cx="434.40" cy="684.00" r="3.05" fill="#fff" stroke="#111" stroke-width="1.7"/>
<rect x="430.80" y="705.40" width="6.4" height="6.4" fill="#111"/>
<text x="447.10" y="686.80" font-size="15.5" textLength="63.70" lengthAdjust="spacingAndGlyphs" fill="#111">siFOXP3</text>
<text x="447.10" y="711.80" font-size="15.5" textLength="37.90" lengthAdjust="spacingAndGlyphs" fill="#111">siLuc</text>
</g>
</svg>
</body></html>
